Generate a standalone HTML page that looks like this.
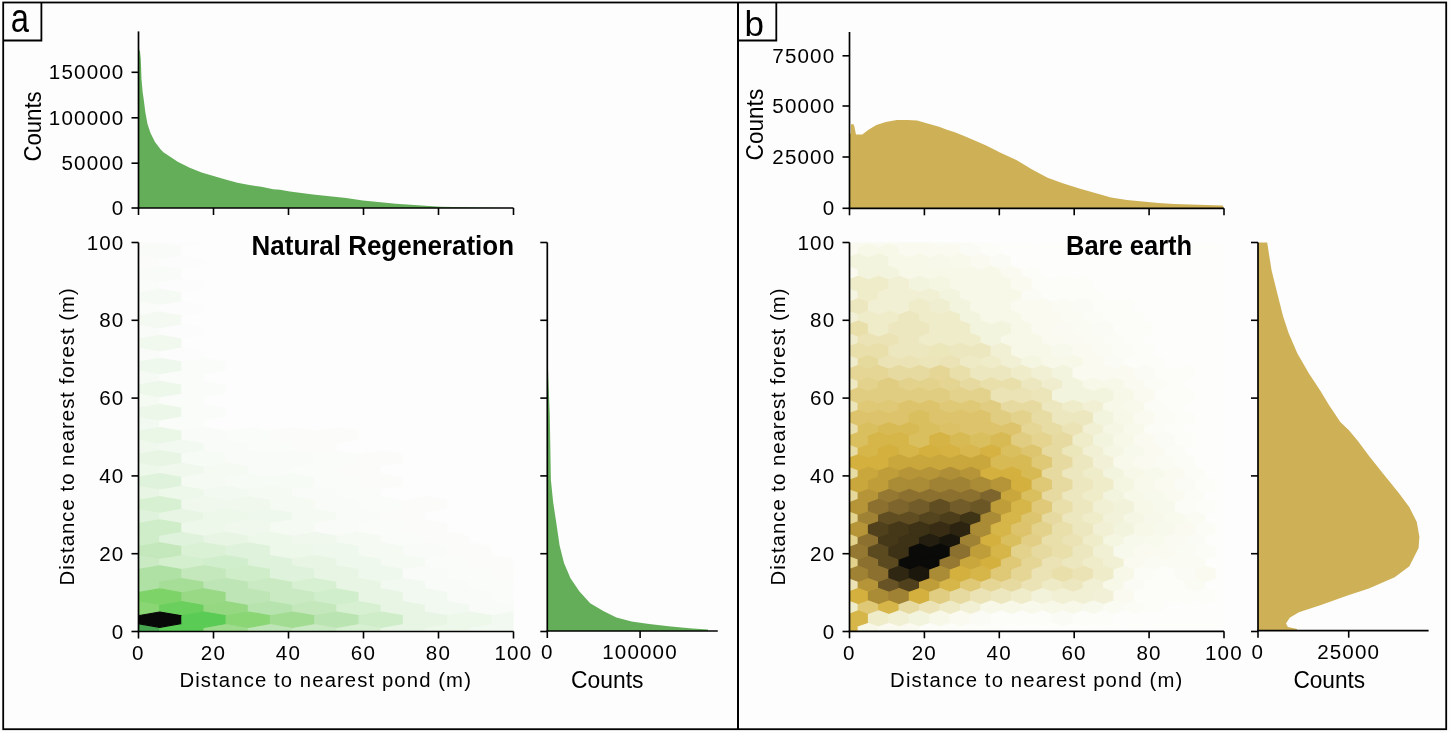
<!DOCTYPE html>
<html><head><meta charset="utf-8"><style>
html,body{margin:0;padding:0;background:#fdfdfd;width:1450px;height:733px;overflow:hidden;}
svg{display:block;will-change:transform;}
</style></head><body>
<svg width="1450" height="733" viewBox="0 0 1450 733" font-family='"Liberation Sans", sans-serif'>
<rect x="0" y="0" width="1450" height="733" fill="#fdfdfd"/>
<defs><clipPath id="clipL"><rect x="138.5" y="242.5" width="375" height="389"/></clipPath><clipPath id="clipR"><rect x="849.5" y="242.5" width="374.5" height="389"/></clipPath></defs>
<g clip-path="url(#clipL)" stroke-width="1.2" stroke-linejoin="round">
<polygon points="159.75,627.36 137.60,623.51 115.45,627.36 115.45,635.04 137.60,638.89 159.75,635.04" fill="#48a852" stroke="#48a852"/>
<polygon points="204.05,627.36 181.90,623.51 159.75,627.36 159.75,635.04 181.90,638.89 204.05,635.04" fill="#5acb55" stroke="#5acb55"/>
<polygon points="248.35,627.36 226.20,623.51 204.05,627.36 204.05,635.04 226.20,638.89 248.35,635.04" fill="#9edb8d" stroke="#9edb8d"/>
<polygon points="292.65,627.36 270.50,623.51 248.35,627.36 248.35,635.04 270.50,638.89 292.65,635.04" fill="#bee5b5" stroke="#bee5b5"/>
<polygon points="336.95,627.36 314.80,623.51 292.65,627.36 292.65,635.04 314.80,638.89 336.95,635.04" fill="#c9eac2" stroke="#c9eac2"/>
<polygon points="381.25,627.36 359.10,623.51 336.95,627.36 336.95,635.04 359.10,638.89 381.25,635.04" fill="#d7f0d1" stroke="#d7f0d1"/>
<polygon points="425.55,627.36 403.40,623.51 381.25,627.36 381.25,635.04 403.40,638.89 425.55,635.04" fill="#e8f5e4" stroke="#e8f5e4"/>
<polygon points="469.85,627.36 447.70,623.51 425.55,627.36 425.55,635.04 447.70,638.89 469.85,635.04" fill="#edf7ea" stroke="#edf7ea"/>
<polygon points="514.15,627.36 492.00,623.51 469.85,627.36 469.85,635.04 492.00,638.89 514.15,635.04" fill="#f2f9f0" stroke="#f2f9f0"/>
<polygon points="558.45,627.36 536.30,623.51 514.15,627.36 514.15,635.04 536.30,638.89 558.45,635.04" fill="#f8fbf7" stroke="#f8fbf7"/>
<polygon points="159.75,604.30 137.60,600.45 115.45,604.30 115.45,611.98 137.60,615.83 159.75,611.98" fill="#8ad675" stroke="#8ad675"/>
<polygon points="204.05,604.30 181.90,600.45 159.75,604.30 159.75,611.98 181.90,615.83 204.05,611.98" fill="#6bcf5e" stroke="#6bcf5e"/>
<polygon points="248.35,604.30 226.20,600.45 204.05,604.30 204.05,611.98 226.20,615.83 248.35,611.98" fill="#96d882" stroke="#96d882"/>
<polygon points="292.65,604.30 270.50,600.45 248.35,604.30 248.35,611.98 270.50,615.83 292.65,611.98" fill="#b7e3af" stroke="#b7e3af"/>
<polygon points="336.95,604.30 314.80,600.45 292.65,604.30 292.65,611.98 314.80,615.83 336.95,611.98" fill="#c4e7bb" stroke="#c4e7bb"/>
<polygon points="381.25,604.30 359.10,600.45 336.95,604.30 336.95,611.98 359.10,615.83 381.25,611.98" fill="#d7f0d1" stroke="#d7f0d1"/>
<polygon points="425.55,604.30 403.40,600.45 381.25,604.30 381.25,611.98 403.40,615.83 425.55,611.98" fill="#e8f5e4" stroke="#e8f5e4"/>
<polygon points="469.85,604.30 447.70,600.45 425.55,604.30 425.55,611.98 447.70,615.83 469.85,611.98" fill="#f2f9f0" stroke="#f2f9f0"/>
<polygon points="514.15,604.30 492.00,600.45 469.85,604.30 469.85,611.98 492.00,615.83 514.15,611.98" fill="#f8fbf7" stroke="#f8fbf7"/>
<polygon points="558.45,604.30 536.30,600.45 514.15,604.30 514.15,611.98 536.30,615.83 558.45,611.98" fill="#fafcf9" stroke="#fafcf9"/>
<polygon points="159.75,581.24 137.60,577.39 115.45,581.24 115.45,588.92 137.60,592.77 159.75,588.92" fill="#afe0a4" stroke="#afe0a4"/>
<polygon points="204.05,581.24 181.90,577.39 159.75,581.24 159.75,588.92 181.90,592.77 204.05,588.92" fill="#a6de98" stroke="#a6de98"/>
<polygon points="248.35,581.24 226.20,577.39 204.05,581.24 204.05,588.92 226.20,592.77 248.35,588.92" fill="#bee5b5" stroke="#bee5b5"/>
<polygon points="292.65,581.24 270.50,577.39 248.35,581.24 248.35,588.92 270.50,592.77 292.65,588.92" fill="#c9eac2" stroke="#c9eac2"/>
<polygon points="336.95,581.24 314.80,577.39 292.65,581.24 292.65,588.92 314.80,592.77 336.95,588.92" fill="#d7f0d1" stroke="#d7f0d1"/>
<polygon points="381.25,581.24 359.10,577.39 336.95,581.24 336.95,588.92 359.10,592.77 381.25,588.92" fill="#e8f5e4" stroke="#e8f5e4"/>
<polygon points="425.55,581.24 403.40,577.39 381.25,581.24 381.25,588.92 403.40,592.77 425.55,588.92" fill="#f2f9f0" stroke="#f2f9f0"/>
<polygon points="469.85,581.24 447.70,577.39 425.55,581.24 425.55,588.92 447.70,592.77 469.85,588.92" fill="#f8fbf7" stroke="#f8fbf7"/>
<polygon points="514.15,581.24 492.00,577.39 469.85,581.24 469.85,588.92 492.00,592.77 514.15,588.92" fill="#fafcf9" stroke="#fafcf9"/>
<polygon points="558.45,581.24 536.30,577.39 514.15,581.24 514.15,588.92 536.30,592.77 558.45,588.92" fill="#fbfcfa" stroke="#fbfcfa"/>
<polygon points="159.75,558.18 137.60,554.33 115.45,558.18 115.45,565.86 137.60,569.71 159.75,565.86" fill="#c9eac2" stroke="#c9eac2"/>
<polygon points="204.05,558.18 181.90,554.33 159.75,558.18 159.75,565.86 181.90,569.71 204.05,565.86" fill="#d3efce" stroke="#d3efce"/>
<polygon points="248.35,558.18 226.20,554.33 204.05,558.18 204.05,565.86 226.20,569.71 248.35,565.86" fill="#d1eecc" stroke="#d1eecc"/>
<polygon points="292.65,558.18 270.50,554.33 248.35,558.18 248.35,565.86 270.50,569.71 292.65,565.86" fill="#dff2db" stroke="#dff2db"/>
<polygon points="336.95,558.18 314.80,554.33 292.65,558.18 292.65,565.86 314.80,569.71 336.95,565.86" fill="#e8f5e4" stroke="#e8f5e4"/>
<polygon points="381.25,558.18 359.10,554.33 336.95,558.18 336.95,565.86 359.10,569.71 381.25,565.86" fill="#eff8ed" stroke="#eff8ed"/>
<polygon points="425.55,558.18 403.40,554.33 381.25,558.18 381.25,565.86 403.40,569.71 425.55,565.86" fill="#f5faf3" stroke="#f5faf3"/>
<polygon points="469.85,558.18 447.70,554.33 425.55,558.18 425.55,565.86 447.70,569.71 469.85,565.86" fill="#fafcf9" stroke="#fafcf9"/>
<polygon points="514.15,558.18 492.00,554.33 469.85,558.18 469.85,565.86 492.00,569.71 514.15,565.86" fill="#fbfcfa" stroke="#fbfcfa"/>
<polygon points="558.45,558.18 536.30,554.33 514.15,558.18 514.15,565.86 536.30,569.71 558.45,565.86" fill="#fcfdfc" stroke="#fcfdfc"/>
<polygon points="159.75,535.12 137.60,531.27 115.45,535.12 115.45,542.80 137.60,546.65 159.75,542.80" fill="#ceedc8" stroke="#ceedc8"/>
<polygon points="204.05,535.12 181.90,531.27 159.75,535.12 159.75,542.80 181.90,546.65 204.05,542.80" fill="#dff2db" stroke="#dff2db"/>
<polygon points="248.35,535.12 226.20,531.27 204.05,535.12 204.05,542.80 226.20,546.65 248.35,542.80" fill="#e8f5e4" stroke="#e8f5e4"/>
<polygon points="292.65,535.12 270.50,531.27 248.35,535.12 248.35,542.80 270.50,546.65 292.65,542.80" fill="#edf7ea" stroke="#edf7ea"/>
<polygon points="336.95,535.12 314.80,531.27 292.65,535.12 292.65,542.80 314.80,546.65 336.95,542.80" fill="#f0f8ee" stroke="#f0f8ee"/>
<polygon points="381.25,535.12 359.10,531.27 336.95,535.12 336.95,542.80 359.10,546.65 381.25,542.80" fill="#f5faf3" stroke="#f5faf3"/>
<polygon points="425.55,535.12 403.40,531.27 381.25,535.12 381.25,542.80 403.40,546.65 425.55,542.80" fill="#fafcf9" stroke="#fafcf9"/>
<polygon points="469.85,535.12 447.70,531.27 425.55,535.12 425.55,542.80 447.70,546.65 469.85,542.80" fill="#fbfcfa" stroke="#fbfcfa"/>
<polygon points="514.15,535.12 492.00,531.27 469.85,535.12 469.85,542.80 492.00,546.65 514.15,542.80" fill="#fcfdfc" stroke="#fcfdfc"/>
<polygon points="558.45,535.12 536.30,531.27 514.15,535.12 514.15,542.80 536.30,546.65 558.45,542.80" fill="#fcfdfc" stroke="#fcfdfc"/>
<polygon points="159.75,512.06 137.60,508.21 115.45,512.06 115.45,519.74 137.60,523.59 159.75,519.74" fill="#dff2db" stroke="#dff2db"/>
<polygon points="204.05,512.06 181.90,508.21 159.75,512.06 159.75,519.74 181.90,523.59 204.05,519.74" fill="#e8f5e4" stroke="#e8f5e4"/>
<polygon points="248.35,512.06 226.20,508.21 204.05,512.06 204.05,519.74 226.20,523.59 248.35,519.74" fill="#edf7ea" stroke="#edf7ea"/>
<polygon points="292.65,512.06 270.50,508.21 248.35,512.06 248.35,519.74 270.50,523.59 292.65,519.74" fill="#eff8ed" stroke="#eff8ed"/>
<polygon points="336.95,512.06 314.80,508.21 292.65,512.06 292.65,519.74 314.80,523.59 336.95,519.74" fill="#f5faf3" stroke="#f5faf3"/>
<polygon points="381.25,512.06 359.10,508.21 336.95,512.06 336.95,519.74 359.10,523.59 381.25,519.74" fill="#f9fbf8" stroke="#f9fbf8"/>
<polygon points="425.55,512.06 403.40,508.21 381.25,512.06 381.25,519.74 403.40,523.59 425.55,519.74" fill="#fbfcfa" stroke="#fbfcfa"/>
<polygon points="469.85,512.06 447.70,508.21 425.55,512.06 425.55,519.74 447.70,523.59 469.85,519.74" fill="#fcfdfc" stroke="#fcfdfc"/>
<polygon points="514.15,512.06 492.00,508.21 469.85,512.06 469.85,519.74 492.00,523.59 514.15,519.74" fill="#fcfdfc" stroke="#fcfdfc"/>
<polygon points="558.45,512.06 536.30,508.21 514.15,512.06 514.15,519.74 536.30,523.59 558.45,519.74" fill="#fcfdfc" stroke="#fcfdfc"/>
<polygon points="159.75,489.00 137.60,485.15 115.45,489.00 115.45,496.68 137.60,500.53 159.75,496.68" fill="#e8f5e4" stroke="#e8f5e4"/>
<polygon points="204.05,489.00 181.90,485.15 159.75,489.00 159.75,496.68 181.90,500.53 204.05,496.68" fill="#edf7ea" stroke="#edf7ea"/>
<polygon points="248.35,489.00 226.20,485.15 204.05,489.00 204.05,496.68 226.20,500.53 248.35,496.68" fill="#f2f9f0" stroke="#f2f9f0"/>
<polygon points="292.65,489.00 270.50,485.15 248.35,489.00 248.35,496.68 270.50,500.53 292.65,496.68" fill="#f5faf3" stroke="#f5faf3"/>
<polygon points="336.95,489.00 314.80,485.15 292.65,489.00 292.65,496.68 314.80,500.53 336.95,496.68" fill="#f8fbf7" stroke="#f8fbf7"/>
<polygon points="381.25,489.00 359.10,485.15 336.95,489.00 336.95,496.68 359.10,500.53 381.25,496.68" fill="#fafcf9" stroke="#fafcf9"/>
<polygon points="425.55,489.00 403.40,485.15 381.25,489.00 381.25,496.68 403.40,500.53 425.55,496.68" fill="#fcfdfc" stroke="#fcfdfc"/>
<polygon points="469.85,489.00 447.70,485.15 425.55,489.00 425.55,496.68 447.70,500.53 469.85,496.68" fill="#fcfdfc" stroke="#fcfdfc"/>
<polygon points="514.15,489.00 492.00,485.15 469.85,489.00 469.85,496.68 492.00,500.53 514.15,496.68" fill="#fcfdfc" stroke="#fcfdfc"/>
<polygon points="558.45,489.00 536.30,485.15 514.15,489.00 514.15,496.68 536.30,500.53 558.45,496.68" fill="#fcfdfc" stroke="#fcfdfc"/>
<polygon points="159.75,465.94 137.60,462.09 115.45,465.94 115.45,473.62 137.60,477.47 159.75,473.62" fill="#edf7ea" stroke="#edf7ea"/>
<polygon points="204.05,465.94 181.90,462.09 159.75,465.94 159.75,473.62 181.90,477.47 204.05,473.62" fill="#f0f8ee" stroke="#f0f8ee"/>
<polygon points="248.35,465.94 226.20,462.09 204.05,465.94 204.05,473.62 226.20,477.47 248.35,473.62" fill="#f5faf3" stroke="#f5faf3"/>
<polygon points="292.65,465.94 270.50,462.09 248.35,465.94 248.35,473.62 270.50,477.47 292.65,473.62" fill="#f8fbf7" stroke="#f8fbf7"/>
<polygon points="336.95,465.94 314.80,462.09 292.65,465.94 292.65,473.62 314.80,477.47 336.95,473.62" fill="#fafcf9" stroke="#fafcf9"/>
<polygon points="381.25,465.94 359.10,462.09 336.95,465.94 336.95,473.62 359.10,477.47 381.25,473.62" fill="#fbfcfa" stroke="#fbfcfa"/>
<polygon points="425.55,465.94 403.40,462.09 381.25,465.94 381.25,473.62 403.40,477.47 425.55,473.62" fill="#fcfdfc" stroke="#fcfdfc"/>
<polygon points="469.85,465.94 447.70,462.09 425.55,465.94 425.55,473.62 447.70,477.47 469.85,473.62" fill="#fcfdfc" stroke="#fcfdfc"/>
<polygon points="514.15,465.94 492.00,462.09 469.85,465.94 469.85,473.62 492.00,477.47 514.15,473.62" fill="#fcfdfc" stroke="#fcfdfc"/>
<polygon points="558.45,465.94 536.30,462.09 514.15,465.94 514.15,473.62 536.30,477.47 558.45,473.62" fill="#fcfdfc" stroke="#fcfdfc"/>
<polygon points="159.75,442.88 137.60,439.03 115.45,442.88 115.45,450.56 137.60,454.41 159.75,450.56" fill="#f0f8ee" stroke="#f0f8ee"/>
<polygon points="204.05,442.88 181.90,439.03 159.75,442.88 159.75,450.56 181.90,454.41 204.05,450.56" fill="#f2f9f0" stroke="#f2f9f0"/>
<polygon points="248.35,442.88 226.20,439.03 204.05,442.88 204.05,450.56 226.20,454.41 248.35,450.56" fill="#f8fbf7" stroke="#f8fbf7"/>
<polygon points="292.65,442.88 270.50,439.03 248.35,442.88 248.35,450.56 270.50,454.41 292.65,450.56" fill="#fafcf9" stroke="#fafcf9"/>
<polygon points="336.95,442.88 314.80,439.03 292.65,442.88 292.65,450.56 314.80,454.41 336.95,450.56" fill="#fbfcfa" stroke="#fbfcfa"/>
<polygon points="381.25,442.88 359.10,439.03 336.95,442.88 336.95,450.56 359.10,454.41 381.25,450.56" fill="#fcfdfc" stroke="#fcfdfc"/>
<polygon points="425.55,442.88 403.40,439.03 381.25,442.88 381.25,450.56 403.40,454.41 425.55,450.56" fill="#fcfdfc" stroke="#fcfdfc"/>
<polygon points="469.85,442.88 447.70,439.03 425.55,442.88 425.55,450.56 447.70,454.41 469.85,450.56" fill="#fcfdfc" stroke="#fcfdfc"/>
<polygon points="514.15,442.88 492.00,439.03 469.85,442.88 469.85,450.56 492.00,454.41 514.15,450.56" fill="#fcfdfc" stroke="#fcfdfc"/>
<polygon points="558.45,442.88 536.30,439.03 514.15,442.88 514.15,450.56 536.30,454.41 558.45,450.56" fill="#fcfdfc" stroke="#fcfdfc"/>
<polygon points="159.75,419.82 137.60,415.97 115.45,419.82 115.45,427.50 137.60,431.35 159.75,427.50" fill="#f2f9f0" stroke="#f2f9f0"/>
<polygon points="204.05,419.82 181.90,415.97 159.75,419.82 159.75,427.50 181.90,431.35 204.05,427.50" fill="#f9fcf9" stroke="#f9fcf9"/>
<polygon points="248.35,419.82 226.20,415.97 204.05,419.82 204.05,427.50 226.20,431.35 248.35,427.50" fill="#fcfdfc" stroke="#fcfdfc"/>
<polygon points="292.65,419.82 270.50,415.97 248.35,419.82 248.35,427.50 270.50,431.35 292.65,427.50" fill="#fcfdfc" stroke="#fcfdfc"/>
<polygon points="336.95,419.82 314.80,415.97 292.65,419.82 292.65,427.50 314.80,431.35 336.95,427.50" fill="#fcfdfc" stroke="#fcfdfc"/>
<polygon points="381.25,419.82 359.10,415.97 336.95,419.82 336.95,427.50 359.10,431.35 381.25,427.50" fill="#fcfdfc" stroke="#fcfdfc"/>
<polygon points="425.55,419.82 403.40,415.97 381.25,419.82 381.25,427.50 403.40,431.35 425.55,427.50" fill="#fcfdfc" stroke="#fcfdfc"/>
<polygon points="469.85,419.82 447.70,415.97 425.55,419.82 425.55,427.50 447.70,431.35 469.85,427.50" fill="#fcfdfc" stroke="#fcfdfc"/>
<polygon points="514.15,419.82 492.00,415.97 469.85,419.82 469.85,427.50 492.00,431.35 514.15,427.50" fill="#fcfdfc" stroke="#fcfdfc"/>
<polygon points="558.45,419.82 536.30,415.97 514.15,419.82 514.15,427.50 536.30,431.35 558.45,427.50" fill="#fcfdfc" stroke="#fcfdfc"/>
<polygon points="159.75,396.76 137.60,392.91 115.45,396.76 115.45,404.44 137.60,408.29 159.75,404.44" fill="#f5faf3" stroke="#f5faf3"/>
<polygon points="204.05,396.76 181.90,392.91 159.75,396.76 159.75,404.44 181.90,408.29 204.05,404.44" fill="#f9fcf9" stroke="#f9fcf9"/>
<polygon points="248.35,396.76 226.20,392.91 204.05,396.76 204.05,404.44 226.20,408.29 248.35,404.44" fill="#fcfdfc" stroke="#fcfdfc"/>
<polygon points="292.65,396.76 270.50,392.91 248.35,396.76 248.35,404.44 270.50,408.29 292.65,404.44" fill="#fcfdfc" stroke="#fcfdfc"/>
<polygon points="336.95,396.76 314.80,392.91 292.65,396.76 292.65,404.44 314.80,408.29 336.95,404.44" fill="#fcfdfc" stroke="#fcfdfc"/>
<polygon points="381.25,396.76 359.10,392.91 336.95,396.76 336.95,404.44 359.10,408.29 381.25,404.44" fill="#fcfdfc" stroke="#fcfdfc"/>
<polygon points="425.55,396.76 403.40,392.91 381.25,396.76 381.25,404.44 403.40,408.29 425.55,404.44" fill="#fcfdfc" stroke="#fcfdfc"/>
<polygon points="469.85,396.76 447.70,392.91 425.55,396.76 425.55,404.44 447.70,408.29 469.85,404.44" fill="#fcfdfc" stroke="#fcfdfc"/>
<polygon points="514.15,396.76 492.00,392.91 469.85,396.76 469.85,404.44 492.00,408.29 514.15,404.44" fill="#fcfdfc" stroke="#fcfdfc"/>
<polygon points="558.45,396.76 536.30,392.91 514.15,396.76 514.15,404.44 536.30,408.29 558.45,404.44" fill="#fcfdfc" stroke="#fcfdfc"/>
<polygon points="159.75,373.70 137.60,369.85 115.45,373.70 115.45,381.38 137.60,385.23 159.75,381.38" fill="#f6faf4" stroke="#f6faf4"/>
<polygon points="204.05,373.70 181.90,369.85 159.75,373.70 159.75,381.38 181.90,385.23 204.05,381.38" fill="#f9fcf9" stroke="#f9fcf9"/>
<polygon points="248.35,373.70 226.20,369.85 204.05,373.70 204.05,381.38 226.20,385.23 248.35,381.38" fill="#fcfdfc" stroke="#fcfdfc"/>
<polygon points="292.65,373.70 270.50,369.85 248.35,373.70 248.35,381.38 270.50,385.23 292.65,381.38" fill="#fcfdfc" stroke="#fcfdfc"/>
<polygon points="336.95,373.70 314.80,369.85 292.65,373.70 292.65,381.38 314.80,385.23 336.95,381.38" fill="#fcfdfc" stroke="#fcfdfc"/>
<polygon points="381.25,373.70 359.10,369.85 336.95,373.70 336.95,381.38 359.10,385.23 381.25,381.38" fill="#fcfdfc" stroke="#fcfdfc"/>
<polygon points="425.55,373.70 403.40,369.85 381.25,373.70 381.25,381.38 403.40,385.23 425.55,381.38" fill="#fcfdfc" stroke="#fcfdfc"/>
<polygon points="469.85,373.70 447.70,369.85 425.55,373.70 425.55,381.38 447.70,385.23 469.85,381.38" fill="#fcfdfc" stroke="#fcfdfc"/>
<polygon points="514.15,373.70 492.00,369.85 469.85,373.70 469.85,381.38 492.00,385.23 514.15,381.38" fill="#fcfdfc" stroke="#fcfdfc"/>
<polygon points="558.45,373.70 536.30,369.85 514.15,373.70 514.15,381.38 536.30,385.23 558.45,381.38" fill="#fcfdfc" stroke="#fcfdfc"/>
<polygon points="159.75,350.64 137.60,346.79 115.45,350.64 115.45,358.32 137.60,362.17 159.75,358.32" fill="#f8fbf7" stroke="#f8fbf7"/>
<polygon points="204.05,350.64 181.90,346.79 159.75,350.64 159.75,358.32 181.90,362.17 204.05,358.32" fill="#fbfcfb" stroke="#fbfcfb"/>
<polygon points="248.35,350.64 226.20,346.79 204.05,350.64 204.05,358.32 226.20,362.17 248.35,358.32" fill="#fcfdfc" stroke="#fcfdfc"/>
<polygon points="292.65,350.64 270.50,346.79 248.35,350.64 248.35,358.32 270.50,362.17 292.65,358.32" fill="#fcfdfc" stroke="#fcfdfc"/>
<polygon points="336.95,350.64 314.80,346.79 292.65,350.64 292.65,358.32 314.80,362.17 336.95,358.32" fill="#fcfdfc" stroke="#fcfdfc"/>
<polygon points="381.25,350.64 359.10,346.79 336.95,350.64 336.95,358.32 359.10,362.17 381.25,358.32" fill="#fcfdfc" stroke="#fcfdfc"/>
<polygon points="425.55,350.64 403.40,346.79 381.25,350.64 381.25,358.32 403.40,362.17 425.55,358.32" fill="#fcfdfc" stroke="#fcfdfc"/>
<polygon points="469.85,350.64 447.70,346.79 425.55,350.64 425.55,358.32 447.70,362.17 469.85,358.32" fill="#fcfdfc" stroke="#fcfdfc"/>
<polygon points="514.15,350.64 492.00,346.79 469.85,350.64 469.85,358.32 492.00,362.17 514.15,358.32" fill="#fcfdfc" stroke="#fcfdfc"/>
<polygon points="558.45,350.64 536.30,346.79 514.15,350.64 514.15,358.32 536.30,362.17 558.45,358.32" fill="#fcfdfc" stroke="#fcfdfc"/>
<polygon points="159.75,327.58 137.60,323.73 115.45,327.58 115.45,335.26 137.60,339.11 159.75,335.26" fill="#f9fbf8" stroke="#f9fbf8"/>
<polygon points="204.05,327.58 181.90,323.73 159.75,327.58 159.75,335.26 181.90,339.11 204.05,335.26" fill="#fbfcfb" stroke="#fbfcfb"/>
<polygon points="248.35,327.58 226.20,323.73 204.05,327.58 204.05,335.26 226.20,339.11 248.35,335.26" fill="#fcfdfc" stroke="#fcfdfc"/>
<polygon points="292.65,327.58 270.50,323.73 248.35,327.58 248.35,335.26 270.50,339.11 292.65,335.26" fill="#fcfdfc" stroke="#fcfdfc"/>
<polygon points="336.95,327.58 314.80,323.73 292.65,327.58 292.65,335.26 314.80,339.11 336.95,335.26" fill="#fcfdfc" stroke="#fcfdfc"/>
<polygon points="381.25,327.58 359.10,323.73 336.95,327.58 336.95,335.26 359.10,339.11 381.25,335.26" fill="#fcfdfc" stroke="#fcfdfc"/>
<polygon points="425.55,327.58 403.40,323.73 381.25,327.58 381.25,335.26 403.40,339.11 425.55,335.26" fill="#fcfdfc" stroke="#fcfdfc"/>
<polygon points="469.85,327.58 447.70,323.73 425.55,327.58 425.55,335.26 447.70,339.11 469.85,335.26" fill="#fcfdfc" stroke="#fcfdfc"/>
<polygon points="514.15,327.58 492.00,323.73 469.85,327.58 469.85,335.26 492.00,339.11 514.15,335.26" fill="#fcfdfc" stroke="#fcfdfc"/>
<polygon points="558.45,327.58 536.30,323.73 514.15,327.58 514.15,335.26 536.30,339.11 558.45,335.26" fill="#fcfdfc" stroke="#fcfdfc"/>
<polygon points="159.75,304.52 137.60,300.67 115.45,304.52 115.45,312.20 137.60,316.05 159.75,312.20" fill="#fafcf9" stroke="#fafcf9"/>
<polygon points="204.05,304.52 181.90,300.67 159.75,304.52 159.75,312.20 181.90,316.05 204.05,312.20" fill="#fbfcfb" stroke="#fbfcfb"/>
<polygon points="248.35,304.52 226.20,300.67 204.05,304.52 204.05,312.20 226.20,316.05 248.35,312.20" fill="#fcfdfc" stroke="#fcfdfc"/>
<polygon points="292.65,304.52 270.50,300.67 248.35,304.52 248.35,312.20 270.50,316.05 292.65,312.20" fill="#fcfdfc" stroke="#fcfdfc"/>
<polygon points="336.95,304.52 314.80,300.67 292.65,304.52 292.65,312.20 314.80,316.05 336.95,312.20" fill="#fcfdfc" stroke="#fcfdfc"/>
<polygon points="381.25,304.52 359.10,300.67 336.95,304.52 336.95,312.20 359.10,316.05 381.25,312.20" fill="#fcfdfc" stroke="#fcfdfc"/>
<polygon points="425.55,304.52 403.40,300.67 381.25,304.52 381.25,312.20 403.40,316.05 425.55,312.20" fill="#fcfdfc" stroke="#fcfdfc"/>
<polygon points="469.85,304.52 447.70,300.67 425.55,304.52 425.55,312.20 447.70,316.05 469.85,312.20" fill="#fcfdfc" stroke="#fcfdfc"/>
<polygon points="514.15,304.52 492.00,300.67 469.85,304.52 469.85,312.20 492.00,316.05 514.15,312.20" fill="#fcfdfc" stroke="#fcfdfc"/>
<polygon points="558.45,304.52 536.30,300.67 514.15,304.52 514.15,312.20 536.30,316.05 558.45,312.20" fill="#fcfdfc" stroke="#fcfdfc"/>
<polygon points="159.75,281.46 137.60,277.61 115.45,281.46 115.45,289.14 137.60,292.99 159.75,289.14" fill="#fafcf9" stroke="#fafcf9"/>
<polygon points="204.05,281.46 181.90,277.61 159.75,281.46 159.75,289.14 181.90,292.99 204.05,289.14" fill="#fbfcfb" stroke="#fbfcfb"/>
<polygon points="248.35,281.46 226.20,277.61 204.05,281.46 204.05,289.14 226.20,292.99 248.35,289.14" fill="#fcfdfc" stroke="#fcfdfc"/>
<polygon points="292.65,281.46 270.50,277.61 248.35,281.46 248.35,289.14 270.50,292.99 292.65,289.14" fill="#fcfdfc" stroke="#fcfdfc"/>
<polygon points="336.95,281.46 314.80,277.61 292.65,281.46 292.65,289.14 314.80,292.99 336.95,289.14" fill="#fcfdfc" stroke="#fcfdfc"/>
<polygon points="381.25,281.46 359.10,277.61 336.95,281.46 336.95,289.14 359.10,292.99 381.25,289.14" fill="#fcfdfc" stroke="#fcfdfc"/>
<polygon points="425.55,281.46 403.40,277.61 381.25,281.46 381.25,289.14 403.40,292.99 425.55,289.14" fill="#fcfdfc" stroke="#fcfdfc"/>
<polygon points="469.85,281.46 447.70,277.61 425.55,281.46 425.55,289.14 447.70,292.99 469.85,289.14" fill="#fcfdfc" stroke="#fcfdfc"/>
<polygon points="514.15,281.46 492.00,277.61 469.85,281.46 469.85,289.14 492.00,292.99 514.15,289.14" fill="#fcfdfc" stroke="#fcfdfc"/>
<polygon points="558.45,281.46 536.30,277.61 514.15,281.46 514.15,289.14 536.30,292.99 558.45,289.14" fill="#fcfdfc" stroke="#fcfdfc"/>
<polygon points="159.75,258.40 137.60,254.55 115.45,258.40 115.45,266.08 137.60,269.93 159.75,266.08" fill="#fbfcfa" stroke="#fbfcfa"/>
<polygon points="204.05,258.40 181.90,254.55 159.75,258.40 159.75,266.08 181.90,269.93 204.05,266.08" fill="#fbfcfb" stroke="#fbfcfb"/>
<polygon points="248.35,258.40 226.20,254.55 204.05,258.40 204.05,266.08 226.20,269.93 248.35,266.08" fill="#fcfdfc" stroke="#fcfdfc"/>
<polygon points="292.65,258.40 270.50,254.55 248.35,258.40 248.35,266.08 270.50,269.93 292.65,266.08" fill="#fcfdfc" stroke="#fcfdfc"/>
<polygon points="336.95,258.40 314.80,254.55 292.65,258.40 292.65,266.08 314.80,269.93 336.95,266.08" fill="#fcfdfc" stroke="#fcfdfc"/>
<polygon points="381.25,258.40 359.10,254.55 336.95,258.40 336.95,266.08 359.10,269.93 381.25,266.08" fill="#fcfdfc" stroke="#fcfdfc"/>
<polygon points="425.55,258.40 403.40,254.55 381.25,258.40 381.25,266.08 403.40,269.93 425.55,266.08" fill="#fcfdfc" stroke="#fcfdfc"/>
<polygon points="469.85,258.40 447.70,254.55 425.55,258.40 425.55,266.08 447.70,269.93 469.85,266.08" fill="#fcfdfc" stroke="#fcfdfc"/>
<polygon points="514.15,258.40 492.00,254.55 469.85,258.40 469.85,266.08 492.00,269.93 514.15,266.08" fill="#fcfdfc" stroke="#fcfdfc"/>
<polygon points="558.45,258.40 536.30,254.55 514.15,258.40 514.15,266.08 536.30,269.93 558.45,266.08" fill="#fcfdfc" stroke="#fcfdfc"/>
<polygon points="159.75,235.34 137.60,231.49 115.45,235.34 115.45,243.02 137.60,246.87 159.75,243.02" fill="#fbfcfa" stroke="#fbfcfa"/>
<polygon points="204.05,235.34 181.90,231.49 159.75,235.34 159.75,243.02 181.90,246.87 204.05,243.02" fill="#fbfcfb" stroke="#fbfcfb"/>
<polygon points="248.35,235.34 226.20,231.49 204.05,235.34 204.05,243.02 226.20,246.87 248.35,243.02" fill="#fcfdfc" stroke="#fcfdfc"/>
<polygon points="292.65,235.34 270.50,231.49 248.35,235.34 248.35,243.02 270.50,246.87 292.65,243.02" fill="#fcfdfc" stroke="#fcfdfc"/>
<polygon points="336.95,235.34 314.80,231.49 292.65,235.34 292.65,243.02 314.80,246.87 336.95,243.02" fill="#fcfdfc" stroke="#fcfdfc"/>
<polygon points="381.25,235.34 359.10,231.49 336.95,235.34 336.95,243.02 359.10,246.87 381.25,243.02" fill="#fcfdfc" stroke="#fcfdfc"/>
<polygon points="425.55,235.34 403.40,231.49 381.25,235.34 381.25,243.02 403.40,246.87 425.55,243.02" fill="#fcfdfc" stroke="#fcfdfc"/>
<polygon points="469.85,235.34 447.70,231.49 425.55,235.34 425.55,243.02 447.70,246.87 469.85,243.02" fill="#fcfdfc" stroke="#fcfdfc"/>
<polygon points="514.15,235.34 492.00,231.49 469.85,235.34 469.85,243.02 492.00,246.87 514.15,243.02" fill="#fcfdfc" stroke="#fcfdfc"/>
<polygon points="558.45,235.34 536.30,231.49 514.15,235.34 514.15,243.02 536.30,246.87 558.45,243.02" fill="#fcfdfc" stroke="#fcfdfc"/>
<polygon points="181.90,615.83 159.75,611.98 137.60,615.83 137.60,623.51 159.75,627.36 181.90,623.51" fill="#080808" stroke="#080808"/>
<polygon points="226.20,615.83 204.05,611.98 181.90,615.83 181.90,623.51 204.05,627.36 226.20,623.51" fill="#5acb55" stroke="#5acb55"/>
<polygon points="270.50,615.83 248.35,611.98 226.20,615.83 226.20,623.51 248.35,627.36 270.50,623.51" fill="#8ad675" stroke="#8ad675"/>
<polygon points="314.80,615.83 292.65,611.98 270.50,615.83 270.50,623.51 292.65,627.36 314.80,623.51" fill="#a2dc92" stroke="#a2dc92"/>
<polygon points="359.10,615.83 336.95,611.98 314.80,615.83 314.80,623.51 336.95,627.36 359.10,623.51" fill="#bae4b1" stroke="#bae4b1"/>
<polygon points="403.40,615.83 381.25,611.98 359.10,615.83 359.10,623.51 381.25,627.36 403.40,623.51" fill="#ceedc8" stroke="#ceedc8"/>
<polygon points="447.70,615.83 425.55,611.98 403.40,615.83 403.40,623.51 425.55,627.36 447.70,623.51" fill="#e8f5e4" stroke="#e8f5e4"/>
<polygon points="492.00,615.83 469.85,611.98 447.70,615.83 447.70,623.51 469.85,627.36 492.00,623.51" fill="#edf7ea" stroke="#edf7ea"/>
<polygon points="536.30,615.83 514.15,611.98 492.00,615.83 492.00,623.51 514.15,627.36 536.30,623.51" fill="#f2f9f0" stroke="#f2f9f0"/>
<polygon points="181.90,592.77 159.75,588.92 137.60,592.77 137.60,600.45 159.75,604.30 181.90,600.45" fill="#7ed368" stroke="#7ed368"/>
<polygon points="226.20,592.77 204.05,588.92 181.90,592.77 181.90,600.45 204.05,604.30 226.20,600.45" fill="#99d986" stroke="#99d986"/>
<polygon points="270.50,592.77 248.35,588.92 226.20,592.77 226.20,600.45 248.35,604.30 270.50,600.45" fill="#bee5b5" stroke="#bee5b5"/>
<polygon points="314.80,592.77 292.65,588.92 270.50,592.77 270.50,600.45 292.65,604.30 314.80,600.45" fill="#c9eac2" stroke="#c9eac2"/>
<polygon points="359.10,592.77 336.95,588.92 314.80,592.77 314.80,600.45 336.95,604.30 359.10,600.45" fill="#d1eecc" stroke="#d1eecc"/>
<polygon points="403.40,592.77 381.25,588.92 359.10,592.77 359.10,600.45 381.25,604.30 403.40,600.45" fill="#e8f5e4" stroke="#e8f5e4"/>
<polygon points="447.70,592.77 425.55,588.92 403.40,592.77 403.40,600.45 425.55,604.30 447.70,600.45" fill="#f2f9f0" stroke="#f2f9f0"/>
<polygon points="492.00,592.77 469.85,588.92 447.70,592.77 447.70,600.45 469.85,604.30 492.00,600.45" fill="#f8fbf7" stroke="#f8fbf7"/>
<polygon points="536.30,592.77 514.15,588.92 492.00,592.77 492.00,600.45 514.15,604.30 536.30,600.45" fill="#fafcf9" stroke="#fafcf9"/>
<polygon points="181.90,569.71 159.75,565.86 137.60,569.71 137.60,577.39 159.75,581.24 181.90,577.39" fill="#afe0a4" stroke="#afe0a4"/>
<polygon points="226.20,569.71 204.05,565.86 181.90,569.71 181.90,577.39 204.05,581.24 226.20,577.39" fill="#c4e7bb" stroke="#c4e7bb"/>
<polygon points="270.50,569.71 248.35,565.86 226.20,569.71 226.20,577.39 248.35,581.24 270.50,577.39" fill="#ceedc8" stroke="#ceedc8"/>
<polygon points="314.80,569.71 292.65,565.86 270.50,569.71 270.50,577.39 292.65,581.24 314.80,577.39" fill="#dff2db" stroke="#dff2db"/>
<polygon points="359.10,569.71 336.95,565.86 314.80,569.71 314.80,577.39 336.95,581.24 359.10,577.39" fill="#e8f5e4" stroke="#e8f5e4"/>
<polygon points="403.40,569.71 381.25,565.86 359.10,569.71 359.10,577.39 381.25,581.24 403.40,577.39" fill="#eff8ed" stroke="#eff8ed"/>
<polygon points="447.70,569.71 425.55,565.86 403.40,569.71 403.40,577.39 425.55,581.24 447.70,577.39" fill="#f8fbf7" stroke="#f8fbf7"/>
<polygon points="492.00,569.71 469.85,565.86 447.70,569.71 447.70,577.39 469.85,581.24 492.00,577.39" fill="#fafcf9" stroke="#fafcf9"/>
<polygon points="536.30,569.71 514.15,565.86 492.00,569.71 492.00,577.39 514.15,581.24 536.30,577.39" fill="#fbfcfa" stroke="#fbfcfa"/>
<polygon points="181.90,546.65 159.75,542.80 137.60,546.65 137.60,554.33 159.75,558.18 181.90,554.33" fill="#c4e7bb" stroke="#c4e7bb"/>
<polygon points="226.20,546.65 204.05,542.80 181.90,546.65 181.90,554.33 204.05,558.18 226.20,554.33" fill="#daf1d5" stroke="#daf1d5"/>
<polygon points="270.50,546.65 248.35,542.80 226.20,546.65 226.20,554.33 248.35,558.18 270.50,554.33" fill="#dff2db" stroke="#dff2db"/>
<polygon points="314.80,546.65 292.65,542.80 270.50,546.65 270.50,554.33 292.65,558.18 314.80,554.33" fill="#edf7ea" stroke="#edf7ea"/>
<polygon points="359.10,546.65 336.95,542.80 314.80,546.65 314.80,554.33 336.95,558.18 359.10,554.33" fill="#eff8ed" stroke="#eff8ed"/>
<polygon points="403.40,546.65 381.25,542.80 359.10,546.65 359.10,554.33 381.25,558.18 403.40,554.33" fill="#f5faf3" stroke="#f5faf3"/>
<polygon points="447.70,546.65 425.55,542.80 403.40,546.65 403.40,554.33 425.55,558.18 447.70,554.33" fill="#f9fbf8" stroke="#f9fbf8"/>
<polygon points="492.00,546.65 469.85,542.80 447.70,546.65 447.70,554.33 469.85,558.18 492.00,554.33" fill="#fbfcfa" stroke="#fbfcfa"/>
<polygon points="536.30,546.65 514.15,542.80 492.00,546.65 492.00,554.33 514.15,558.18 536.30,554.33" fill="#fcfdfc" stroke="#fcfdfc"/>
<polygon points="181.90,523.59 159.75,519.74 137.60,523.59 137.60,531.27 159.75,535.12 181.90,531.27" fill="#ceedc8" stroke="#ceedc8"/>
<polygon points="226.20,523.59 204.05,519.74 181.90,523.59 181.90,531.27 204.05,535.12 226.20,531.27" fill="#edf7ea" stroke="#edf7ea"/>
<polygon points="270.50,523.59 248.35,519.74 226.20,523.59 226.20,531.27 248.35,535.12 270.50,531.27" fill="#f0f8ee" stroke="#f0f8ee"/>
<polygon points="314.80,523.59 292.65,519.74 270.50,523.59 270.50,531.27 292.65,535.12 314.80,531.27" fill="#f5faf3" stroke="#f5faf3"/>
<polygon points="359.10,523.59 336.95,519.74 314.80,523.59 314.80,531.27 336.95,535.12 359.10,531.27" fill="#f8fbf7" stroke="#f8fbf7"/>
<polygon points="403.40,523.59 381.25,519.74 359.10,523.59 359.10,531.27 381.25,535.12 403.40,531.27" fill="#fafcf9" stroke="#fafcf9"/>
<polygon points="447.70,523.59 425.55,519.74 403.40,523.59 403.40,531.27 425.55,535.12 447.70,531.27" fill="#fbfcfa" stroke="#fbfcfa"/>
<polygon points="492.00,523.59 469.85,519.74 447.70,523.59 447.70,531.27 469.85,535.12 492.00,531.27" fill="#fcfdfc" stroke="#fcfdfc"/>
<polygon points="536.30,523.59 514.15,519.74 492.00,523.59 492.00,531.27 514.15,535.12 536.30,531.27" fill="#fcfdfc" stroke="#fcfdfc"/>
<polygon points="181.90,500.53 159.75,496.68 137.60,500.53 137.60,508.21 159.75,512.06 181.90,508.21" fill="#d7f0d1" stroke="#d7f0d1"/>
<polygon points="226.20,500.53 204.05,496.68 181.90,500.53 181.90,508.21 204.05,512.06 226.20,508.21" fill="#f0f8ee" stroke="#f0f8ee"/>
<polygon points="270.50,500.53 248.35,496.68 226.20,500.53 226.20,508.21 248.35,512.06 270.50,508.21" fill="#f0f8ee" stroke="#f0f8ee"/>
<polygon points="314.80,500.53 292.65,496.68 270.50,500.53 270.50,508.21 292.65,512.06 314.80,508.21" fill="#f5faf3" stroke="#f5faf3"/>
<polygon points="359.10,500.53 336.95,496.68 314.80,500.53 314.80,508.21 336.95,512.06 359.10,508.21" fill="#f8fbf7" stroke="#f8fbf7"/>
<polygon points="403.40,500.53 381.25,496.68 359.10,500.53 359.10,508.21 381.25,512.06 403.40,508.21" fill="#fafcf9" stroke="#fafcf9"/>
<polygon points="447.70,500.53 425.55,496.68 403.40,500.53 403.40,508.21 425.55,512.06 447.70,508.21" fill="#fbfcfa" stroke="#fbfcfa"/>
<polygon points="492.00,500.53 469.85,496.68 447.70,500.53 447.70,508.21 469.85,512.06 492.00,508.21" fill="#fcfdfc" stroke="#fcfdfc"/>
<polygon points="536.30,500.53 514.15,496.68 492.00,500.53 492.00,508.21 514.15,512.06 536.30,508.21" fill="#fcfdfc" stroke="#fcfdfc"/>
<polygon points="181.90,477.47 159.75,473.62 137.60,477.47 137.60,485.15 159.75,489.00 181.90,485.15" fill="#dff2db" stroke="#dff2db"/>
<polygon points="226.20,477.47 204.05,473.62 181.90,477.47 181.90,485.15 204.05,489.00 226.20,485.15" fill="#f5faf3" stroke="#f5faf3"/>
<polygon points="270.50,477.47 248.35,473.62 226.20,477.47 226.20,485.15 248.35,489.00 270.50,485.15" fill="#f7fbf6" stroke="#f7fbf6"/>
<polygon points="314.80,477.47 292.65,473.62 270.50,477.47 270.50,485.15 292.65,489.00 314.80,485.15" fill="#f7fbf6" stroke="#f7fbf6"/>
<polygon points="359.10,477.47 336.95,473.62 314.80,477.47 314.80,485.15 336.95,489.00 359.10,485.15" fill="#fafcf9" stroke="#fafcf9"/>
<polygon points="403.40,477.47 381.25,473.62 359.10,477.47 359.10,485.15 381.25,489.00 403.40,485.15" fill="#fbfcfa" stroke="#fbfcfa"/>
<polygon points="447.70,477.47 425.55,473.62 403.40,477.47 403.40,485.15 425.55,489.00 447.70,485.15" fill="#fcfdfc" stroke="#fcfdfc"/>
<polygon points="492.00,477.47 469.85,473.62 447.70,477.47 447.70,485.15 469.85,489.00 492.00,485.15" fill="#fcfdfc" stroke="#fcfdfc"/>
<polygon points="536.30,477.47 514.15,473.62 492.00,477.47 492.00,485.15 514.15,489.00 536.30,485.15" fill="#fcfdfc" stroke="#fcfdfc"/>
<polygon points="181.90,454.41 159.75,450.56 137.60,454.41 137.60,462.09 159.75,465.94 181.90,462.09" fill="#e8f5e4" stroke="#e8f5e4"/>
<polygon points="226.20,454.41 204.05,450.56 181.90,454.41 181.90,462.09 204.05,465.94 226.20,462.09" fill="#f7fbf6" stroke="#f7fbf6"/>
<polygon points="270.50,454.41 248.35,450.56 226.20,454.41 226.20,462.09 248.35,465.94 270.50,462.09" fill="#f8fbf7" stroke="#f8fbf7"/>
<polygon points="314.80,454.41 292.65,450.56 270.50,454.41 270.50,462.09 292.65,465.94 314.80,462.09" fill="#f8fbf7" stroke="#f8fbf7"/>
<polygon points="359.10,454.41 336.95,450.56 314.80,454.41 314.80,462.09 336.95,465.94 359.10,462.09" fill="#fafcf9" stroke="#fafcf9"/>
<polygon points="403.40,454.41 381.25,450.56 359.10,454.41 359.10,462.09 381.25,465.94 403.40,462.09" fill="#fbfcfa" stroke="#fbfcfa"/>
<polygon points="447.70,454.41 425.55,450.56 403.40,454.41 403.40,462.09 425.55,465.94 447.70,462.09" fill="#fcfdfc" stroke="#fcfdfc"/>
<polygon points="492.00,454.41 469.85,450.56 447.70,454.41 447.70,462.09 469.85,465.94 492.00,462.09" fill="#fcfdfc" stroke="#fcfdfc"/>
<polygon points="536.30,454.41 514.15,450.56 492.00,454.41 492.00,462.09 514.15,465.94 536.30,462.09" fill="#fcfdfc" stroke="#fcfdfc"/>
<polygon points="181.90,431.35 159.75,427.50 137.60,431.35 137.60,439.03 159.75,442.88 181.90,439.03" fill="#eaf6e6" stroke="#eaf6e6"/>
<polygon points="226.20,431.35 204.05,427.50 181.90,431.35 181.90,439.03 204.05,442.88 226.20,439.03" fill="#f8fbf7" stroke="#f8fbf7"/>
<polygon points="270.50,431.35 248.35,427.50 226.20,431.35 226.20,439.03 248.35,442.88 270.50,439.03" fill="#fafcf9" stroke="#fafcf9"/>
<polygon points="314.80,431.35 292.65,427.50 270.50,431.35 270.50,439.03 292.65,442.88 314.80,439.03" fill="#fbfcfa" stroke="#fbfcfa"/>
<polygon points="359.10,431.35 336.95,427.50 314.80,431.35 314.80,439.03 336.95,442.88 359.10,439.03" fill="#fbfcfa" stroke="#fbfcfa"/>
<polygon points="403.40,431.35 381.25,427.50 359.10,431.35 359.10,439.03 381.25,442.88 403.40,439.03" fill="#fcfdfc" stroke="#fcfdfc"/>
<polygon points="447.70,431.35 425.55,427.50 403.40,431.35 403.40,439.03 425.55,442.88 447.70,439.03" fill="#fcfdfc" stroke="#fcfdfc"/>
<polygon points="492.00,431.35 469.85,427.50 447.70,431.35 447.70,439.03 469.85,442.88 492.00,439.03" fill="#fcfdfc" stroke="#fcfdfc"/>
<polygon points="536.30,431.35 514.15,427.50 492.00,431.35 492.00,439.03 514.15,442.88 536.30,439.03" fill="#fcfdfc" stroke="#fcfdfc"/>
<polygon points="181.90,408.29 159.75,404.44 137.60,408.29 137.60,415.97 159.75,419.82 181.90,415.97" fill="#ecf7e9" stroke="#ecf7e9"/>
<polygon points="226.20,408.29 204.05,404.44 181.90,408.29 181.90,415.97 204.05,419.82 226.20,415.97" fill="#fafcfa" stroke="#fafcfa"/>
<polygon points="270.50,408.29 248.35,404.44 226.20,408.29 226.20,415.97 248.35,419.82 270.50,415.97" fill="#fcfdfc" stroke="#fcfdfc"/>
<polygon points="314.80,408.29 292.65,404.44 270.50,408.29 270.50,415.97 292.65,419.82 314.80,415.97" fill="#fcfdfc" stroke="#fcfdfc"/>
<polygon points="359.10,408.29 336.95,404.44 314.80,408.29 314.80,415.97 336.95,419.82 359.10,415.97" fill="#fcfdfc" stroke="#fcfdfc"/>
<polygon points="403.40,408.29 381.25,404.44 359.10,408.29 359.10,415.97 381.25,419.82 403.40,415.97" fill="#fcfdfc" stroke="#fcfdfc"/>
<polygon points="447.70,408.29 425.55,404.44 403.40,408.29 403.40,415.97 425.55,419.82 447.70,415.97" fill="#fcfdfc" stroke="#fcfdfc"/>
<polygon points="492.00,408.29 469.85,404.44 447.70,408.29 447.70,415.97 469.85,419.82 492.00,415.97" fill="#fcfdfc" stroke="#fcfdfc"/>
<polygon points="536.30,408.29 514.15,404.44 492.00,408.29 492.00,415.97 514.15,419.82 536.30,415.97" fill="#fcfdfc" stroke="#fcfdfc"/>
<polygon points="181.90,385.23 159.75,381.38 137.60,385.23 137.60,392.91 159.75,396.76 181.90,392.91" fill="#edf7ea" stroke="#edf7ea"/>
<polygon points="226.20,385.23 204.05,381.38 181.90,385.23 181.90,392.91 204.05,396.76 226.20,392.91" fill="#fafcfa" stroke="#fafcfa"/>
<polygon points="270.50,385.23 248.35,381.38 226.20,385.23 226.20,392.91 248.35,396.76 270.50,392.91" fill="#fcfdfc" stroke="#fcfdfc"/>
<polygon points="314.80,385.23 292.65,381.38 270.50,385.23 270.50,392.91 292.65,396.76 314.80,392.91" fill="#fcfdfc" stroke="#fcfdfc"/>
<polygon points="359.10,385.23 336.95,381.38 314.80,385.23 314.80,392.91 336.95,396.76 359.10,392.91" fill="#fcfdfc" stroke="#fcfdfc"/>
<polygon points="403.40,385.23 381.25,381.38 359.10,385.23 359.10,392.91 381.25,396.76 403.40,392.91" fill="#fcfdfc" stroke="#fcfdfc"/>
<polygon points="447.70,385.23 425.55,381.38 403.40,385.23 403.40,392.91 425.55,396.76 447.70,392.91" fill="#fcfdfc" stroke="#fcfdfc"/>
<polygon points="492.00,385.23 469.85,381.38 447.70,385.23 447.70,392.91 469.85,396.76 492.00,392.91" fill="#fcfdfc" stroke="#fcfdfc"/>
<polygon points="536.30,385.23 514.15,381.38 492.00,385.23 492.00,392.91 514.15,396.76 536.30,392.91" fill="#fcfdfc" stroke="#fcfdfc"/>
<polygon points="181.90,362.17 159.75,358.32 137.60,362.17 137.60,369.85 159.75,373.70 181.90,369.85" fill="#eff8ed" stroke="#eff8ed"/>
<polygon points="226.20,362.17 204.05,358.32 181.90,362.17 181.90,369.85 204.05,373.70 226.20,369.85" fill="#fafcfa" stroke="#fafcfa"/>
<polygon points="270.50,362.17 248.35,358.32 226.20,362.17 226.20,369.85 248.35,373.70 270.50,369.85" fill="#fcfdfc" stroke="#fcfdfc"/>
<polygon points="314.80,362.17 292.65,358.32 270.50,362.17 270.50,369.85 292.65,373.70 314.80,369.85" fill="#fcfdfc" stroke="#fcfdfc"/>
<polygon points="359.10,362.17 336.95,358.32 314.80,362.17 314.80,369.85 336.95,373.70 359.10,369.85" fill="#fcfdfc" stroke="#fcfdfc"/>
<polygon points="403.40,362.17 381.25,358.32 359.10,362.17 359.10,369.85 381.25,373.70 403.40,369.85" fill="#fcfdfc" stroke="#fcfdfc"/>
<polygon points="447.70,362.17 425.55,358.32 403.40,362.17 403.40,369.85 425.55,373.70 447.70,369.85" fill="#fcfdfc" stroke="#fcfdfc"/>
<polygon points="492.00,362.17 469.85,358.32 447.70,362.17 447.70,369.85 469.85,373.70 492.00,369.85" fill="#fcfdfc" stroke="#fcfdfc"/>
<polygon points="536.30,362.17 514.15,358.32 492.00,362.17 492.00,369.85 514.15,373.70 536.30,369.85" fill="#fcfdfc" stroke="#fcfdfc"/>
<polygon points="181.90,339.11 159.75,335.26 137.60,339.11 137.60,346.79 159.75,350.64 181.90,346.79" fill="#f1f9ef" stroke="#f1f9ef"/>
<polygon points="226.20,339.11 204.05,335.26 181.90,339.11 181.90,346.79 204.05,350.64 226.20,346.79" fill="#fcfdfc" stroke="#fcfdfc"/>
<polygon points="270.50,339.11 248.35,335.26 226.20,339.11 226.20,346.79 248.35,350.64 270.50,346.79" fill="#fcfdfc" stroke="#fcfdfc"/>
<polygon points="314.80,339.11 292.65,335.26 270.50,339.11 270.50,346.79 292.65,350.64 314.80,346.79" fill="#fcfdfc" stroke="#fcfdfc"/>
<polygon points="359.10,339.11 336.95,335.26 314.80,339.11 314.80,346.79 336.95,350.64 359.10,346.79" fill="#fcfdfc" stroke="#fcfdfc"/>
<polygon points="403.40,339.11 381.25,335.26 359.10,339.11 359.10,346.79 381.25,350.64 403.40,346.79" fill="#fcfdfc" stroke="#fcfdfc"/>
<polygon points="447.70,339.11 425.55,335.26 403.40,339.11 403.40,346.79 425.55,350.64 447.70,346.79" fill="#fcfdfc" stroke="#fcfdfc"/>
<polygon points="492.00,339.11 469.85,335.26 447.70,339.11 447.70,346.79 469.85,350.64 492.00,346.79" fill="#fcfdfc" stroke="#fcfdfc"/>
<polygon points="536.30,339.11 514.15,335.26 492.00,339.11 492.00,346.79 514.15,350.64 536.30,346.79" fill="#fcfdfc" stroke="#fcfdfc"/>
<polygon points="181.90,316.05 159.75,312.20 137.60,316.05 137.60,323.73 159.75,327.58 181.90,323.73" fill="#f4f9f2" stroke="#f4f9f2"/>
<polygon points="226.20,316.05 204.05,312.20 181.90,316.05 181.90,323.73 204.05,327.58 226.20,323.73" fill="#fcfdfc" stroke="#fcfdfc"/>
<polygon points="270.50,316.05 248.35,312.20 226.20,316.05 226.20,323.73 248.35,327.58 270.50,323.73" fill="#fcfdfc" stroke="#fcfdfc"/>
<polygon points="314.80,316.05 292.65,312.20 270.50,316.05 270.50,323.73 292.65,327.58 314.80,323.73" fill="#fcfdfc" stroke="#fcfdfc"/>
<polygon points="359.10,316.05 336.95,312.20 314.80,316.05 314.80,323.73 336.95,327.58 359.10,323.73" fill="#fcfdfc" stroke="#fcfdfc"/>
<polygon points="403.40,316.05 381.25,312.20 359.10,316.05 359.10,323.73 381.25,327.58 403.40,323.73" fill="#fcfdfc" stroke="#fcfdfc"/>
<polygon points="447.70,316.05 425.55,312.20 403.40,316.05 403.40,323.73 425.55,327.58 447.70,323.73" fill="#fcfdfc" stroke="#fcfdfc"/>
<polygon points="492.00,316.05 469.85,312.20 447.70,316.05 447.70,323.73 469.85,327.58 492.00,323.73" fill="#fcfdfc" stroke="#fcfdfc"/>
<polygon points="536.30,316.05 514.15,312.20 492.00,316.05 492.00,323.73 514.15,327.58 536.30,323.73" fill="#fcfdfc" stroke="#fcfdfc"/>
<polygon points="181.90,292.99 159.75,289.14 137.60,292.99 137.60,300.67 159.75,304.52 181.90,300.67" fill="#f6faf4" stroke="#f6faf4"/>
<polygon points="226.20,292.99 204.05,289.14 181.90,292.99 181.90,300.67 204.05,304.52 226.20,300.67" fill="#fcfdfc" stroke="#fcfdfc"/>
<polygon points="270.50,292.99 248.35,289.14 226.20,292.99 226.20,300.67 248.35,304.52 270.50,300.67" fill="#fcfdfc" stroke="#fcfdfc"/>
<polygon points="314.80,292.99 292.65,289.14 270.50,292.99 270.50,300.67 292.65,304.52 314.80,300.67" fill="#fcfdfc" stroke="#fcfdfc"/>
<polygon points="359.10,292.99 336.95,289.14 314.80,292.99 314.80,300.67 336.95,304.52 359.10,300.67" fill="#fcfdfc" stroke="#fcfdfc"/>
<polygon points="403.40,292.99 381.25,289.14 359.10,292.99 359.10,300.67 381.25,304.52 403.40,300.67" fill="#fcfdfc" stroke="#fcfdfc"/>
<polygon points="447.70,292.99 425.55,289.14 403.40,292.99 403.40,300.67 425.55,304.52 447.70,300.67" fill="#fcfdfc" stroke="#fcfdfc"/>
<polygon points="492.00,292.99 469.85,289.14 447.70,292.99 447.70,300.67 469.85,304.52 492.00,300.67" fill="#fcfdfc" stroke="#fcfdfc"/>
<polygon points="536.30,292.99 514.15,289.14 492.00,292.99 492.00,300.67 514.15,304.52 536.30,300.67" fill="#fcfdfc" stroke="#fcfdfc"/>
<polygon points="181.90,269.93 159.75,266.08 137.60,269.93 137.60,277.61 159.75,281.46 181.90,277.61" fill="#f8fbf7" stroke="#f8fbf7"/>
<polygon points="226.20,269.93 204.05,266.08 181.90,269.93 181.90,277.61 204.05,281.46 226.20,277.61" fill="#fcfdfc" stroke="#fcfdfc"/>
<polygon points="270.50,269.93 248.35,266.08 226.20,269.93 226.20,277.61 248.35,281.46 270.50,277.61" fill="#fcfdfc" stroke="#fcfdfc"/>
<polygon points="314.80,269.93 292.65,266.08 270.50,269.93 270.50,277.61 292.65,281.46 314.80,277.61" fill="#fcfdfc" stroke="#fcfdfc"/>
<polygon points="359.10,269.93 336.95,266.08 314.80,269.93 314.80,277.61 336.95,281.46 359.10,277.61" fill="#fcfdfc" stroke="#fcfdfc"/>
<polygon points="403.40,269.93 381.25,266.08 359.10,269.93 359.10,277.61 381.25,281.46 403.40,277.61" fill="#fcfdfc" stroke="#fcfdfc"/>
<polygon points="447.70,269.93 425.55,266.08 403.40,269.93 403.40,277.61 425.55,281.46 447.70,277.61" fill="#fcfdfc" stroke="#fcfdfc"/>
<polygon points="492.00,269.93 469.85,266.08 447.70,269.93 447.70,277.61 469.85,281.46 492.00,277.61" fill="#fcfdfc" stroke="#fcfdfc"/>
<polygon points="536.30,269.93 514.15,266.08 492.00,269.93 492.00,277.61 514.15,281.46 536.30,277.61" fill="#fcfdfc" stroke="#fcfdfc"/>
<polygon points="181.90,246.87 159.75,243.02 137.60,246.87 137.60,254.55 159.75,258.40 181.90,254.55" fill="#f9fbf8" stroke="#f9fbf8"/>
<polygon points="226.20,246.87 204.05,243.02 181.90,246.87 181.90,254.55 204.05,258.40 226.20,254.55" fill="#fcfdfc" stroke="#fcfdfc"/>
<polygon points="270.50,246.87 248.35,243.02 226.20,246.87 226.20,254.55 248.35,258.40 270.50,254.55" fill="#fcfdfc" stroke="#fcfdfc"/>
<polygon points="314.80,246.87 292.65,243.02 270.50,246.87 270.50,254.55 292.65,258.40 314.80,254.55" fill="#fcfdfc" stroke="#fcfdfc"/>
<polygon points="359.10,246.87 336.95,243.02 314.80,246.87 314.80,254.55 336.95,258.40 359.10,254.55" fill="#fcfdfc" stroke="#fcfdfc"/>
<polygon points="403.40,246.87 381.25,243.02 359.10,246.87 359.10,254.55 381.25,258.40 403.40,254.55" fill="#fcfdfc" stroke="#fcfdfc"/>
<polygon points="447.70,246.87 425.55,243.02 403.40,246.87 403.40,254.55 425.55,258.40 447.70,254.55" fill="#fcfdfc" stroke="#fcfdfc"/>
<polygon points="492.00,246.87 469.85,243.02 447.70,246.87 447.70,254.55 469.85,258.40 492.00,254.55" fill="#fcfdfc" stroke="#fcfdfc"/>
<polygon points="536.30,246.87 514.15,243.02 492.00,246.87 492.00,254.55 514.15,258.40 536.30,254.55" fill="#fcfdfc" stroke="#fcfdfc"/>
</g>
<g clip-path="url(#clipR)" stroke-width="1.2" stroke-linejoin="round">
<polygon points="858.23,625.78 848.00,622.07 837.77,625.78 837.77,633.22 848.00,636.93 858.23,633.22" fill="#d6b549" stroke="#d6b549"/>
<polygon points="878.69,625.78 868.46,622.07 858.23,625.78 858.23,633.22 868.46,636.93 878.69,633.22" fill="#f7f8e8" stroke="#f7f8e8"/>
<polygon points="899.15,625.78 888.92,622.07 878.69,625.78 878.69,633.22 888.92,636.93 899.15,633.22" fill="#fafaf0" stroke="#fafaf0"/>
<polygon points="919.61,625.78 909.38,622.07 899.15,625.78 899.15,633.22 909.38,636.93 919.61,633.22" fill="#fafaf0" stroke="#fafaf0"/>
<polygon points="940.07,625.78 929.84,622.07 919.61,625.78 919.61,633.22 929.84,636.93 940.07,633.22" fill="#fcfcf8" stroke="#fcfcf8"/>
<polygon points="960.53,625.78 950.30,622.07 940.07,625.78 940.07,633.22 950.30,636.93 960.53,633.22" fill="#fcfcf8" stroke="#fcfcf8"/>
<polygon points="980.99,625.78 970.76,622.07 960.53,625.78 960.53,633.22 970.76,636.93 980.99,633.22" fill="#fcfcf8" stroke="#fcfcf8"/>
<polygon points="1001.45,625.78 991.22,622.07 980.99,625.78 980.99,633.22 991.22,636.93 1001.45,633.22" fill="#fcfcf9" stroke="#fcfcf9"/>
<polygon points="1021.91,625.78 1011.68,622.07 1001.45,625.78 1001.45,633.22 1011.68,636.93 1021.91,633.22" fill="#fdfdfc" stroke="#fdfdfc"/>
<polygon points="1042.37,625.78 1032.14,622.07 1021.91,625.78 1021.91,633.22 1032.14,636.93 1042.37,633.22" fill="#fdfdfc" stroke="#fdfdfc"/>
<polygon points="1062.83,625.78 1052.60,622.07 1042.37,625.78 1042.37,633.22 1052.60,636.93 1062.83,633.22" fill="#fdfdfc" stroke="#fdfdfc"/>
<polygon points="1083.29,625.78 1073.06,622.07 1062.83,625.78 1062.83,633.22 1073.06,636.93 1083.29,633.22" fill="#fdfdfc" stroke="#fdfdfc"/>
<polygon points="1103.75,625.78 1093.52,622.07 1083.29,625.78 1083.29,633.22 1093.52,636.93 1103.75,633.22" fill="#fdfdfc" stroke="#fdfdfc"/>
<polygon points="1124.21,625.78 1113.98,622.07 1103.75,625.78 1103.75,633.22 1113.98,636.93 1124.21,633.22" fill="#fdfdfc" stroke="#fdfdfc"/>
<polygon points="1144.67,625.78 1134.44,622.07 1124.21,625.78 1124.21,633.22 1134.44,636.93 1144.67,633.22" fill="#fdfdfc" stroke="#fdfdfc"/>
<polygon points="1165.13,625.78 1154.90,622.07 1144.67,625.78 1144.67,633.22 1154.90,636.93 1165.13,633.22" fill="#fdfdfc" stroke="#fdfdfc"/>
<polygon points="1185.59,625.78 1175.36,622.07 1165.13,625.78 1165.13,633.22 1175.36,636.93 1185.59,633.22" fill="#fdfdfc" stroke="#fdfdfc"/>
<polygon points="1206.05,625.78 1195.82,622.07 1185.59,625.78 1185.59,633.22 1195.82,636.93 1206.05,633.22" fill="#fdfdfc" stroke="#fdfdfc"/>
<polygon points="1226.51,625.78 1216.28,622.07 1206.05,625.78 1206.05,633.22 1216.28,636.93 1226.51,633.22" fill="#fdfdfc" stroke="#fdfdfc"/>
<polygon points="858.23,603.48 848.00,599.77 837.77,603.48 837.77,610.92 848.00,614.63 858.23,610.92" fill="#efecca" stroke="#efecca"/>
<polygon points="878.69,603.48 868.46,599.77 858.23,603.48 858.23,610.92 868.46,614.63 878.69,610.92" fill="#dfc876" stroke="#dfc876"/>
<polygon points="899.15,603.48 888.92,599.77 878.69,603.48 878.69,610.92 888.92,614.63 899.15,610.92" fill="#d6b549" stroke="#d6b549"/>
<polygon points="919.61,603.48 909.38,599.77 899.15,603.48 899.15,610.92 909.38,614.63 919.61,610.92" fill="#e7daa0" stroke="#e7daa0"/>
<polygon points="940.07,603.48 929.84,599.77 919.61,603.48 919.61,610.92 929.84,614.63 940.07,610.92" fill="#ebe3b5" stroke="#ebe3b5"/>
<polygon points="960.53,603.48 950.30,599.77 940.07,603.48 940.07,610.92 950.30,614.63 960.53,610.92" fill="#eeeac5" stroke="#eeeac5"/>
<polygon points="980.99,603.48 970.76,599.77 960.53,603.48 960.53,610.92 970.76,614.63 980.99,610.92" fill="#f1f0d4" stroke="#f1f0d4"/>
<polygon points="1001.45,603.48 991.22,599.77 980.99,603.48 980.99,610.92 991.22,614.63 1001.45,610.92" fill="#f7f8e8" stroke="#f7f8e8"/>
<polygon points="1021.91,603.48 1011.68,599.77 1001.45,603.48 1001.45,610.92 1011.68,614.63 1021.91,610.92" fill="#f7f8e8" stroke="#f7f8e8"/>
<polygon points="1042.37,603.48 1032.14,599.77 1021.91,603.48 1021.91,610.92 1032.14,614.63 1042.37,610.92" fill="#f8f9eb" stroke="#f8f9eb"/>
<polygon points="1062.83,603.48 1052.60,599.77 1042.37,603.48 1042.37,610.92 1052.60,614.63 1062.83,610.92" fill="#f7f8e8" stroke="#f7f8e8"/>
<polygon points="1083.29,603.48 1073.06,599.77 1062.83,603.48 1062.83,610.92 1073.06,614.63 1083.29,610.92" fill="#f7f8e8" stroke="#f7f8e8"/>
<polygon points="1103.75,603.48 1093.52,599.77 1083.29,603.48 1083.29,610.92 1093.52,614.63 1103.75,610.92" fill="#f8f9ed" stroke="#f8f9ed"/>
<polygon points="1124.21,603.48 1113.98,599.77 1103.75,603.48 1103.75,610.92 1113.98,614.63 1124.21,610.92" fill="#fafbf3" stroke="#fafbf3"/>
<polygon points="1144.67,603.48 1134.44,599.77 1124.21,603.48 1124.21,610.92 1134.44,614.63 1144.67,610.92" fill="#fcfcf6" stroke="#fcfcf6"/>
<polygon points="1165.13,603.48 1154.90,599.77 1144.67,603.48 1144.67,610.92 1154.90,614.63 1165.13,610.92" fill="#fcfcf9" stroke="#fcfcf9"/>
<polygon points="1185.59,603.48 1175.36,599.77 1165.13,603.48 1165.13,610.92 1175.36,614.63 1185.59,610.92" fill="#fdfdfc" stroke="#fdfdfc"/>
<polygon points="1206.05,603.48 1195.82,599.77 1185.59,603.48 1185.59,610.92 1195.82,614.63 1206.05,610.92" fill="#fdfdfc" stroke="#fdfdfc"/>
<polygon points="1226.51,603.48 1216.28,599.77 1206.05,603.48 1206.05,610.92 1216.28,614.63 1226.51,610.92" fill="#fdfdfc" stroke="#fdfdfc"/>
<polygon points="858.23,581.18 848.00,577.47 837.77,581.18 837.77,588.62 848.00,592.33 858.23,588.62" fill="#ebe3b5" stroke="#ebe3b5"/>
<polygon points="878.69,581.18 868.46,577.47 858.23,581.18 858.23,588.62 868.46,592.33 878.69,588.62" fill="#b59538" stroke="#b59538"/>
<polygon points="899.15,581.18 888.92,577.47 878.69,581.18 878.69,588.62 888.92,592.33 899.15,588.62" fill="#675325" stroke="#675325"/>
<polygon points="919.61,581.18 909.38,577.47 899.15,581.18 899.15,588.62 909.38,592.33 919.61,588.62" fill="#50411c" stroke="#50411c"/>
<polygon points="940.07,581.18 929.84,577.47 919.61,581.18 919.61,588.62 929.84,592.33 940.07,588.62" fill="#bf9e3a" stroke="#bf9e3a"/>
<polygon points="960.53,581.18 950.30,577.47 940.07,581.18 940.07,588.62 950.30,592.33 960.53,588.62" fill="#d6b549" stroke="#d6b549"/>
<polygon points="980.99,581.18 970.76,577.47 960.53,581.18 960.53,588.62 970.76,592.33 980.99,588.62" fill="#dfc876" stroke="#dfc876"/>
<polygon points="1001.45,581.18 991.22,577.47 980.99,581.18 980.99,588.62 991.22,592.33 1001.45,588.62" fill="#e5d696" stroke="#e5d696"/>
<polygon points="1021.91,581.18 1011.68,577.47 1001.45,581.18 1001.45,588.62 1011.68,592.33 1021.91,588.62" fill="#e7daa0" stroke="#e7daa0"/>
<polygon points="1042.37,581.18 1032.14,577.47 1021.91,581.18 1021.91,588.62 1032.14,592.33 1042.37,588.62" fill="#ebe3b5" stroke="#ebe3b5"/>
<polygon points="1062.83,581.18 1052.60,577.47 1042.37,581.18 1042.37,588.62 1052.60,592.33 1062.83,588.62" fill="#eeeac5" stroke="#eeeac5"/>
<polygon points="1083.29,581.18 1073.06,577.47 1062.83,581.18 1062.83,588.62 1073.06,592.33 1083.29,588.62" fill="#ede7bf" stroke="#ede7bf"/>
<polygon points="1103.75,581.18 1093.52,577.47 1083.29,581.18 1083.29,588.62 1093.52,592.33 1103.75,588.62" fill="#f1f0d4" stroke="#f1f0d4"/>
<polygon points="1124.21,581.18 1113.98,577.47 1103.75,581.18 1103.75,588.62 1113.98,592.33 1124.21,588.62" fill="#f7f8e8" stroke="#f7f8e8"/>
<polygon points="1144.67,581.18 1134.44,577.47 1124.21,581.18 1124.21,588.62 1134.44,592.33 1144.67,588.62" fill="#fbfbf5" stroke="#fbfbf5"/>
<polygon points="1165.13,581.18 1154.90,577.47 1144.67,581.18 1144.67,588.62 1154.90,592.33 1165.13,588.62" fill="#fcfcf8" stroke="#fcfcf8"/>
<polygon points="1185.59,581.18 1175.36,577.47 1165.13,581.18 1165.13,588.62 1175.36,592.33 1185.59,588.62" fill="#fcfcf8" stroke="#fcfcf8"/>
<polygon points="1206.05,581.18 1195.82,577.47 1185.59,581.18 1185.59,588.62 1195.82,592.33 1206.05,588.62" fill="#fafbf3" stroke="#fafbf3"/>
<polygon points="1226.51,581.18 1216.28,577.47 1206.05,581.18 1206.05,588.62 1216.28,592.33 1226.51,588.62" fill="#fdfdfc" stroke="#fdfdfc"/>
<polygon points="858.23,558.88 848.00,555.17 837.77,558.88 837.77,566.32 848.00,570.03 858.23,566.32" fill="#e3d28c" stroke="#e3d28c"/>
<polygon points="878.69,558.88 868.46,555.17 858.23,558.88 858.23,566.32 868.46,570.03 878.69,566.32" fill="#8b7030" stroke="#8b7030"/>
<polygon points="899.15,558.88 888.92,555.17 878.69,558.88 878.69,566.32 888.92,570.03 899.15,566.32" fill="#5b4a20" stroke="#5b4a20"/>
<polygon points="919.61,558.88 909.38,555.17 899.15,558.88 899.15,566.32 909.38,570.03 919.61,566.32" fill="#0a0a08" stroke="#0a0a08"/>
<polygon points="940.07,558.88 929.84,555.17 919.61,558.88 919.61,566.32 929.84,570.03 940.07,566.32" fill="#0a0a08" stroke="#0a0a08"/>
<polygon points="960.53,558.88 950.30,555.17 940.07,558.88 940.07,566.32 950.30,570.03 960.53,566.32" fill="#957932" stroke="#957932"/>
<polygon points="980.99,558.88 970.76,555.17 960.53,558.88 960.53,566.32 970.76,570.03 980.99,566.32" fill="#caa73c" stroke="#caa73c"/>
<polygon points="1001.45,558.88 991.22,555.17 980.99,558.88 980.99,566.32 991.22,570.03 1001.45,566.32" fill="#d4b03e" stroke="#d4b03e"/>
<polygon points="1021.91,558.88 1011.68,555.17 1001.45,558.88 1001.45,566.32 1011.68,570.03 1021.91,566.32" fill="#dfc876" stroke="#dfc876"/>
<polygon points="1042.37,558.88 1032.14,555.17 1021.91,558.88 1021.91,566.32 1032.14,570.03 1042.37,566.32" fill="#e5d696" stroke="#e5d696"/>
<polygon points="1062.83,558.88 1052.60,555.17 1042.37,558.88 1042.37,566.32 1052.60,570.03 1062.83,566.32" fill="#ebe3b5" stroke="#ebe3b5"/>
<polygon points="1083.29,558.88 1073.06,555.17 1062.83,558.88 1062.83,566.32 1073.06,570.03 1083.29,566.32" fill="#ede7bf" stroke="#ede7bf"/>
<polygon points="1103.75,558.88 1093.52,555.17 1083.29,558.88 1083.29,566.32 1093.52,570.03 1103.75,566.32" fill="#efecca" stroke="#efecca"/>
<polygon points="1124.21,558.88 1113.98,555.17 1103.75,558.88 1103.75,566.32 1113.98,570.03 1124.21,566.32" fill="#f1f0d4" stroke="#f1f0d4"/>
<polygon points="1144.67,558.88 1134.44,555.17 1124.21,558.88 1124.21,566.32 1134.44,570.03 1144.67,566.32" fill="#fafaf0" stroke="#fafaf0"/>
<polygon points="1165.13,558.88 1154.90,555.17 1144.67,558.88 1144.67,566.32 1154.90,570.03 1165.13,566.32" fill="#fafbf3" stroke="#fafbf3"/>
<polygon points="1185.59,558.88 1175.36,555.17 1165.13,558.88 1165.13,566.32 1175.36,570.03 1185.59,566.32" fill="#fafbf3" stroke="#fafbf3"/>
<polygon points="1206.05,558.88 1195.82,555.17 1185.59,558.88 1185.59,566.32 1195.82,570.03 1206.05,566.32" fill="#fafbf3" stroke="#fafbf3"/>
<polygon points="1226.51,558.88 1216.28,555.17 1206.05,558.88 1206.05,566.32 1216.28,570.03 1226.51,566.32" fill="#fdfdfc" stroke="#fdfdfc"/>
<polygon points="858.23,536.58 848.00,532.87 837.77,536.58 837.77,544.02 848.00,547.73 858.23,544.02" fill="#e3d28c" stroke="#e3d28c"/>
<polygon points="878.69,536.58 868.46,532.87 858.23,536.58 858.23,544.02 868.46,547.73 878.69,544.02" fill="#8b7030" stroke="#8b7030"/>
<polygon points="899.15,536.58 888.92,532.87 878.69,536.58 878.69,544.02 888.92,547.73 899.15,544.02" fill="#453818" stroke="#453818"/>
<polygon points="919.61,536.58 909.38,532.87 899.15,536.58 899.15,544.02 909.38,547.73 919.61,544.02" fill="#3d3116" stroke="#3d3116"/>
<polygon points="940.07,536.58 929.84,532.87 919.61,536.58 919.61,544.02 929.84,547.73 940.07,544.02" fill="#231e0f" stroke="#231e0f"/>
<polygon points="960.53,536.58 950.30,532.87 940.07,536.58 940.07,544.02 950.30,547.73 960.53,544.02" fill="#17150c" stroke="#17150c"/>
<polygon points="980.99,536.58 970.76,532.87 960.53,536.58 960.53,544.02 970.76,547.73 980.99,544.02" fill="#a08234" stroke="#a08234"/>
<polygon points="1001.45,536.58 991.22,532.87 980.99,536.58 980.99,544.02 991.22,547.73 1001.45,544.02" fill="#d4b03e" stroke="#d4b03e"/>
<polygon points="1021.91,536.58 1011.68,532.87 1001.45,536.58 1001.45,544.02 1011.68,547.73 1021.91,544.02" fill="#dabf5f" stroke="#dabf5f"/>
<polygon points="1042.37,536.58 1032.14,532.87 1021.91,536.58 1021.91,544.02 1032.14,547.73 1042.37,544.02" fill="#e2cf85" stroke="#e2cf85"/>
<polygon points="1062.83,536.58 1052.60,532.87 1042.37,536.58 1042.37,544.02 1052.60,547.73 1062.83,544.02" fill="#e9dfab" stroke="#e9dfab"/>
<polygon points="1083.29,536.58 1073.06,532.87 1062.83,536.58 1062.83,544.02 1073.06,547.73 1083.29,544.02" fill="#ebe3b5" stroke="#ebe3b5"/>
<polygon points="1103.75,536.58 1093.52,532.87 1083.29,536.58 1083.29,544.02 1093.52,547.73 1103.75,544.02" fill="#efecca" stroke="#efecca"/>
<polygon points="1124.21,536.58 1113.98,532.87 1103.75,536.58 1103.75,544.02 1113.98,547.73 1124.21,544.02" fill="#f5f6e2" stroke="#f5f6e2"/>
<polygon points="1144.67,536.58 1134.44,532.87 1124.21,536.58 1124.21,544.02 1134.44,547.73 1144.67,544.02" fill="#f8f9ed" stroke="#f8f9ed"/>
<polygon points="1165.13,536.58 1154.90,532.87 1144.67,536.58 1144.67,544.02 1154.90,547.73 1165.13,544.02" fill="#f9faee" stroke="#f9faee"/>
<polygon points="1185.59,536.58 1175.36,532.87 1165.13,536.58 1165.13,544.02 1175.36,547.73 1185.59,544.02" fill="#fafaf2" stroke="#fafaf2"/>
<polygon points="1206.05,536.58 1195.82,532.87 1185.59,536.58 1185.59,544.02 1195.82,547.73 1206.05,544.02" fill="#fbfbf5" stroke="#fbfbf5"/>
<polygon points="1226.51,536.58 1216.28,532.87 1206.05,536.58 1206.05,544.02 1216.28,547.73 1226.51,544.02" fill="#fdfdfc" stroke="#fdfdfc"/>
<polygon points="858.23,514.28 848.00,510.57 837.77,514.28 837.77,521.72 848.00,525.43 858.23,521.72" fill="#e4d490" stroke="#e4d490"/>
<polygon points="878.69,514.28 868.46,510.57 858.23,514.28 858.23,521.72 868.46,525.43 878.69,521.72" fill="#a08234" stroke="#a08234"/>
<polygon points="899.15,514.28 888.92,510.57 878.69,514.28 878.69,521.72 888.92,525.43 899.15,521.72" fill="#604e22" stroke="#604e22"/>
<polygon points="919.61,514.28 909.38,510.57 899.15,514.28 899.15,521.72 909.38,525.43 919.61,521.72" fill="#604e22" stroke="#604e22"/>
<polygon points="940.07,514.28 929.84,510.57 919.61,514.28 919.61,521.72 929.84,525.43 940.07,521.72" fill="#55451e" stroke="#55451e"/>
<polygon points="960.53,514.28 950.30,510.57 940.07,514.28 940.07,521.72 950.30,525.43 960.53,521.72" fill="#4c3d1b" stroke="#4c3d1b"/>
<polygon points="980.99,514.28 970.76,510.57 960.53,514.28 960.53,521.72 970.76,525.43 980.99,521.72" fill="#403417" stroke="#403417"/>
<polygon points="1001.45,514.28 991.22,510.57 980.99,514.28 980.99,521.72 991.22,525.43 1001.45,521.72" fill="#aa8b36" stroke="#aa8b36"/>
<polygon points="1021.91,514.28 1011.68,510.57 1001.45,514.28 1001.45,521.72 1011.68,525.43 1021.91,521.72" fill="#d6b549" stroke="#d6b549"/>
<polygon points="1042.37,514.28 1032.14,510.57 1021.91,514.28 1021.91,521.72 1032.14,525.43 1042.37,521.72" fill="#ddc56f" stroke="#ddc56f"/>
<polygon points="1062.83,514.28 1052.60,510.57 1042.37,514.28 1042.37,521.72 1052.60,525.43 1062.83,521.72" fill="#e7daa0" stroke="#e7daa0"/>
<polygon points="1083.29,514.28 1073.06,510.57 1062.83,514.28 1062.83,521.72 1073.06,525.43 1083.29,521.72" fill="#ede7bf" stroke="#ede7bf"/>
<polygon points="1103.75,514.28 1093.52,510.57 1083.29,514.28 1083.29,521.72 1093.52,525.43 1103.75,521.72" fill="#efecca" stroke="#efecca"/>
<polygon points="1124.21,514.28 1113.98,510.57 1103.75,514.28 1103.75,521.72 1113.98,525.43 1124.21,521.72" fill="#f2f2da" stroke="#f2f2da"/>
<polygon points="1144.67,514.28 1134.44,510.57 1124.21,514.28 1124.21,521.72 1134.44,525.43 1144.67,521.72" fill="#f5f6e4" stroke="#f5f6e4"/>
<polygon points="1165.13,514.28 1154.90,510.57 1144.67,514.28 1144.67,521.72 1154.90,525.43 1165.13,521.72" fill="#f8f8ea" stroke="#f8f8ea"/>
<polygon points="1185.59,514.28 1175.36,510.57 1165.13,514.28 1165.13,521.72 1175.36,525.43 1185.59,521.72" fill="#f9faee" stroke="#f9faee"/>
<polygon points="1206.05,514.28 1195.82,510.57 1185.59,514.28 1185.59,521.72 1195.82,525.43 1206.05,521.72" fill="#fafbf3" stroke="#fafbf3"/>
<polygon points="1226.51,514.28 1216.28,510.57 1206.05,514.28 1206.05,521.72 1216.28,525.43 1226.51,521.72" fill="#fdfdfc" stroke="#fdfdfc"/>
<polygon points="858.23,491.98 848.00,488.27 837.77,491.98 837.77,499.42 848.00,503.13 858.23,499.42" fill="#e6d89a" stroke="#e6d89a"/>
<polygon points="878.69,491.98 868.46,488.27 858.23,491.98 858.23,499.42 868.46,503.13 878.69,499.42" fill="#b59538" stroke="#b59538"/>
<polygon points="899.15,491.98 888.92,488.27 878.69,491.98 878.69,499.42 888.92,503.13 899.15,499.42" fill="#957932" stroke="#957932"/>
<polygon points="919.61,491.98 909.38,488.27 899.15,491.98 899.15,499.42 909.38,503.13 919.61,499.42" fill="#8b7030" stroke="#8b7030"/>
<polygon points="940.07,491.98 929.84,488.27 919.61,491.98 919.61,499.42 929.84,503.13 940.07,499.42" fill="#8b7030" stroke="#8b7030"/>
<polygon points="960.53,491.98 950.30,488.27 940.07,491.98 940.07,499.42 950.30,503.13 960.53,499.42" fill="#8b7030" stroke="#8b7030"/>
<polygon points="980.99,491.98 970.76,488.27 960.53,491.98 960.53,499.42 970.76,503.13 980.99,499.42" fill="#8b7030" stroke="#8b7030"/>
<polygon points="1001.45,491.98 991.22,488.27 980.99,491.98 980.99,499.42 991.22,503.13 1001.45,499.42" fill="#7d652d" stroke="#7d652d"/>
<polygon points="1021.91,491.98 1011.68,488.27 1001.45,491.98 1001.45,499.42 1011.68,503.13 1021.91,499.42" fill="#caa73c" stroke="#caa73c"/>
<polygon points="1042.37,491.98 1032.14,488.27 1021.91,491.98 1021.91,499.42 1032.14,503.13 1042.37,499.42" fill="#dabf5f" stroke="#dabf5f"/>
<polygon points="1062.83,491.98 1052.60,488.27 1042.37,491.98 1042.37,499.42 1052.60,503.13 1062.83,499.42" fill="#e7daa0" stroke="#e7daa0"/>
<polygon points="1083.29,491.98 1073.06,488.27 1062.83,491.98 1062.83,499.42 1073.06,503.13 1083.29,499.42" fill="#ede7bf" stroke="#ede7bf"/>
<polygon points="1103.75,491.98 1093.52,488.27 1083.29,491.98 1083.29,499.42 1093.52,503.13 1103.75,499.42" fill="#efecca" stroke="#efecca"/>
<polygon points="1124.21,491.98 1113.98,488.27 1103.75,491.98 1103.75,499.42 1113.98,503.13 1124.21,499.42" fill="#f3f4de" stroke="#f3f4de"/>
<polygon points="1144.67,491.98 1134.44,488.27 1124.21,491.98 1124.21,499.42 1134.44,503.13 1144.67,499.42" fill="#f7f8e8" stroke="#f7f8e8"/>
<polygon points="1165.13,491.98 1154.90,488.27 1144.67,491.98 1144.67,499.42 1154.90,503.13 1165.13,499.42" fill="#f8f9ed" stroke="#f8f9ed"/>
<polygon points="1185.59,491.98 1175.36,488.27 1165.13,491.98 1165.13,499.42 1175.36,503.13 1185.59,499.42" fill="#fafaf0" stroke="#fafaf0"/>
<polygon points="1206.05,491.98 1195.82,488.27 1185.59,491.98 1185.59,499.42 1195.82,503.13 1206.05,499.42" fill="#fcfcf6" stroke="#fcfcf6"/>
<polygon points="1226.51,491.98 1216.28,488.27 1206.05,491.98 1206.05,499.42 1216.28,503.13 1226.51,499.42" fill="#fdfdfc" stroke="#fdfdfc"/>
<polygon points="858.23,469.68 848.00,465.97 837.77,469.68 837.77,477.12 848.00,480.83 858.23,477.12" fill="#e8dca5" stroke="#e8dca5"/>
<polygon points="878.69,469.68 868.46,465.97 858.23,469.68 858.23,477.12 868.46,480.83 878.69,477.12" fill="#caa73c" stroke="#caa73c"/>
<polygon points="899.15,469.68 888.92,465.97 878.69,469.68 878.69,477.12 888.92,480.83 899.15,477.12" fill="#bf9e3a" stroke="#bf9e3a"/>
<polygon points="919.61,469.68 909.38,465.97 899.15,469.68 899.15,477.12 909.38,480.83 919.61,477.12" fill="#b59538" stroke="#b59538"/>
<polygon points="940.07,469.68 929.84,465.97 919.61,469.68 919.61,477.12 929.84,480.83 940.07,477.12" fill="#b59538" stroke="#b59538"/>
<polygon points="960.53,469.68 950.30,465.97 940.07,469.68 940.07,477.12 950.30,480.83 960.53,477.12" fill="#ae8f37" stroke="#ae8f37"/>
<polygon points="980.99,469.68 970.76,465.97 960.53,469.68 960.53,477.12 970.76,480.83 980.99,477.12" fill="#b59538" stroke="#b59538"/>
<polygon points="1001.45,469.68 991.22,465.97 980.99,469.68 980.99,477.12 991.22,480.83 1001.45,477.12" fill="#d4b03e" stroke="#d4b03e"/>
<polygon points="1021.91,469.68 1011.68,465.97 1001.45,469.68 1001.45,477.12 1011.68,480.83 1021.91,477.12" fill="#d4b03e" stroke="#d4b03e"/>
<polygon points="1042.37,469.68 1032.14,465.97 1021.91,469.68 1021.91,477.12 1032.14,480.83 1042.37,477.12" fill="#d8ba54" stroke="#d8ba54"/>
<polygon points="1062.83,469.68 1052.60,465.97 1042.37,469.68 1042.37,477.12 1052.60,480.83 1062.83,477.12" fill="#e7daa0" stroke="#e7daa0"/>
<polygon points="1083.29,469.68 1073.06,465.97 1062.83,469.68 1062.83,477.12 1073.06,480.83 1083.29,477.12" fill="#ede7bf" stroke="#ede7bf"/>
<polygon points="1103.75,469.68 1093.52,465.97 1083.29,469.68 1083.29,477.12 1093.52,480.83 1103.75,477.12" fill="#efecca" stroke="#efecca"/>
<polygon points="1124.21,469.68 1113.98,465.97 1103.75,469.68 1103.75,477.12 1113.98,480.83 1124.21,477.12" fill="#f3f4de" stroke="#f3f4de"/>
<polygon points="1144.67,469.68 1134.44,465.97 1124.21,469.68 1124.21,477.12 1134.44,480.83 1144.67,477.12" fill="#f7f8e8" stroke="#f7f8e8"/>
<polygon points="1165.13,469.68 1154.90,465.97 1144.67,469.68 1144.67,477.12 1154.90,480.83 1165.13,477.12" fill="#f8f9ed" stroke="#f8f9ed"/>
<polygon points="1185.59,469.68 1175.36,465.97 1165.13,469.68 1165.13,477.12 1175.36,480.83 1185.59,477.12" fill="#fafaf0" stroke="#fafaf0"/>
<polygon points="1206.05,469.68 1195.82,465.97 1185.59,469.68 1185.59,477.12 1195.82,480.83 1206.05,477.12" fill="#fcfcf6" stroke="#fcfcf6"/>
<polygon points="1226.51,469.68 1216.28,465.97 1206.05,469.68 1206.05,477.12 1216.28,480.83 1226.51,477.12" fill="#fdfdfc" stroke="#fdfdfc"/>
<polygon points="858.23,447.38 848.00,443.67 837.77,447.38 837.77,454.82 848.00,458.53 858.23,454.82" fill="#e8dca5" stroke="#e8dca5"/>
<polygon points="878.69,447.38 868.46,443.67 858.23,447.38 858.23,454.82 868.46,458.53 878.69,454.82" fill="#d6b549" stroke="#d6b549"/>
<polygon points="899.15,447.38 888.92,443.67 878.69,447.38 878.69,454.82 888.92,458.53 899.15,454.82" fill="#d4b03e" stroke="#d4b03e"/>
<polygon points="919.61,447.38 909.38,443.67 899.15,447.38 899.15,454.82 909.38,458.53 919.61,454.82" fill="#d6b549" stroke="#d6b549"/>
<polygon points="940.07,447.38 929.84,443.67 919.61,447.38 919.61,454.82 929.84,458.53 940.07,454.82" fill="#d4b03e" stroke="#d4b03e"/>
<polygon points="960.53,447.38 950.30,443.67 940.07,447.38 940.07,454.82 950.30,458.53 960.53,454.82" fill="#d5b242" stroke="#d5b242"/>
<polygon points="980.99,447.38 970.76,443.67 960.53,447.38 960.53,454.82 970.76,458.53 980.99,454.82" fill="#d7b74e" stroke="#d7b74e"/>
<polygon points="1001.45,447.38 991.22,443.67 980.99,447.38 980.99,454.82 991.22,458.53 1001.45,454.82" fill="#d5b242" stroke="#d5b242"/>
<polygon points="1021.91,447.38 1011.68,443.67 1001.45,447.38 1001.45,454.82 1011.68,458.53 1021.91,454.82" fill="#dabf5f" stroke="#dabf5f"/>
<polygon points="1042.37,447.38 1032.14,443.67 1021.91,447.38 1021.91,454.82 1032.14,458.53 1042.37,454.82" fill="#ddc56f" stroke="#ddc56f"/>
<polygon points="1062.83,447.38 1052.60,443.67 1042.37,447.38 1042.37,454.82 1052.60,458.53 1062.83,454.82" fill="#e7daa0" stroke="#e7daa0"/>
<polygon points="1083.29,447.38 1073.06,443.67 1062.83,447.38 1062.83,454.82 1073.06,458.53 1083.29,454.82" fill="#ece6bb" stroke="#ece6bb"/>
<polygon points="1103.75,447.38 1093.52,443.67 1083.29,447.38 1083.29,454.82 1093.52,458.53 1103.75,454.82" fill="#f1f0d4" stroke="#f1f0d4"/>
<polygon points="1124.21,447.38 1113.98,443.67 1103.75,447.38 1103.75,454.82 1113.98,458.53 1124.21,454.82" fill="#f5f6e4" stroke="#f5f6e4"/>
<polygon points="1144.67,447.38 1134.44,443.67 1124.21,447.38 1124.21,454.82 1134.44,458.53 1144.67,454.82" fill="#f8f9ed" stroke="#f8f9ed"/>
<polygon points="1165.13,447.38 1154.90,443.67 1144.67,447.38 1144.67,454.82 1154.90,458.53 1165.13,454.82" fill="#fafaf0" stroke="#fafaf0"/>
<polygon points="1185.59,447.38 1175.36,443.67 1165.13,447.38 1165.13,454.82 1175.36,458.53 1185.59,454.82" fill="#fcfcf6" stroke="#fcfcf6"/>
<polygon points="1206.05,447.38 1195.82,443.67 1185.59,447.38 1185.59,454.82 1195.82,458.53 1206.05,454.82" fill="#fdfdfc" stroke="#fdfdfc"/>
<polygon points="1226.51,447.38 1216.28,443.67 1206.05,447.38 1206.05,454.82 1216.28,458.53 1226.51,454.82" fill="#fdfdfc" stroke="#fdfdfc"/>
<polygon points="858.23,425.08 848.00,421.37 837.77,425.08 837.77,432.52 848.00,436.23 858.23,432.52" fill="#eae0af" stroke="#eae0af"/>
<polygon points="878.69,425.08 868.46,421.37 858.23,425.08 858.23,432.52 868.46,436.23 878.69,432.52" fill="#dabf5f" stroke="#dabf5f"/>
<polygon points="899.15,425.08 888.92,421.37 878.69,425.08 878.69,432.52 888.92,436.23 899.15,432.52" fill="#d8ba54" stroke="#d8ba54"/>
<polygon points="919.61,425.08 909.38,421.37 899.15,425.08 899.15,432.52 909.38,436.23 919.61,432.52" fill="#d8ba54" stroke="#d8ba54"/>
<polygon points="940.07,425.08 929.84,421.37 919.61,425.08 919.61,432.52 929.84,436.23 940.07,432.52" fill="#dabf5f" stroke="#dabf5f"/>
<polygon points="960.53,425.08 950.30,421.37 940.07,425.08 940.07,432.52 950.30,436.23 960.53,432.52" fill="#dcc166" stroke="#dcc166"/>
<polygon points="980.99,425.08 970.76,421.37 960.53,425.08 960.53,432.52 970.76,436.23 980.99,432.52" fill="#ddc36b" stroke="#ddc36b"/>
<polygon points="1001.45,425.08 991.22,421.37 980.99,425.08 980.99,432.52 991.22,436.23 1001.45,432.52" fill="#ddc36b" stroke="#ddc36b"/>
<polygon points="1021.91,425.08 1011.68,421.37 1001.45,425.08 1001.45,432.52 1011.68,436.23 1021.91,432.52" fill="#ddc36b" stroke="#ddc36b"/>
<polygon points="1042.37,425.08 1032.14,421.37 1021.91,425.08 1021.91,432.52 1032.14,436.23 1042.37,432.52" fill="#e5d696" stroke="#e5d696"/>
<polygon points="1062.83,425.08 1052.60,421.37 1042.37,425.08 1042.37,432.52 1052.60,436.23 1062.83,432.52" fill="#e8dca5" stroke="#e8dca5"/>
<polygon points="1083.29,425.08 1073.06,421.37 1062.83,425.08 1062.83,432.52 1073.06,436.23 1083.29,432.52" fill="#ebe3b5" stroke="#ebe3b5"/>
<polygon points="1103.75,425.08 1093.52,421.37 1083.29,425.08 1083.29,432.52 1093.52,436.23 1103.75,432.52" fill="#f1f0d4" stroke="#f1f0d4"/>
<polygon points="1124.21,425.08 1113.98,421.37 1103.75,425.08 1103.75,432.52 1113.98,436.23 1124.21,432.52" fill="#f5f6e4" stroke="#f5f6e4"/>
<polygon points="1144.67,425.08 1134.44,421.37 1124.21,425.08 1124.21,432.52 1134.44,436.23 1144.67,432.52" fill="#f8f9eb" stroke="#f8f9eb"/>
<polygon points="1165.13,425.08 1154.90,421.37 1144.67,425.08 1144.67,432.52 1154.90,436.23 1165.13,432.52" fill="#fcfcf6" stroke="#fcfcf6"/>
<polygon points="1185.59,425.08 1175.36,421.37 1165.13,425.08 1165.13,432.52 1175.36,436.23 1185.59,432.52" fill="#fcfcf8" stroke="#fcfcf8"/>
<polygon points="1206.05,425.08 1195.82,421.37 1185.59,425.08 1185.59,432.52 1195.82,436.23 1206.05,432.52" fill="#fdfdfc" stroke="#fdfdfc"/>
<polygon points="1226.51,425.08 1216.28,421.37 1206.05,425.08 1206.05,432.52 1216.28,436.23 1226.51,432.52" fill="#fdfdfc" stroke="#fdfdfc"/>
<polygon points="858.23,402.78 848.00,399.07 837.77,402.78 837.77,410.22 848.00,413.93 858.23,410.22" fill="#ece5b9" stroke="#ece5b9"/>
<polygon points="878.69,402.78 868.46,399.07 858.23,402.78 858.23,410.22 868.46,413.93 878.69,410.22" fill="#dfc876" stroke="#dfc876"/>
<polygon points="899.15,402.78 888.92,399.07 878.69,402.78 878.69,410.22 888.92,413.93 899.15,410.22" fill="#dfc876" stroke="#dfc876"/>
<polygon points="919.61,402.78 909.38,399.07 899.15,402.78 899.15,410.22 909.38,413.93 919.61,410.22" fill="#ddc36b" stroke="#ddc36b"/>
<polygon points="940.07,402.78 929.84,399.07 919.61,402.78 919.61,410.22 929.84,413.93 940.07,410.22" fill="#ddc36b" stroke="#ddc36b"/>
<polygon points="960.53,402.78 950.30,399.07 940.07,402.78 940.07,410.22 950.30,413.93 960.53,410.22" fill="#dfc876" stroke="#dfc876"/>
<polygon points="980.99,402.78 970.76,399.07 960.53,402.78 960.53,410.22 970.76,413.93 980.99,410.22" fill="#dfc876" stroke="#dfc876"/>
<polygon points="1001.45,402.78 991.22,399.07 980.99,402.78 980.99,410.22 991.22,413.93 1001.45,410.22" fill="#e1cd81" stroke="#e1cd81"/>
<polygon points="1021.91,402.78 1011.68,399.07 1001.45,402.78 1001.45,410.22 1011.68,413.93 1021.91,410.22" fill="#e7daa0" stroke="#e7daa0"/>
<polygon points="1042.37,402.78 1032.14,399.07 1021.91,402.78 1021.91,410.22 1032.14,413.93 1042.37,410.22" fill="#e7daa0" stroke="#e7daa0"/>
<polygon points="1062.83,402.78 1052.60,399.07 1042.37,402.78 1042.37,410.22 1052.60,413.93 1062.83,410.22" fill="#ede7bf" stroke="#ede7bf"/>
<polygon points="1083.29,402.78 1073.06,399.07 1062.83,402.78 1062.83,410.22 1073.06,413.93 1083.29,410.22" fill="#efecca" stroke="#efecca"/>
<polygon points="1103.75,402.78 1093.52,399.07 1083.29,402.78 1083.29,410.22 1093.52,413.93 1103.75,410.22" fill="#f1f0d4" stroke="#f1f0d4"/>
<polygon points="1124.21,402.78 1113.98,399.07 1103.75,402.78 1103.75,410.22 1113.98,413.93 1124.21,410.22" fill="#f7f8e8" stroke="#f7f8e8"/>
<polygon points="1144.67,402.78 1134.44,399.07 1124.21,402.78 1124.21,410.22 1134.44,413.93 1144.67,410.22" fill="#f8f9eb" stroke="#f8f9eb"/>
<polygon points="1165.13,402.78 1154.90,399.07 1144.67,402.78 1144.67,410.22 1154.90,413.93 1165.13,410.22" fill="#fcfcf6" stroke="#fcfcf6"/>
<polygon points="1185.59,402.78 1175.36,399.07 1165.13,402.78 1165.13,410.22 1175.36,413.93 1185.59,410.22" fill="#fcfcf8" stroke="#fcfcf8"/>
<polygon points="1206.05,402.78 1195.82,399.07 1185.59,402.78 1185.59,410.22 1195.82,413.93 1206.05,410.22" fill="#fdfdfc" stroke="#fdfdfc"/>
<polygon points="1226.51,402.78 1216.28,399.07 1206.05,402.78 1206.05,410.22 1216.28,413.93 1226.51,410.22" fill="#fdfdfc" stroke="#fdfdfc"/>
<polygon points="858.23,380.48 848.00,376.77 837.77,380.48 837.77,387.92 848.00,391.63 858.23,387.92" fill="#eee9c3" stroke="#eee9c3"/>
<polygon points="878.69,380.48 868.46,376.77 858.23,380.48 858.23,387.92 868.46,391.63 878.69,387.92" fill="#e3d28c" stroke="#e3d28c"/>
<polygon points="899.15,380.48 888.92,376.77 878.69,380.48 878.69,387.92 888.92,391.63 899.15,387.92" fill="#e1cd81" stroke="#e1cd81"/>
<polygon points="919.61,380.48 909.38,376.77 899.15,380.48 899.15,387.92 909.38,391.63 919.61,387.92" fill="#e3d28c" stroke="#e3d28c"/>
<polygon points="940.07,380.48 929.84,376.77 919.61,380.48 919.61,387.92 929.84,391.63 940.07,387.92" fill="#e3d28c" stroke="#e3d28c"/>
<polygon points="960.53,380.48 950.30,376.77 940.07,380.48 940.07,387.92 950.30,391.63 960.53,387.92" fill="#e4d592" stroke="#e4d592"/>
<polygon points="980.99,380.48 970.76,376.77 960.53,380.48 960.53,387.92 970.76,391.63 980.99,387.92" fill="#e7daa0" stroke="#e7daa0"/>
<polygon points="1001.45,380.48 991.22,376.77 980.99,380.48 980.99,387.92 991.22,391.63 1001.45,387.92" fill="#e9dfab" stroke="#e9dfab"/>
<polygon points="1021.91,380.48 1011.68,376.77 1001.45,380.48 1001.45,387.92 1011.68,391.63 1021.91,387.92" fill="#e9dfab" stroke="#e9dfab"/>
<polygon points="1042.37,380.48 1032.14,376.77 1021.91,380.48 1021.91,387.92 1032.14,391.63 1042.37,387.92" fill="#ede7bf" stroke="#ede7bf"/>
<polygon points="1062.83,380.48 1052.60,376.77 1042.37,380.48 1042.37,387.92 1052.60,391.63 1062.83,387.92" fill="#f0edce" stroke="#f0edce"/>
<polygon points="1083.29,380.48 1073.06,376.77 1062.83,380.48 1062.83,387.92 1073.06,391.63 1083.29,387.92" fill="#f3f4de" stroke="#f3f4de"/>
<polygon points="1103.75,380.48 1093.52,376.77 1083.29,380.48 1083.29,387.92 1093.52,391.63 1103.75,387.92" fill="#f7f8e8" stroke="#f7f8e8"/>
<polygon points="1124.21,380.48 1113.98,376.77 1103.75,380.48 1103.75,387.92 1113.98,391.63 1124.21,387.92" fill="#f7f8e8" stroke="#f7f8e8"/>
<polygon points="1144.67,380.48 1134.44,376.77 1124.21,380.48 1124.21,387.92 1134.44,391.63 1144.67,387.92" fill="#fafaf0" stroke="#fafaf0"/>
<polygon points="1165.13,380.48 1154.90,376.77 1144.67,380.48 1144.67,387.92 1154.90,391.63 1165.13,387.92" fill="#fcfcf6" stroke="#fcfcf6"/>
<polygon points="1185.59,380.48 1175.36,376.77 1165.13,380.48 1165.13,387.92 1175.36,391.63 1185.59,387.92" fill="#fcfcf8" stroke="#fcfcf8"/>
<polygon points="1206.05,380.48 1195.82,376.77 1185.59,380.48 1185.59,387.92 1195.82,391.63 1206.05,387.92" fill="#fdfdfc" stroke="#fdfdfc"/>
<polygon points="1226.51,380.48 1216.28,376.77 1206.05,380.48 1206.05,387.92 1216.28,391.63 1226.51,387.92" fill="#fdfdfc" stroke="#fdfdfc"/>
<polygon points="858.23,358.18 848.00,354.47 837.77,358.18 837.77,365.62 848.00,369.33 858.23,365.62" fill="#f0edce" stroke="#f0edce"/>
<polygon points="878.69,358.18 868.46,354.47 858.23,358.18 858.23,365.62 868.46,369.33 878.69,365.62" fill="#e6d99c" stroke="#e6d99c"/>
<polygon points="899.15,358.18 888.92,354.47 878.69,358.18 878.69,365.62 888.92,369.33 899.15,365.62" fill="#ebe3b5" stroke="#ebe3b5"/>
<polygon points="919.61,358.18 909.38,354.47 899.15,358.18 899.15,365.62 909.38,369.33 919.61,365.62" fill="#ebe3b5" stroke="#ebe3b5"/>
<polygon points="940.07,358.18 929.84,354.47 919.61,358.18 919.61,365.62 929.84,369.33 940.07,365.62" fill="#ece5b9" stroke="#ece5b9"/>
<polygon points="960.53,358.18 950.30,354.47 940.07,358.18 940.07,365.62 950.30,369.33 960.53,365.62" fill="#ebe3b5" stroke="#ebe3b5"/>
<polygon points="980.99,358.18 970.76,354.47 960.53,358.18 960.53,365.62 970.76,369.33 980.99,365.62" fill="#eeeac5" stroke="#eeeac5"/>
<polygon points="1001.45,358.18 991.22,354.47 980.99,358.18 980.99,365.62 991.22,369.33 1001.45,365.62" fill="#efecca" stroke="#efecca"/>
<polygon points="1021.91,358.18 1011.68,354.47 1001.45,358.18 1001.45,365.62 1011.68,369.33 1021.91,365.62" fill="#f1f0d4" stroke="#f1f0d4"/>
<polygon points="1042.37,358.18 1032.14,354.47 1021.91,358.18 1021.91,365.62 1032.14,369.33 1042.37,365.62" fill="#f5f6e2" stroke="#f5f6e2"/>
<polygon points="1062.83,358.18 1052.60,354.47 1042.37,358.18 1042.37,365.62 1052.60,369.33 1062.83,365.62" fill="#f7f8e8" stroke="#f7f8e8"/>
<polygon points="1083.29,358.18 1073.06,354.47 1062.83,358.18 1062.83,365.62 1073.06,369.33 1083.29,365.62" fill="#f7f8e8" stroke="#f7f8e8"/>
<polygon points="1103.75,358.18 1093.52,354.47 1083.29,358.18 1083.29,365.62 1093.52,369.33 1103.75,365.62" fill="#fafaf0" stroke="#fafaf0"/>
<polygon points="1124.21,358.18 1113.98,354.47 1103.75,358.18 1103.75,365.62 1113.98,369.33 1124.21,365.62" fill="#fbfbf5" stroke="#fbfbf5"/>
<polygon points="1144.67,358.18 1134.44,354.47 1124.21,358.18 1124.21,365.62 1134.44,369.33 1144.67,365.62" fill="#fcfcf8" stroke="#fcfcf8"/>
<polygon points="1165.13,358.18 1154.90,354.47 1144.67,358.18 1144.67,365.62 1154.90,369.33 1165.13,365.62" fill="#fcfcf8" stroke="#fcfcf8"/>
<polygon points="1185.59,358.18 1175.36,354.47 1165.13,358.18 1165.13,365.62 1175.36,369.33 1185.59,365.62" fill="#fdfdfc" stroke="#fdfdfc"/>
<polygon points="1206.05,358.18 1195.82,354.47 1185.59,358.18 1185.59,365.62 1195.82,369.33 1206.05,365.62" fill="#fdfdfc" stroke="#fdfdfc"/>
<polygon points="1226.51,358.18 1216.28,354.47 1206.05,358.18 1206.05,365.62 1216.28,369.33 1226.51,365.62" fill="#fdfdfc" stroke="#fdfdfc"/>
<polygon points="858.23,335.88 848.00,332.17 837.77,335.88 837.77,343.32 848.00,347.03 858.23,343.32" fill="#f0edce" stroke="#f0edce"/>
<polygon points="878.69,335.88 868.46,332.17 858.23,335.88 858.23,343.32 868.46,347.03 878.69,343.32" fill="#ebe3b5" stroke="#ebe3b5"/>
<polygon points="899.15,335.88 888.92,332.17 878.69,335.88 878.69,343.32 888.92,347.03 899.15,343.32" fill="#ebe3b5" stroke="#ebe3b5"/>
<polygon points="919.61,335.88 909.38,332.17 899.15,335.88 899.15,343.32 909.38,347.03 919.61,343.32" fill="#ede7bf" stroke="#ede7bf"/>
<polygon points="940.07,335.88 929.84,332.17 919.61,335.88 919.61,343.32 929.84,347.03 940.07,343.32" fill="#efecca" stroke="#efecca"/>
<polygon points="960.53,335.88 950.30,332.17 940.07,335.88 940.07,343.32 950.30,347.03 960.53,343.32" fill="#efecca" stroke="#efecca"/>
<polygon points="980.99,335.88 970.76,332.17 960.53,335.88 960.53,343.32 970.76,347.03 980.99,343.32" fill="#efecca" stroke="#efecca"/>
<polygon points="1001.45,335.88 991.22,332.17 980.99,335.88 980.99,343.32 991.22,347.03 1001.45,343.32" fill="#f3f4de" stroke="#f3f4de"/>
<polygon points="1021.91,335.88 1011.68,332.17 1001.45,335.88 1001.45,343.32 1011.68,347.03 1021.91,343.32" fill="#f7f8e8" stroke="#f7f8e8"/>
<polygon points="1042.37,335.88 1032.14,332.17 1021.91,335.88 1021.91,343.32 1032.14,347.03 1042.37,343.32" fill="#f7f8e8" stroke="#f7f8e8"/>
<polygon points="1062.83,335.88 1052.60,332.17 1042.37,335.88 1042.37,343.32 1052.60,347.03 1062.83,343.32" fill="#fafaf0" stroke="#fafaf0"/>
<polygon points="1083.29,335.88 1073.06,332.17 1062.83,335.88 1062.83,343.32 1073.06,347.03 1083.29,343.32" fill="#fafaf2" stroke="#fafaf2"/>
<polygon points="1103.75,335.88 1093.52,332.17 1083.29,335.88 1083.29,343.32 1093.52,347.03 1103.75,343.32" fill="#fafbf3" stroke="#fafbf3"/>
<polygon points="1124.21,335.88 1113.98,332.17 1103.75,335.88 1103.75,343.32 1113.98,347.03 1124.21,343.32" fill="#fcfcf6" stroke="#fcfcf6"/>
<polygon points="1144.67,335.88 1134.44,332.17 1124.21,335.88 1124.21,343.32 1134.44,347.03 1144.67,343.32" fill="#fcfcf8" stroke="#fcfcf8"/>
<polygon points="1165.13,335.88 1154.90,332.17 1144.67,335.88 1144.67,343.32 1154.90,347.03 1165.13,343.32" fill="#fdfdfc" stroke="#fdfdfc"/>
<polygon points="1185.59,335.88 1175.36,332.17 1165.13,335.88 1165.13,343.32 1175.36,347.03 1185.59,343.32" fill="#fdfdfc" stroke="#fdfdfc"/>
<polygon points="1206.05,335.88 1195.82,332.17 1185.59,335.88 1185.59,343.32 1195.82,347.03 1206.05,343.32" fill="#fdfdfc" stroke="#fdfdfc"/>
<polygon points="1226.51,335.88 1216.28,332.17 1206.05,335.88 1206.05,343.32 1216.28,347.03 1226.51,343.32" fill="#fdfdfc" stroke="#fdfdfc"/>
<polygon points="858.23,313.58 848.00,309.87 837.77,313.58 837.77,321.02 848.00,324.73 858.23,321.02" fill="#f2f1d8" stroke="#f2f1d8"/>
<polygon points="878.69,313.58 868.46,309.87 858.23,313.58 858.23,321.02 868.46,324.73 878.69,321.02" fill="#efecca" stroke="#efecca"/>
<polygon points="899.15,313.58 888.92,309.87 878.69,313.58 878.69,321.02 888.92,324.73 899.15,321.02" fill="#efecca" stroke="#efecca"/>
<polygon points="919.61,313.58 909.38,309.87 899.15,313.58 899.15,321.02 909.38,324.73 919.61,321.02" fill="#ede7bf" stroke="#ede7bf"/>
<polygon points="940.07,313.58 929.84,309.87 919.61,313.58 919.61,321.02 929.84,324.73 940.07,321.02" fill="#efecca" stroke="#efecca"/>
<polygon points="960.53,313.58 950.30,309.87 940.07,313.58 940.07,321.02 950.30,324.73 960.53,321.02" fill="#efecca" stroke="#efecca"/>
<polygon points="980.99,313.58 970.76,309.87 960.53,313.58 960.53,321.02 970.76,324.73 980.99,321.02" fill="#f3f4de" stroke="#f3f4de"/>
<polygon points="1001.45,313.58 991.22,309.87 980.99,313.58 980.99,321.02 991.22,324.73 1001.45,321.02" fill="#f7f8e8" stroke="#f7f8e8"/>
<polygon points="1021.91,313.58 1011.68,309.87 1001.45,313.58 1001.45,321.02 1011.68,324.73 1021.91,321.02" fill="#f7f8e8" stroke="#f7f8e8"/>
<polygon points="1042.37,313.58 1032.14,309.87 1021.91,313.58 1021.91,321.02 1032.14,324.73 1042.37,321.02" fill="#fafaf0" stroke="#fafaf0"/>
<polygon points="1062.83,313.58 1052.60,309.87 1042.37,313.58 1042.37,321.02 1052.60,324.73 1062.83,321.02" fill="#fafaf0" stroke="#fafaf0"/>
<polygon points="1083.29,313.58 1073.06,309.87 1062.83,313.58 1062.83,321.02 1073.06,324.73 1083.29,321.02" fill="#fafbf3" stroke="#fafbf3"/>
<polygon points="1103.75,313.58 1093.52,309.87 1083.29,313.58 1083.29,321.02 1093.52,324.73 1103.75,321.02" fill="#fcfcf6" stroke="#fcfcf6"/>
<polygon points="1124.21,313.58 1113.98,309.87 1103.75,313.58 1103.75,321.02 1113.98,324.73 1124.21,321.02" fill="#fcfcf8" stroke="#fcfcf8"/>
<polygon points="1144.67,313.58 1134.44,309.87 1124.21,313.58 1124.21,321.02 1134.44,324.73 1144.67,321.02" fill="#fcfcf9" stroke="#fcfcf9"/>
<polygon points="1165.13,313.58 1154.90,309.87 1144.67,313.58 1144.67,321.02 1154.90,324.73 1165.13,321.02" fill="#fdfdfc" stroke="#fdfdfc"/>
<polygon points="1185.59,313.58 1175.36,309.87 1165.13,313.58 1165.13,321.02 1175.36,324.73 1185.59,321.02" fill="#fdfdfc" stroke="#fdfdfc"/>
<polygon points="1206.05,313.58 1195.82,309.87 1185.59,313.58 1185.59,321.02 1195.82,324.73 1206.05,321.02" fill="#fdfdfc" stroke="#fdfdfc"/>
<polygon points="1226.51,313.58 1216.28,309.87 1206.05,313.58 1206.05,321.02 1216.28,324.73 1226.51,321.02" fill="#fdfdfc" stroke="#fdfdfc"/>
<polygon points="858.23,291.28 848.00,287.57 837.77,291.28 837.77,298.72 848.00,302.43 858.23,298.72" fill="#f5f6e2" stroke="#f5f6e2"/>
<polygon points="878.69,291.28 868.46,287.57 858.23,291.28 858.23,298.72 868.46,302.43 878.69,298.72" fill="#efecca" stroke="#efecca"/>
<polygon points="899.15,291.28 888.92,287.57 878.69,291.28 878.69,298.72 888.92,302.43 899.15,298.72" fill="#f1f0d4" stroke="#f1f0d4"/>
<polygon points="919.61,291.28 909.38,287.57 899.15,291.28 899.15,298.72 909.38,302.43 919.61,298.72" fill="#f1f0d4" stroke="#f1f0d4"/>
<polygon points="940.07,291.28 929.84,287.57 919.61,291.28 919.61,298.72 929.84,302.43 940.07,298.72" fill="#f1f0d4" stroke="#f1f0d4"/>
<polygon points="960.53,291.28 950.30,287.57 940.07,291.28 940.07,298.72 950.30,302.43 960.53,298.72" fill="#f3f4de" stroke="#f3f4de"/>
<polygon points="980.99,291.28 970.76,287.57 960.53,291.28 960.53,298.72 970.76,302.43 980.99,298.72" fill="#f7f8e8" stroke="#f7f8e8"/>
<polygon points="1001.45,291.28 991.22,287.57 980.99,291.28 980.99,298.72 991.22,302.43 1001.45,298.72" fill="#f7f8e8" stroke="#f7f8e8"/>
<polygon points="1021.91,291.28 1011.68,287.57 1001.45,291.28 1001.45,298.72 1011.68,302.43 1021.91,298.72" fill="#f7f8e8" stroke="#f7f8e8"/>
<polygon points="1042.37,291.28 1032.14,287.57 1021.91,291.28 1021.91,298.72 1032.14,302.43 1042.37,298.72" fill="#fbfbf5" stroke="#fbfbf5"/>
<polygon points="1062.83,291.28 1052.60,287.57 1042.37,291.28 1042.37,298.72 1052.60,302.43 1062.83,298.72" fill="#fcfcf8" stroke="#fcfcf8"/>
<polygon points="1083.29,291.28 1073.06,287.57 1062.83,291.28 1062.83,298.72 1073.06,302.43 1083.29,298.72" fill="#fcfcf8" stroke="#fcfcf8"/>
<polygon points="1103.75,291.28 1093.52,287.57 1083.29,291.28 1083.29,298.72 1093.52,302.43 1103.75,298.72" fill="#fcfcf9" stroke="#fcfcf9"/>
<polygon points="1124.21,291.28 1113.98,287.57 1103.75,291.28 1103.75,298.72 1113.98,302.43 1124.21,298.72" fill="#fdfdfc" stroke="#fdfdfc"/>
<polygon points="1144.67,291.28 1134.44,287.57 1124.21,291.28 1124.21,298.72 1134.44,302.43 1144.67,298.72" fill="#fdfdfc" stroke="#fdfdfc"/>
<polygon points="1165.13,291.28 1154.90,287.57 1144.67,291.28 1144.67,298.72 1154.90,302.43 1165.13,298.72" fill="#fdfdfc" stroke="#fdfdfc"/>
<polygon points="1185.59,291.28 1175.36,287.57 1165.13,291.28 1165.13,298.72 1175.36,302.43 1185.59,298.72" fill="#fdfdfc" stroke="#fdfdfc"/>
<polygon points="1206.05,291.28 1195.82,287.57 1185.59,291.28 1185.59,298.72 1195.82,302.43 1206.05,298.72" fill="#fdfdfc" stroke="#fdfdfc"/>
<polygon points="1226.51,291.28 1216.28,287.57 1206.05,291.28 1206.05,298.72 1216.28,302.43 1226.51,298.72" fill="#fdfdfc" stroke="#fdfdfc"/>
<polygon points="858.23,268.98 848.00,265.27 837.77,268.98 837.77,276.42 848.00,280.13 858.23,276.42" fill="#fafaf0" stroke="#fafaf0"/>
<polygon points="878.69,268.98 868.46,265.27 858.23,268.98 858.23,276.42 868.46,280.13 878.69,276.42" fill="#f3f4de" stroke="#f3f4de"/>
<polygon points="899.15,268.98 888.92,265.27 878.69,268.98 878.69,276.42 888.92,280.13 899.15,276.42" fill="#f3f4de" stroke="#f3f4de"/>
<polygon points="919.61,268.98 909.38,265.27 899.15,268.98 899.15,276.42 909.38,280.13 919.61,276.42" fill="#f7f8e8" stroke="#f7f8e8"/>
<polygon points="940.07,268.98 929.84,265.27 919.61,268.98 919.61,276.42 929.84,280.13 940.07,276.42" fill="#f7f8e8" stroke="#f7f8e8"/>
<polygon points="960.53,268.98 950.30,265.27 940.07,268.98 940.07,276.42 950.30,280.13 960.53,276.42" fill="#f7f8e8" stroke="#f7f8e8"/>
<polygon points="980.99,268.98 970.76,265.27 960.53,268.98 960.53,276.42 970.76,280.13 980.99,276.42" fill="#f7f8e8" stroke="#f7f8e8"/>
<polygon points="1001.45,268.98 991.22,265.27 980.99,268.98 980.99,276.42 991.22,280.13 1001.45,276.42" fill="#f7f8e8" stroke="#f7f8e8"/>
<polygon points="1021.91,268.98 1011.68,265.27 1001.45,268.98 1001.45,276.42 1011.68,280.13 1021.91,276.42" fill="#fafaf0" stroke="#fafaf0"/>
<polygon points="1042.37,268.98 1032.14,265.27 1021.91,268.98 1021.91,276.42 1032.14,280.13 1042.37,276.42" fill="#fcfcf8" stroke="#fcfcf8"/>
<polygon points="1062.83,268.98 1052.60,265.27 1042.37,268.98 1042.37,276.42 1052.60,280.13 1062.83,276.42" fill="#fdfdfc" stroke="#fdfdfc"/>
<polygon points="1083.29,268.98 1073.06,265.27 1062.83,268.98 1062.83,276.42 1073.06,280.13 1083.29,276.42" fill="#fdfdfc" stroke="#fdfdfc"/>
<polygon points="1103.75,268.98 1093.52,265.27 1083.29,268.98 1083.29,276.42 1093.52,280.13 1103.75,276.42" fill="#fdfdfc" stroke="#fdfdfc"/>
<polygon points="1124.21,268.98 1113.98,265.27 1103.75,268.98 1103.75,276.42 1113.98,280.13 1124.21,276.42" fill="#fdfdfc" stroke="#fdfdfc"/>
<polygon points="1144.67,268.98 1134.44,265.27 1124.21,268.98 1124.21,276.42 1134.44,280.13 1144.67,276.42" fill="#fdfdfc" stroke="#fdfdfc"/>
<polygon points="1165.13,268.98 1154.90,265.27 1144.67,268.98 1144.67,276.42 1154.90,280.13 1165.13,276.42" fill="#fdfdfc" stroke="#fdfdfc"/>
<polygon points="1185.59,268.98 1175.36,265.27 1165.13,268.98 1165.13,276.42 1175.36,280.13 1185.59,276.42" fill="#fdfdfc" stroke="#fdfdfc"/>
<polygon points="1206.05,268.98 1195.82,265.27 1185.59,268.98 1185.59,276.42 1195.82,280.13 1206.05,276.42" fill="#fdfdfc" stroke="#fdfdfc"/>
<polygon points="1226.51,268.98 1216.28,265.27 1206.05,268.98 1206.05,276.42 1216.28,280.13 1226.51,276.42" fill="#fdfdfc" stroke="#fdfdfc"/>
<polygon points="858.23,246.68 848.00,242.97 837.77,246.68 837.77,254.12 848.00,257.83 858.23,254.12" fill="#fafaf0" stroke="#fafaf0"/>
<polygon points="878.69,246.68 868.46,242.97 858.23,246.68 858.23,254.12 868.46,257.83 878.69,254.12" fill="#f7f8e8" stroke="#f7f8e8"/>
<polygon points="899.15,246.68 888.92,242.97 878.69,246.68 878.69,254.12 888.92,257.83 899.15,254.12" fill="#f7f8e8" stroke="#f7f8e8"/>
<polygon points="919.61,246.68 909.38,242.97 899.15,246.68 899.15,254.12 909.38,257.83 919.61,254.12" fill="#fafaf0" stroke="#fafaf0"/>
<polygon points="940.07,246.68 929.84,242.97 919.61,246.68 919.61,254.12 929.84,257.83 940.07,254.12" fill="#fafaf0" stroke="#fafaf0"/>
<polygon points="960.53,246.68 950.30,242.97 940.07,246.68 940.07,254.12 950.30,257.83 960.53,254.12" fill="#fafaf0" stroke="#fafaf0"/>
<polygon points="980.99,246.68 970.76,242.97 960.53,246.68 960.53,254.12 970.76,257.83 980.99,254.12" fill="#fbfbf5" stroke="#fbfbf5"/>
<polygon points="1001.45,246.68 991.22,242.97 980.99,246.68 980.99,254.12 991.22,257.83 1001.45,254.12" fill="#fcfcf8" stroke="#fcfcf8"/>
<polygon points="1021.91,246.68 1011.68,242.97 1001.45,246.68 1001.45,254.12 1011.68,257.83 1021.91,254.12" fill="#fdfdfc" stroke="#fdfdfc"/>
<polygon points="1042.37,246.68 1032.14,242.97 1021.91,246.68 1021.91,254.12 1032.14,257.83 1042.37,254.12" fill="#fdfdfc" stroke="#fdfdfc"/>
<polygon points="1062.83,246.68 1052.60,242.97 1042.37,246.68 1042.37,254.12 1052.60,257.83 1062.83,254.12" fill="#fdfdfc" stroke="#fdfdfc"/>
<polygon points="1083.29,246.68 1073.06,242.97 1062.83,246.68 1062.83,254.12 1073.06,257.83 1083.29,254.12" fill="#fdfdfc" stroke="#fdfdfc"/>
<polygon points="1103.75,246.68 1093.52,242.97 1083.29,246.68 1083.29,254.12 1093.52,257.83 1103.75,254.12" fill="#fdfdfc" stroke="#fdfdfc"/>
<polygon points="1124.21,246.68 1113.98,242.97 1103.75,246.68 1103.75,254.12 1113.98,257.83 1124.21,254.12" fill="#fdfdfc" stroke="#fdfdfc"/>
<polygon points="1144.67,246.68 1134.44,242.97 1124.21,246.68 1124.21,254.12 1134.44,257.83 1144.67,254.12" fill="#fdfdfc" stroke="#fdfdfc"/>
<polygon points="1165.13,246.68 1154.90,242.97 1144.67,246.68 1144.67,254.12 1154.90,257.83 1165.13,254.12" fill="#fdfdfc" stroke="#fdfdfc"/>
<polygon points="1185.59,246.68 1175.36,242.97 1165.13,246.68 1165.13,254.12 1175.36,257.83 1185.59,254.12" fill="#fdfdfc" stroke="#fdfdfc"/>
<polygon points="1206.05,246.68 1195.82,242.97 1185.59,246.68 1185.59,254.12 1195.82,257.83 1206.05,254.12" fill="#fdfdfc" stroke="#fdfdfc"/>
<polygon points="1226.51,246.68 1216.28,242.97 1206.05,246.68 1206.05,254.12 1216.28,257.83 1226.51,254.12" fill="#fdfdfc" stroke="#fdfdfc"/>
<polygon points="868.46,614.63 858.23,610.92 848.00,614.63 848.00,622.07 858.23,625.78 868.46,622.07" fill="#d6b549" stroke="#d6b549"/>
<polygon points="888.92,614.63 878.69,610.92 868.46,614.63 868.46,622.07 878.69,625.78 888.92,622.07" fill="#efecca" stroke="#efecca"/>
<polygon points="909.38,614.63 899.15,610.92 888.92,614.63 888.92,622.07 899.15,625.78 909.38,622.07" fill="#f1f0d4" stroke="#f1f0d4"/>
<polygon points="929.84,614.63 919.61,610.92 909.38,614.63 909.38,622.07 919.61,625.78 929.84,622.07" fill="#f3f4de" stroke="#f3f4de"/>
<polygon points="950.30,614.63 940.07,610.92 929.84,614.63 929.84,622.07 940.07,625.78 950.30,622.07" fill="#f7f8e8" stroke="#f7f8e8"/>
<polygon points="970.76,614.63 960.53,610.92 950.30,614.63 950.30,622.07 960.53,625.78 970.76,622.07" fill="#fafaf0" stroke="#fafaf0"/>
<polygon points="991.22,614.63 980.99,610.92 970.76,614.63 970.76,622.07 980.99,625.78 991.22,622.07" fill="#fbfbf5" stroke="#fbfbf5"/>
<polygon points="1011.68,614.63 1001.45,610.92 991.22,614.63 991.22,622.07 1001.45,625.78 1011.68,622.07" fill="#fcfcf8" stroke="#fcfcf8"/>
<polygon points="1032.14,614.63 1021.91,610.92 1011.68,614.63 1011.68,622.07 1021.91,625.78 1032.14,622.07" fill="#fcfcf8" stroke="#fcfcf8"/>
<polygon points="1052.60,614.63 1042.37,610.92 1032.14,614.63 1032.14,622.07 1042.37,625.78 1052.60,622.07" fill="#fcfcf8" stroke="#fcfcf8"/>
<polygon points="1073.06,614.63 1062.83,610.92 1052.60,614.63 1052.60,622.07 1062.83,625.78 1073.06,622.07" fill="#fbfbf5" stroke="#fbfbf5"/>
<polygon points="1093.52,614.63 1083.29,610.92 1073.06,614.63 1073.06,622.07 1083.29,625.78 1093.52,622.07" fill="#fcfcf8" stroke="#fcfcf8"/>
<polygon points="1113.98,614.63 1103.75,610.92 1093.52,614.63 1093.52,622.07 1103.75,625.78 1113.98,622.07" fill="#fcfcf9" stroke="#fcfcf9"/>
<polygon points="1134.44,614.63 1124.21,610.92 1113.98,614.63 1113.98,622.07 1124.21,625.78 1134.44,622.07" fill="#fdfdfc" stroke="#fdfdfc"/>
<polygon points="1154.90,614.63 1144.67,610.92 1134.44,614.63 1134.44,622.07 1144.67,625.78 1154.90,622.07" fill="#fdfdfc" stroke="#fdfdfc"/>
<polygon points="1175.36,614.63 1165.13,610.92 1154.90,614.63 1154.90,622.07 1165.13,625.78 1175.36,622.07" fill="#fdfdfc" stroke="#fdfdfc"/>
<polygon points="1195.82,614.63 1185.59,610.92 1175.36,614.63 1175.36,622.07 1185.59,625.78 1195.82,622.07" fill="#fdfdfc" stroke="#fdfdfc"/>
<polygon points="1216.28,614.63 1206.05,610.92 1195.82,614.63 1195.82,622.07 1206.05,625.78 1216.28,622.07" fill="#fdfdfc" stroke="#fdfdfc"/>
<polygon points="1236.74,614.63 1226.51,610.92 1216.28,614.63 1216.28,622.07 1226.51,625.78 1236.74,622.07" fill="#fdfdfc" stroke="#fdfdfc"/>
<polygon points="868.46,592.33 858.23,588.62 848.00,592.33 848.00,599.77 858.23,603.48 868.46,599.77" fill="#d4b03e" stroke="#d4b03e"/>
<polygon points="888.92,592.33 878.69,588.62 868.46,592.33 868.46,599.77 878.69,603.48 888.92,599.77" fill="#aa8b36" stroke="#aa8b36"/>
<polygon points="909.38,592.33 899.15,588.62 888.92,592.33 888.92,599.77 899.15,603.48 909.38,599.77" fill="#a08234" stroke="#a08234"/>
<polygon points="929.84,592.33 919.61,588.62 909.38,592.33 909.38,599.77 919.61,603.48 929.84,599.77" fill="#d4b03e" stroke="#d4b03e"/>
<polygon points="950.30,592.33 940.07,588.62 929.84,592.33 929.84,599.77 940.07,603.48 950.30,599.77" fill="#e1cd81" stroke="#e1cd81"/>
<polygon points="970.76,592.33 960.53,588.62 950.30,592.33 950.30,599.77 960.53,603.48 970.76,599.77" fill="#e7daa0" stroke="#e7daa0"/>
<polygon points="991.22,592.33 980.99,588.62 970.76,592.33 970.76,599.77 980.99,603.48 991.22,599.77" fill="#ebe3b5" stroke="#ebe3b5"/>
<polygon points="1011.68,592.33 1001.45,588.62 991.22,592.33 991.22,599.77 1001.45,603.48 1011.68,599.77" fill="#ede7bf" stroke="#ede7bf"/>
<polygon points="1032.14,592.33 1021.91,588.62 1011.68,592.33 1011.68,599.77 1021.91,603.48 1032.14,599.77" fill="#efecca" stroke="#efecca"/>
<polygon points="1052.60,592.33 1042.37,588.62 1032.14,592.33 1032.14,599.77 1042.37,603.48 1052.60,599.77" fill="#f2f2da" stroke="#f2f2da"/>
<polygon points="1073.06,592.33 1062.83,588.62 1052.60,592.33 1052.60,599.77 1062.83,603.48 1073.06,599.77" fill="#f1f0d4" stroke="#f1f0d4"/>
<polygon points="1093.52,592.33 1083.29,588.62 1073.06,592.33 1073.06,599.77 1083.29,603.48 1093.52,599.77" fill="#f1f0d4" stroke="#f1f0d4"/>
<polygon points="1113.98,592.33 1103.75,588.62 1093.52,592.33 1093.52,599.77 1103.75,603.48 1113.98,599.77" fill="#f2f1d8" stroke="#f2f1d8"/>
<polygon points="1134.44,592.33 1124.21,588.62 1113.98,592.33 1113.98,599.77 1124.21,603.48 1134.44,599.77" fill="#fafaf0" stroke="#fafaf0"/>
<polygon points="1154.90,592.33 1144.67,588.62 1134.44,592.33 1134.44,599.77 1144.67,603.48 1154.90,599.77" fill="#fcfcf8" stroke="#fcfcf8"/>
<polygon points="1175.36,592.33 1165.13,588.62 1154.90,592.33 1154.90,599.77 1165.13,603.48 1175.36,599.77" fill="#fcfcf8" stroke="#fcfcf8"/>
<polygon points="1195.82,592.33 1185.59,588.62 1175.36,592.33 1175.36,599.77 1185.59,603.48 1195.82,599.77" fill="#fcfcf9" stroke="#fcfcf9"/>
<polygon points="1216.28,592.33 1206.05,588.62 1195.82,592.33 1195.82,599.77 1206.05,603.48 1216.28,599.77" fill="#fcfcf8" stroke="#fcfcf8"/>
<polygon points="1236.74,592.33 1226.51,588.62 1216.28,592.33 1216.28,599.77 1226.51,603.48 1236.74,599.77" fill="#fdfdfc" stroke="#fdfdfc"/>
<polygon points="868.46,570.03 858.23,566.32 848.00,570.03 848.00,577.47 858.23,581.18 868.46,577.47" fill="#a08234" stroke="#a08234"/>
<polygon points="888.92,570.03 878.69,566.32 868.46,570.03 868.46,577.47 878.69,581.18 888.92,577.47" fill="#8b7030" stroke="#8b7030"/>
<polygon points="909.38,570.03 899.15,566.32 888.92,570.03 888.92,577.47 899.15,581.18 909.38,577.47" fill="#2f2712" stroke="#2f2712"/>
<polygon points="929.84,570.03 919.61,566.32 909.38,570.03 909.38,577.47 919.61,581.18 929.84,577.47" fill="#1b170d" stroke="#1b170d"/>
<polygon points="950.30,570.03 940.07,566.32 929.84,570.03 929.84,577.47 940.07,581.18 950.30,577.47" fill="#aa8b36" stroke="#aa8b36"/>
<polygon points="970.76,570.03 960.53,566.32 950.30,570.03 950.30,577.47 960.53,581.18 970.76,577.47" fill="#d4b03e" stroke="#d4b03e"/>
<polygon points="991.22,570.03 980.99,566.32 970.76,570.03 970.76,577.47 980.99,581.18 991.22,577.47" fill="#d6b549" stroke="#d6b549"/>
<polygon points="1011.68,570.03 1001.45,566.32 991.22,570.03 991.22,577.47 1001.45,581.18 1011.68,577.47" fill="#dfc876" stroke="#dfc876"/>
<polygon points="1032.14,570.03 1021.91,566.32 1011.68,570.03 1011.68,577.47 1021.91,581.18 1032.14,577.47" fill="#e5d696" stroke="#e5d696"/>
<polygon points="1052.60,570.03 1042.37,566.32 1032.14,570.03 1032.14,577.47 1042.37,581.18 1052.60,577.47" fill="#ebe3b5" stroke="#ebe3b5"/>
<polygon points="1073.06,570.03 1062.83,566.32 1052.60,570.03 1052.60,577.47 1062.83,581.18 1073.06,577.47" fill="#e9dfab" stroke="#e9dfab"/>
<polygon points="1093.52,570.03 1083.29,566.32 1073.06,570.03 1073.06,577.47 1083.29,581.18 1093.52,577.47" fill="#ebe3b5" stroke="#ebe3b5"/>
<polygon points="1113.98,570.03 1103.75,566.32 1093.52,570.03 1093.52,577.47 1103.75,581.18 1113.98,577.47" fill="#efecca" stroke="#efecca"/>
<polygon points="1134.44,570.03 1124.21,566.32 1113.98,570.03 1113.98,577.47 1124.21,581.18 1134.44,577.47" fill="#f7f8e8" stroke="#f7f8e8"/>
<polygon points="1154.90,570.03 1144.67,566.32 1134.44,570.03 1134.44,577.47 1144.67,581.18 1154.90,577.47" fill="#fcfcf6" stroke="#fcfcf6"/>
<polygon points="1175.36,570.03 1165.13,566.32 1154.90,570.03 1154.90,577.47 1165.13,581.18 1175.36,577.47" fill="#fcfcf8" stroke="#fcfcf8"/>
<polygon points="1195.82,570.03 1185.59,566.32 1175.36,570.03 1175.36,577.47 1185.59,581.18 1195.82,577.47" fill="#fbfbf5" stroke="#fbfbf5"/>
<polygon points="1216.28,570.03 1206.05,566.32 1195.82,570.03 1195.82,577.47 1206.05,581.18 1216.28,577.47" fill="#fafaf0" stroke="#fafaf0"/>
<polygon points="1236.74,570.03 1226.51,566.32 1216.28,570.03 1216.28,577.47 1226.51,581.18 1236.74,577.47" fill="#fdfdfc" stroke="#fdfdfc"/>
<polygon points="868.46,547.73 858.23,544.02 848.00,547.73 848.00,555.17 858.23,558.88 868.46,555.17" fill="#957932" stroke="#957932"/>
<polygon points="888.92,547.73 878.69,544.02 868.46,547.73 868.46,555.17 878.69,558.88 888.92,555.17" fill="#5b4a20" stroke="#5b4a20"/>
<polygon points="909.38,547.73 899.15,544.02 888.92,547.73 888.92,555.17 899.15,558.88 909.38,555.17" fill="#3d3116" stroke="#3d3116"/>
<polygon points="929.84,547.73 919.61,544.02 909.38,547.73 909.38,555.17 919.61,558.88 929.84,555.17" fill="#0a0a08" stroke="#0a0a08"/>
<polygon points="950.30,547.73 940.07,544.02 929.84,547.73 929.84,555.17 940.07,558.88 950.30,555.17" fill="#0a0a08" stroke="#0a0a08"/>
<polygon points="970.76,547.73 960.53,544.02 950.30,547.73 950.30,555.17 960.53,558.88 970.76,555.17" fill="#8b7030" stroke="#8b7030"/>
<polygon points="991.22,547.73 980.99,544.02 970.76,547.73 970.76,555.17 980.99,558.88 991.22,555.17" fill="#bf9e3a" stroke="#bf9e3a"/>
<polygon points="1011.68,547.73 1001.45,544.02 991.22,547.73 991.22,555.17 1001.45,558.88 1011.68,555.17" fill="#d6b549" stroke="#d6b549"/>
<polygon points="1032.14,547.73 1021.91,544.02 1011.68,547.73 1011.68,555.17 1021.91,558.88 1032.14,555.17" fill="#e3d28c" stroke="#e3d28c"/>
<polygon points="1052.60,547.73 1042.37,544.02 1032.14,547.73 1032.14,555.17 1042.37,558.88 1052.60,555.17" fill="#e7daa0" stroke="#e7daa0"/>
<polygon points="1073.06,547.73 1062.83,544.02 1052.60,547.73 1052.60,555.17 1062.83,558.88 1073.06,555.17" fill="#e9dfab" stroke="#e9dfab"/>
<polygon points="1093.52,547.73 1083.29,544.02 1073.06,547.73 1073.06,555.17 1083.29,558.88 1093.52,555.17" fill="#ede7bf" stroke="#ede7bf"/>
<polygon points="1113.98,547.73 1103.75,544.02 1093.52,547.73 1093.52,555.17 1103.75,558.88 1113.98,555.17" fill="#f1f0d4" stroke="#f1f0d4"/>
<polygon points="1134.44,547.73 1124.21,544.02 1113.98,547.73 1113.98,555.17 1124.21,558.88 1134.44,555.17" fill="#f8f9ed" stroke="#f8f9ed"/>
<polygon points="1154.90,547.73 1144.67,544.02 1134.44,547.73 1134.44,555.17 1144.67,558.88 1154.90,555.17" fill="#fafaf0" stroke="#fafaf0"/>
<polygon points="1175.36,547.73 1165.13,544.02 1154.90,547.73 1154.90,555.17 1165.13,558.88 1175.36,555.17" fill="#fafaf0" stroke="#fafaf0"/>
<polygon points="1195.82,547.73 1185.59,544.02 1175.36,547.73 1175.36,555.17 1185.59,558.88 1195.82,555.17" fill="#fafbf3" stroke="#fafbf3"/>
<polygon points="1216.28,547.73 1206.05,544.02 1195.82,547.73 1195.82,555.17 1206.05,558.88 1216.28,555.17" fill="#fcfcf6" stroke="#fcfcf6"/>
<polygon points="1236.74,547.73 1226.51,544.02 1216.28,547.73 1216.28,555.17 1226.51,558.88 1236.74,555.17" fill="#fdfdfc" stroke="#fdfdfc"/>
<polygon points="868.46,525.43 858.23,521.72 848.00,525.43 848.00,532.87 858.23,536.58 868.46,532.87" fill="#b59538" stroke="#b59538"/>
<polygon points="888.92,525.43 878.69,521.72 868.46,525.43 868.46,532.87 878.69,536.58 888.92,532.87" fill="#50411c" stroke="#50411c"/>
<polygon points="909.38,525.43 899.15,521.72 888.92,525.43 888.92,532.87 899.15,536.58 909.38,532.87" fill="#453818" stroke="#453818"/>
<polygon points="929.84,525.43 919.61,521.72 909.38,525.43 909.38,532.87 919.61,536.58 929.84,532.87" fill="#3d3116" stroke="#3d3116"/>
<polygon points="950.30,525.43 940.07,521.72 929.84,525.43 929.84,532.87 940.07,536.58 950.30,532.87" fill="#382d14" stroke="#382d14"/>
<polygon points="970.76,525.43 960.53,521.72 950.30,525.43 950.30,532.87 960.53,536.58 970.76,532.87" fill="#2c2411" stroke="#2c2411"/>
<polygon points="991.22,525.43 980.99,521.72 970.76,525.43 970.76,532.87 980.99,536.58 991.22,532.87" fill="#aa8b36" stroke="#aa8b36"/>
<polygon points="1011.68,525.43 1001.45,521.72 991.22,525.43 991.22,532.87 1001.45,536.58 1011.68,532.87" fill="#d6b549" stroke="#d6b549"/>
<polygon points="1032.14,525.43 1021.91,521.72 1011.68,525.43 1011.68,532.87 1021.91,536.58 1032.14,532.87" fill="#ddc36b" stroke="#ddc36b"/>
<polygon points="1052.60,525.43 1042.37,521.72 1032.14,525.43 1032.14,532.87 1042.37,536.58 1052.60,532.87" fill="#e3d28c" stroke="#e3d28c"/>
<polygon points="1073.06,525.43 1062.83,521.72 1052.60,525.43 1052.60,532.87 1062.83,536.58 1073.06,532.87" fill="#e9dfab" stroke="#e9dfab"/>
<polygon points="1093.52,525.43 1083.29,521.72 1073.06,525.43 1073.06,532.87 1083.29,536.58 1093.52,532.87" fill="#ede7bf" stroke="#ede7bf"/>
<polygon points="1113.98,525.43 1103.75,521.72 1093.52,525.43 1093.52,532.87 1103.75,536.58 1113.98,532.87" fill="#f1f0d4" stroke="#f1f0d4"/>
<polygon points="1134.44,525.43 1124.21,521.72 1113.98,525.43 1113.98,532.87 1124.21,536.58 1134.44,532.87" fill="#f3f4de" stroke="#f3f4de"/>
<polygon points="1154.90,525.43 1144.67,521.72 1134.44,525.43 1134.44,532.87 1144.67,536.58 1154.90,532.87" fill="#f7f8e8" stroke="#f7f8e8"/>
<polygon points="1175.36,525.43 1165.13,521.72 1154.90,525.43 1154.90,532.87 1165.13,536.58 1175.36,532.87" fill="#f8f9ed" stroke="#f8f9ed"/>
<polygon points="1195.82,525.43 1185.59,521.72 1175.36,525.43 1175.36,532.87 1185.59,536.58 1195.82,532.87" fill="#fafaf0" stroke="#fafaf0"/>
<polygon points="1216.28,525.43 1206.05,521.72 1195.82,525.43 1195.82,532.87 1206.05,536.58 1216.28,532.87" fill="#fcfcf6" stroke="#fcfcf6"/>
<polygon points="1236.74,525.43 1226.51,521.72 1216.28,525.43 1216.28,532.87 1226.51,536.58 1236.74,532.87" fill="#fdfdfc" stroke="#fdfdfc"/>
<polygon points="868.46,503.13 858.23,499.42 848.00,503.13 848.00,510.57 858.23,514.28 868.46,510.57" fill="#b59538" stroke="#b59538"/>
<polygon points="888.92,503.13 878.69,499.42 868.46,503.13 868.46,510.57 878.69,514.28 888.92,510.57" fill="#8b7030" stroke="#8b7030"/>
<polygon points="909.38,503.13 899.15,499.42 888.92,503.13 888.92,510.57 899.15,514.28 909.38,510.57" fill="#7d652d" stroke="#7d652d"/>
<polygon points="929.84,503.13 919.61,499.42 909.38,503.13 909.38,510.57 919.61,514.28 929.84,510.57" fill="#725c29" stroke="#725c29"/>
<polygon points="950.30,503.13 940.07,499.42 929.84,503.13 929.84,510.57 940.07,514.28 950.30,510.57" fill="#604e22" stroke="#604e22"/>
<polygon points="970.76,503.13 960.53,499.42 950.30,503.13 950.30,510.57 960.53,514.28 970.76,510.57" fill="#725c29" stroke="#725c29"/>
<polygon points="991.22,503.13 980.99,499.42 970.76,503.13 970.76,510.57 980.99,514.28 991.22,510.57" fill="#6b5726" stroke="#6b5726"/>
<polygon points="1011.68,503.13 1001.45,499.42 991.22,503.13 991.22,510.57 1001.45,514.28 1011.68,510.57" fill="#bf9e3a" stroke="#bf9e3a"/>
<polygon points="1032.14,503.13 1021.91,499.42 1011.68,503.13 1011.68,510.57 1021.91,514.28 1032.14,510.57" fill="#d6b549" stroke="#d6b549"/>
<polygon points="1052.60,503.13 1042.37,499.42 1032.14,503.13 1032.14,510.57 1042.37,514.28 1052.60,510.57" fill="#e0ca7a" stroke="#e0ca7a"/>
<polygon points="1073.06,503.13 1062.83,499.42 1052.60,503.13 1052.60,510.57 1062.83,514.28 1073.06,510.57" fill="#e9dfab" stroke="#e9dfab"/>
<polygon points="1093.52,503.13 1083.29,499.42 1073.06,503.13 1073.06,510.57 1083.29,514.28 1093.52,510.57" fill="#ede7bf" stroke="#ede7bf"/>
<polygon points="1113.98,503.13 1103.75,499.42 1093.52,503.13 1093.52,510.57 1103.75,514.28 1113.98,510.57" fill="#f1f0d4" stroke="#f1f0d4"/>
<polygon points="1134.44,503.13 1124.21,499.42 1113.98,503.13 1113.98,510.57 1124.21,514.28 1134.44,510.57" fill="#f2f2da" stroke="#f2f2da"/>
<polygon points="1154.90,503.13 1144.67,499.42 1134.44,503.13 1134.44,510.57 1144.67,514.28 1154.90,510.57" fill="#f7f8e8" stroke="#f7f8e8"/>
<polygon points="1175.36,503.13 1165.13,499.42 1154.90,503.13 1154.90,510.57 1165.13,514.28 1175.36,510.57" fill="#f8f9ed" stroke="#f8f9ed"/>
<polygon points="1195.82,503.13 1185.59,499.42 1175.36,503.13 1175.36,510.57 1185.59,514.28 1195.82,510.57" fill="#fcfcf6" stroke="#fcfcf6"/>
<polygon points="1216.28,503.13 1206.05,499.42 1195.82,503.13 1195.82,510.57 1206.05,514.28 1216.28,510.57" fill="#fcfcf9" stroke="#fcfcf9"/>
<polygon points="1236.74,503.13 1226.51,499.42 1216.28,503.13 1216.28,510.57 1226.51,514.28 1236.74,510.57" fill="#fdfdfc" stroke="#fdfdfc"/>
<polygon points="868.46,480.83 858.23,477.12 848.00,480.83 848.00,488.27 858.23,491.98 868.46,488.27" fill="#caa73c" stroke="#caa73c"/>
<polygon points="888.92,480.83 878.69,477.12 868.46,480.83 868.46,488.27 878.69,491.98 888.92,488.27" fill="#bf9e3a" stroke="#bf9e3a"/>
<polygon points="909.38,480.83 899.15,477.12 888.92,480.83 888.92,488.27 899.15,491.98 909.38,488.27" fill="#aa8b36" stroke="#aa8b36"/>
<polygon points="929.84,480.83 919.61,477.12 909.38,480.83 909.38,488.27 919.61,491.98 929.84,488.27" fill="#aa8b36" stroke="#aa8b36"/>
<polygon points="950.30,480.83 940.07,477.12 929.84,480.83 929.84,488.27 940.07,491.98 950.30,488.27" fill="#a08234" stroke="#a08234"/>
<polygon points="970.76,480.83 960.53,477.12 950.30,480.83 950.30,488.27 960.53,491.98 970.76,488.27" fill="#a08234" stroke="#a08234"/>
<polygon points="991.22,480.83 980.99,477.12 970.76,480.83 970.76,488.27 980.99,491.98 991.22,488.27" fill="#aa8b36" stroke="#aa8b36"/>
<polygon points="1011.68,480.83 1001.45,477.12 991.22,480.83 991.22,488.27 1001.45,491.98 1011.68,488.27" fill="#b59538" stroke="#b59538"/>
<polygon points="1032.14,480.83 1021.91,477.12 1011.68,480.83 1011.68,488.27 1021.91,491.98 1032.14,488.27" fill="#d4b03e" stroke="#d4b03e"/>
<polygon points="1052.60,480.83 1042.37,477.12 1032.14,480.83 1032.14,488.27 1042.37,491.98 1052.60,488.27" fill="#dfc876" stroke="#dfc876"/>
<polygon points="1073.06,480.83 1062.83,477.12 1052.60,480.83 1052.60,488.27 1062.83,491.98 1073.06,488.27" fill="#e7daa0" stroke="#e7daa0"/>
<polygon points="1093.52,480.83 1083.29,477.12 1073.06,480.83 1073.06,488.27 1083.29,491.98 1093.52,488.27" fill="#ede7bf" stroke="#ede7bf"/>
<polygon points="1113.98,480.83 1103.75,477.12 1093.52,480.83 1093.52,488.27 1103.75,491.98 1113.98,488.27" fill="#efecca" stroke="#efecca"/>
<polygon points="1134.44,480.83 1124.21,477.12 1113.98,480.83 1113.98,488.27 1124.21,491.98 1134.44,488.27" fill="#f5f6e2" stroke="#f5f6e2"/>
<polygon points="1154.90,480.83 1144.67,477.12 1134.44,480.83 1134.44,488.27 1144.67,491.98 1154.90,488.27" fill="#f8f9eb" stroke="#f8f9eb"/>
<polygon points="1175.36,480.83 1165.13,477.12 1154.90,480.83 1154.90,488.27 1165.13,491.98 1175.36,488.27" fill="#fafaf0" stroke="#fafaf0"/>
<polygon points="1195.82,480.83 1185.59,477.12 1175.36,480.83 1175.36,488.27 1185.59,491.98 1195.82,488.27" fill="#fbfbf5" stroke="#fbfbf5"/>
<polygon points="1216.28,480.83 1206.05,477.12 1195.82,480.83 1195.82,488.27 1206.05,491.98 1216.28,488.27" fill="#fcfcf9" stroke="#fcfcf9"/>
<polygon points="1236.74,480.83 1226.51,477.12 1216.28,480.83 1216.28,488.27 1226.51,491.98 1236.74,488.27" fill="#fdfdfc" stroke="#fdfdfc"/>
<polygon points="868.46,458.53 858.23,454.82 848.00,458.53 848.00,465.97 858.23,469.68 868.46,465.97" fill="#d4b03e" stroke="#d4b03e"/>
<polygon points="888.92,458.53 878.69,454.82 868.46,458.53 868.46,465.97 878.69,469.68 888.92,465.97" fill="#d4b03e" stroke="#d4b03e"/>
<polygon points="909.38,458.53 899.15,454.82 888.92,458.53 888.92,465.97 899.15,469.68 909.38,465.97" fill="#caa73c" stroke="#caa73c"/>
<polygon points="929.84,458.53 919.61,454.82 909.38,458.53 909.38,465.97 919.61,469.68 929.84,465.97" fill="#caa73c" stroke="#caa73c"/>
<polygon points="950.30,458.53 940.07,454.82 929.84,458.53 929.84,465.97 940.07,469.68 950.30,465.97" fill="#caa73c" stroke="#caa73c"/>
<polygon points="970.76,458.53 960.53,454.82 950.30,458.53 950.30,465.97 960.53,469.68 970.76,465.97" fill="#caa73c" stroke="#caa73c"/>
<polygon points="991.22,458.53 980.99,454.82 970.76,458.53 970.76,465.97 980.99,469.68 991.22,465.97" fill="#caa73c" stroke="#caa73c"/>
<polygon points="1011.68,458.53 1001.45,454.82 991.22,458.53 991.22,465.97 1001.45,469.68 1011.68,465.97" fill="#d8ba54" stroke="#d8ba54"/>
<polygon points="1032.14,458.53 1021.91,454.82 1011.68,458.53 1011.68,465.97 1021.91,469.68 1032.14,465.97" fill="#d8ba54" stroke="#d8ba54"/>
<polygon points="1052.60,458.53 1042.37,454.82 1032.14,458.53 1032.14,465.97 1042.37,469.68 1052.60,465.97" fill="#dfc876" stroke="#dfc876"/>
<polygon points="1073.06,458.53 1062.83,454.82 1052.60,458.53 1052.60,465.97 1062.83,469.68 1073.06,465.97" fill="#e7daa0" stroke="#e7daa0"/>
<polygon points="1093.52,458.53 1083.29,454.82 1073.06,458.53 1073.06,465.97 1083.29,469.68 1093.52,465.97" fill="#ede7bf" stroke="#ede7bf"/>
<polygon points="1113.98,458.53 1103.75,454.82 1093.52,458.53 1093.52,465.97 1103.75,469.68 1113.98,465.97" fill="#f2f1d8" stroke="#f2f1d8"/>
<polygon points="1134.44,458.53 1124.21,454.82 1113.98,458.53 1113.98,465.97 1124.21,469.68 1134.44,465.97" fill="#f8f9eb" stroke="#f8f9eb"/>
<polygon points="1154.90,458.53 1144.67,454.82 1134.44,458.53 1134.44,465.97 1144.67,469.68 1154.90,465.97" fill="#fafaf0" stroke="#fafaf0"/>
<polygon points="1175.36,458.53 1165.13,454.82 1154.90,458.53 1154.90,465.97 1165.13,469.68 1175.36,465.97" fill="#fafbf3" stroke="#fafbf3"/>
<polygon points="1195.82,458.53 1185.59,454.82 1175.36,458.53 1175.36,465.97 1185.59,469.68 1195.82,465.97" fill="#fcfcf6" stroke="#fcfcf6"/>
<polygon points="1216.28,458.53 1206.05,454.82 1195.82,458.53 1195.82,465.97 1206.05,469.68 1216.28,465.97" fill="#fdfdfc" stroke="#fdfdfc"/>
<polygon points="1236.74,458.53 1226.51,454.82 1216.28,458.53 1216.28,465.97 1226.51,469.68 1236.74,465.97" fill="#fdfdfc" stroke="#fdfdfc"/>
<polygon points="868.46,436.23 858.23,432.52 848.00,436.23 848.00,443.67 858.23,447.38 868.46,443.67" fill="#dabf5f" stroke="#dabf5f"/>
<polygon points="888.92,436.23 878.69,432.52 868.46,436.23 868.46,443.67 878.69,447.38 888.92,443.67" fill="#d6b549" stroke="#d6b549"/>
<polygon points="909.38,436.23 899.15,432.52 888.92,436.23 888.92,443.67 899.15,447.38 909.38,443.67" fill="#d6b549" stroke="#d6b549"/>
<polygon points="929.84,436.23 919.61,432.52 909.38,436.23 909.38,443.67 919.61,447.38 929.84,443.67" fill="#dabf5f" stroke="#dabf5f"/>
<polygon points="950.30,436.23 940.07,432.52 929.84,436.23 929.84,443.67 940.07,447.38 950.30,443.67" fill="#d5b345" stroke="#d5b345"/>
<polygon points="970.76,436.23 960.53,432.52 950.30,436.23 950.30,443.67 960.53,447.38 970.76,443.67" fill="#d8ba54" stroke="#d8ba54"/>
<polygon points="991.22,436.23 980.99,432.52 970.76,436.23 970.76,443.67 980.99,447.38 991.22,443.67" fill="#dabf5f" stroke="#dabf5f"/>
<polygon points="1011.68,436.23 1001.45,432.52 991.22,436.23 991.22,443.67 1001.45,447.38 1011.68,443.67" fill="#d8ba54" stroke="#d8ba54"/>
<polygon points="1032.14,436.23 1021.91,432.52 1011.68,436.23 1011.68,443.67 1021.91,447.38 1032.14,443.67" fill="#e1cd81" stroke="#e1cd81"/>
<polygon points="1052.60,436.23 1042.37,432.52 1032.14,436.23 1032.14,443.67 1042.37,447.38 1052.60,443.67" fill="#e4d490" stroke="#e4d490"/>
<polygon points="1073.06,436.23 1062.83,432.52 1052.60,436.23 1052.60,443.67 1062.83,447.38 1073.06,443.67" fill="#e7daa0" stroke="#e7daa0"/>
<polygon points="1093.52,436.23 1083.29,432.52 1073.06,436.23 1073.06,443.67 1083.29,447.38 1093.52,443.67" fill="#efecca" stroke="#efecca"/>
<polygon points="1113.98,436.23 1103.75,432.52 1093.52,436.23 1093.52,443.67 1103.75,447.38 1113.98,443.67" fill="#f3f4de" stroke="#f3f4de"/>
<polygon points="1134.44,436.23 1124.21,432.52 1113.98,436.23 1113.98,443.67 1124.21,447.38 1134.44,443.67" fill="#f7f8e8" stroke="#f7f8e8"/>
<polygon points="1154.90,436.23 1144.67,432.52 1134.44,436.23 1134.44,443.67 1144.67,447.38 1154.90,443.67" fill="#fafaf0" stroke="#fafaf0"/>
<polygon points="1175.36,436.23 1165.13,432.52 1154.90,436.23 1154.90,443.67 1165.13,447.38 1175.36,443.67" fill="#fbfbf5" stroke="#fbfbf5"/>
<polygon points="1195.82,436.23 1185.59,432.52 1175.36,436.23 1175.36,443.67 1185.59,447.38 1195.82,443.67" fill="#fcfcf8" stroke="#fcfcf8"/>
<polygon points="1216.28,436.23 1206.05,432.52 1195.82,436.23 1195.82,443.67 1206.05,447.38 1216.28,443.67" fill="#fdfdfc" stroke="#fdfdfc"/>
<polygon points="1236.74,436.23 1226.51,432.52 1216.28,436.23 1216.28,443.67 1226.51,447.38 1236.74,443.67" fill="#fdfdfc" stroke="#fdfdfc"/>
<polygon points="868.46,413.93 858.23,410.22 848.00,413.93 848.00,421.37 858.23,425.08 868.46,421.37" fill="#ddc36b" stroke="#ddc36b"/>
<polygon points="888.92,413.93 878.69,410.22 868.46,413.93 868.46,421.37 878.69,425.08 888.92,421.37" fill="#ddc36b" stroke="#ddc36b"/>
<polygon points="909.38,413.93 899.15,410.22 888.92,413.93 888.92,421.37 899.15,425.08 909.38,421.37" fill="#ddc36b" stroke="#ddc36b"/>
<polygon points="929.84,413.93 919.61,410.22 909.38,413.93 909.38,421.37 919.61,425.08 929.84,421.37" fill="#dabf5f" stroke="#dabf5f"/>
<polygon points="950.30,413.93 940.07,410.22 929.84,413.93 929.84,421.37 940.07,425.08 950.30,421.37" fill="#ddc36b" stroke="#ddc36b"/>
<polygon points="970.76,413.93 960.53,410.22 950.30,413.93 950.30,421.37 960.53,425.08 970.76,421.37" fill="#ddc36b" stroke="#ddc36b"/>
<polygon points="991.22,413.93 980.99,410.22 970.76,413.93 970.76,421.37 980.99,425.08 991.22,421.37" fill="#ddc36b" stroke="#ddc36b"/>
<polygon points="1011.68,413.93 1001.45,410.22 991.22,413.93 991.22,421.37 1001.45,425.08 1011.68,421.37" fill="#e1cd81" stroke="#e1cd81"/>
<polygon points="1032.14,413.93 1021.91,410.22 1011.68,413.93 1011.68,421.37 1021.91,425.08 1032.14,421.37" fill="#e3d28c" stroke="#e3d28c"/>
<polygon points="1052.60,413.93 1042.37,410.22 1032.14,413.93 1032.14,421.37 1042.37,425.08 1052.60,421.37" fill="#e8dca5" stroke="#e8dca5"/>
<polygon points="1073.06,413.93 1062.83,410.22 1052.60,413.93 1052.60,421.37 1062.83,425.08 1073.06,421.37" fill="#ede7bf" stroke="#ede7bf"/>
<polygon points="1093.52,413.93 1083.29,410.22 1073.06,413.93 1073.06,421.37 1083.29,425.08 1093.52,421.37" fill="#ede7bf" stroke="#ede7bf"/>
<polygon points="1113.98,413.93 1103.75,410.22 1093.52,413.93 1093.52,421.37 1103.75,425.08 1113.98,421.37" fill="#f3f4de" stroke="#f3f4de"/>
<polygon points="1134.44,413.93 1124.21,410.22 1113.98,413.93 1113.98,421.37 1124.21,425.08 1134.44,421.37" fill="#f7f8e8" stroke="#f7f8e8"/>
<polygon points="1154.90,413.93 1144.67,410.22 1134.44,413.93 1134.44,421.37 1144.67,425.08 1154.90,421.37" fill="#fafaf0" stroke="#fafaf0"/>
<polygon points="1175.36,413.93 1165.13,410.22 1154.90,413.93 1154.90,421.37 1165.13,425.08 1175.36,421.37" fill="#fcfcf6" stroke="#fcfcf6"/>
<polygon points="1195.82,413.93 1185.59,410.22 1175.36,413.93 1175.36,421.37 1185.59,425.08 1195.82,421.37" fill="#fcfcf8" stroke="#fcfcf8"/>
<polygon points="1216.28,413.93 1206.05,410.22 1195.82,413.93 1195.82,421.37 1206.05,425.08 1216.28,421.37" fill="#fdfdfc" stroke="#fdfdfc"/>
<polygon points="1236.74,413.93 1226.51,410.22 1216.28,413.93 1216.28,421.37 1226.51,425.08 1236.74,421.37" fill="#fdfdfc" stroke="#fdfdfc"/>
<polygon points="868.46,391.63 858.23,387.92 848.00,391.63 848.00,399.07 858.23,402.78 868.46,399.07" fill="#e1cd81" stroke="#e1cd81"/>
<polygon points="888.92,391.63 878.69,387.92 868.46,391.63 868.46,399.07 878.69,402.78 888.92,399.07" fill="#e1cd81" stroke="#e1cd81"/>
<polygon points="909.38,391.63 899.15,387.92 888.92,391.63 888.92,399.07 899.15,402.78 909.38,399.07" fill="#e1cd81" stroke="#e1cd81"/>
<polygon points="929.84,391.63 919.61,387.92 909.38,391.63 909.38,399.07 919.61,402.78 929.84,399.07" fill="#e1cd81" stroke="#e1cd81"/>
<polygon points="950.30,391.63 940.07,387.92 929.84,391.63 929.84,399.07 940.07,402.78 950.30,399.07" fill="#e1cd81" stroke="#e1cd81"/>
<polygon points="970.76,391.63 960.53,387.92 950.30,391.63 950.30,399.07 960.53,402.78 970.76,399.07" fill="#e3d28c" stroke="#e3d28c"/>
<polygon points="991.22,391.63 980.99,387.92 970.76,391.63 970.76,399.07 980.99,402.78 991.22,399.07" fill="#e3d28c" stroke="#e3d28c"/>
<polygon points="1011.68,391.63 1001.45,387.92 991.22,391.63 991.22,399.07 1001.45,402.78 1011.68,399.07" fill="#ebe3b5" stroke="#ebe3b5"/>
<polygon points="1032.14,391.63 1021.91,387.92 1011.68,391.63 1011.68,399.07 1021.91,402.78 1032.14,399.07" fill="#ebe3b5" stroke="#ebe3b5"/>
<polygon points="1052.60,391.63 1042.37,387.92 1032.14,391.63 1032.14,399.07 1042.37,402.78 1052.60,399.07" fill="#ece5b9" stroke="#ece5b9"/>
<polygon points="1073.06,391.63 1062.83,387.92 1052.60,391.63 1052.60,399.07 1062.83,402.78 1073.06,399.07" fill="#f3f4de" stroke="#f3f4de"/>
<polygon points="1093.52,391.63 1083.29,387.92 1073.06,391.63 1073.06,399.07 1083.29,402.78 1093.52,399.07" fill="#f3f4de" stroke="#f3f4de"/>
<polygon points="1113.98,391.63 1103.75,387.92 1093.52,391.63 1093.52,399.07 1103.75,402.78 1113.98,399.07" fill="#f3f4de" stroke="#f3f4de"/>
<polygon points="1134.44,391.63 1124.21,387.92 1113.98,391.63 1113.98,399.07 1124.21,402.78 1134.44,399.07" fill="#f7f8e8" stroke="#f7f8e8"/>
<polygon points="1154.90,391.63 1144.67,387.92 1134.44,391.63 1134.44,399.07 1144.67,402.78 1154.90,399.07" fill="#fafaf0" stroke="#fafaf0"/>
<polygon points="1175.36,391.63 1165.13,387.92 1154.90,391.63 1154.90,399.07 1165.13,402.78 1175.36,399.07" fill="#fcfcf8" stroke="#fcfcf8"/>
<polygon points="1195.82,391.63 1185.59,387.92 1175.36,391.63 1175.36,399.07 1185.59,402.78 1195.82,399.07" fill="#fcfcf8" stroke="#fcfcf8"/>
<polygon points="1216.28,391.63 1206.05,387.92 1195.82,391.63 1195.82,399.07 1206.05,402.78 1216.28,399.07" fill="#fdfdfc" stroke="#fdfdfc"/>
<polygon points="1236.74,391.63 1226.51,387.92 1216.28,391.63 1216.28,399.07 1226.51,402.78 1236.74,399.07" fill="#fdfdfc" stroke="#fdfdfc"/>
<polygon points="868.46,369.33 858.23,365.62 848.00,369.33 848.00,376.77 858.23,380.48 868.46,376.77" fill="#e5d696" stroke="#e5d696"/>
<polygon points="888.92,369.33 878.69,365.62 868.46,369.33 868.46,376.77 878.69,380.48 888.92,376.77" fill="#e5d696" stroke="#e5d696"/>
<polygon points="909.38,369.33 899.15,365.62 888.92,369.33 888.92,376.77 899.15,380.48 909.38,376.77" fill="#e7daa0" stroke="#e7daa0"/>
<polygon points="929.84,369.33 919.61,365.62 909.38,369.33 909.38,376.77 919.61,380.48 929.84,376.77" fill="#e7daa0" stroke="#e7daa0"/>
<polygon points="950.30,369.33 940.07,365.62 929.84,369.33 929.84,376.77 940.07,380.48 950.30,376.77" fill="#e5d696" stroke="#e5d696"/>
<polygon points="970.76,369.33 960.53,365.62 950.30,369.33 950.30,376.77 960.53,380.48 970.76,376.77" fill="#e9dfab" stroke="#e9dfab"/>
<polygon points="991.22,369.33 980.99,365.62 970.76,369.33 970.76,376.77 980.99,380.48 991.22,376.77" fill="#ede7bf" stroke="#ede7bf"/>
<polygon points="1011.68,369.33 1001.45,365.62 991.22,369.33 991.22,376.77 1001.45,380.48 1011.68,376.77" fill="#ede7bf" stroke="#ede7bf"/>
<polygon points="1032.14,369.33 1021.91,365.62 1011.68,369.33 1011.68,376.77 1021.91,380.48 1032.14,376.77" fill="#efecca" stroke="#efecca"/>
<polygon points="1052.60,369.33 1042.37,365.62 1032.14,369.33 1032.14,376.77 1042.37,380.48 1052.60,376.77" fill="#f1f0d4" stroke="#f1f0d4"/>
<polygon points="1073.06,369.33 1062.83,365.62 1052.60,369.33 1052.60,376.77 1062.83,380.48 1073.06,376.77" fill="#f3f4de" stroke="#f3f4de"/>
<polygon points="1093.52,369.33 1083.29,365.62 1073.06,369.33 1073.06,376.77 1083.29,380.48 1093.52,376.77" fill="#fafaf0" stroke="#fafaf0"/>
<polygon points="1113.98,369.33 1103.75,365.62 1093.52,369.33 1093.52,376.77 1103.75,380.48 1113.98,376.77" fill="#fafaf0" stroke="#fafaf0"/>
<polygon points="1134.44,369.33 1124.21,365.62 1113.98,369.33 1113.98,376.77 1124.21,380.48 1134.44,376.77" fill="#fafaf0" stroke="#fafaf0"/>
<polygon points="1154.90,369.33 1144.67,365.62 1134.44,369.33 1134.44,376.77 1144.67,380.48 1154.90,376.77" fill="#fbfbf5" stroke="#fbfbf5"/>
<polygon points="1175.36,369.33 1165.13,365.62 1154.90,369.33 1154.90,376.77 1165.13,380.48 1175.36,376.77" fill="#fcfcf9" stroke="#fcfcf9"/>
<polygon points="1195.82,369.33 1185.59,365.62 1175.36,369.33 1175.36,376.77 1185.59,380.48 1195.82,376.77" fill="#fcfcf9" stroke="#fcfcf9"/>
<polygon points="1216.28,369.33 1206.05,365.62 1195.82,369.33 1195.82,376.77 1206.05,380.48 1216.28,376.77" fill="#fdfdfc" stroke="#fdfdfc"/>
<polygon points="1236.74,369.33 1226.51,365.62 1216.28,369.33 1216.28,376.77 1226.51,380.48 1236.74,376.77" fill="#fdfdfc" stroke="#fdfdfc"/>
<polygon points="868.46,347.03 858.23,343.32 848.00,347.03 848.00,354.47 858.23,358.18 868.46,354.47" fill="#e9dfab" stroke="#e9dfab"/>
<polygon points="888.92,347.03 878.69,343.32 868.46,347.03 868.46,354.47 878.69,358.18 888.92,354.47" fill="#e9dfab" stroke="#e9dfab"/>
<polygon points="909.38,347.03 899.15,343.32 888.92,347.03 888.92,354.47 899.15,358.18 909.38,354.47" fill="#ede7bf" stroke="#ede7bf"/>
<polygon points="929.84,347.03 919.61,343.32 909.38,347.03 909.38,354.47 919.61,358.18 929.84,354.47" fill="#ede7bf" stroke="#ede7bf"/>
<polygon points="950.30,347.03 940.07,343.32 929.84,347.03 929.84,354.47 940.07,358.18 950.30,354.47" fill="#ece6bb" stroke="#ece6bb"/>
<polygon points="970.76,347.03 960.53,343.32 950.30,347.03 950.30,354.47 960.53,358.18 970.76,354.47" fill="#ede7bf" stroke="#ede7bf"/>
<polygon points="991.22,347.03 980.99,343.32 970.76,347.03 970.76,354.47 980.99,358.18 991.22,354.47" fill="#ede7bf" stroke="#ede7bf"/>
<polygon points="1011.68,347.03 1001.45,343.32 991.22,347.03 991.22,354.47 1001.45,358.18 1011.68,354.47" fill="#f1f0d4" stroke="#f1f0d4"/>
<polygon points="1032.14,347.03 1021.91,343.32 1011.68,347.03 1011.68,354.47 1021.91,358.18 1032.14,354.47" fill="#f7f8e8" stroke="#f7f8e8"/>
<polygon points="1052.60,347.03 1042.37,343.32 1032.14,347.03 1032.14,354.47 1042.37,358.18 1052.60,354.47" fill="#f7f8e8" stroke="#f7f8e8"/>
<polygon points="1073.06,347.03 1062.83,343.32 1052.60,347.03 1052.60,354.47 1062.83,358.18 1073.06,354.47" fill="#f8f9ed" stroke="#f8f9ed"/>
<polygon points="1093.52,347.03 1083.29,343.32 1073.06,347.03 1073.06,354.47 1083.29,358.18 1093.52,354.47" fill="#fafaf0" stroke="#fafaf0"/>
<polygon points="1113.98,347.03 1103.75,343.32 1093.52,347.03 1093.52,354.47 1103.75,358.18 1113.98,354.47" fill="#fafbf3" stroke="#fafbf3"/>
<polygon points="1134.44,347.03 1124.21,343.32 1113.98,347.03 1113.98,354.47 1124.21,358.18 1134.44,354.47" fill="#fcfcf6" stroke="#fcfcf6"/>
<polygon points="1154.90,347.03 1144.67,343.32 1134.44,347.03 1134.44,354.47 1144.67,358.18 1154.90,354.47" fill="#fcfcf8" stroke="#fcfcf8"/>
<polygon points="1175.36,347.03 1165.13,343.32 1154.90,347.03 1154.90,354.47 1165.13,358.18 1175.36,354.47" fill="#fdfdfc" stroke="#fdfdfc"/>
<polygon points="1195.82,347.03 1185.59,343.32 1175.36,347.03 1175.36,354.47 1185.59,358.18 1195.82,354.47" fill="#fdfdfc" stroke="#fdfdfc"/>
<polygon points="1216.28,347.03 1206.05,343.32 1195.82,347.03 1195.82,354.47 1206.05,358.18 1216.28,354.47" fill="#fdfdfc" stroke="#fdfdfc"/>
<polygon points="1236.74,347.03 1226.51,343.32 1216.28,347.03 1216.28,354.47 1226.51,358.18 1236.74,354.47" fill="#fdfdfc" stroke="#fdfdfc"/>
<polygon points="868.46,324.73 858.23,321.02 848.00,324.73 848.00,332.17 858.23,335.88 868.46,332.17" fill="#e9dfab" stroke="#e9dfab"/>
<polygon points="888.92,324.73 878.69,321.02 868.46,324.73 868.46,332.17 878.69,335.88 888.92,332.17" fill="#efecca" stroke="#efecca"/>
<polygon points="909.38,324.73 899.15,321.02 888.92,324.73 888.92,332.17 899.15,335.88 909.38,332.17" fill="#ede7bf" stroke="#ede7bf"/>
<polygon points="929.84,324.73 919.61,321.02 909.38,324.73 909.38,332.17 919.61,335.88 929.84,332.17" fill="#ede7bf" stroke="#ede7bf"/>
<polygon points="950.30,324.73 940.07,321.02 929.84,324.73 929.84,332.17 940.07,335.88 950.30,332.17" fill="#efecca" stroke="#efecca"/>
<polygon points="970.76,324.73 960.53,321.02 950.30,324.73 950.30,332.17 960.53,335.88 970.76,332.17" fill="#efecca" stroke="#efecca"/>
<polygon points="991.22,324.73 980.99,321.02 970.76,324.73 970.76,332.17 980.99,335.88 991.22,332.17" fill="#f3f4de" stroke="#f3f4de"/>
<polygon points="1011.68,324.73 1001.45,321.02 991.22,324.73 991.22,332.17 1001.45,335.88 1011.68,332.17" fill="#f3f4de" stroke="#f3f4de"/>
<polygon points="1032.14,324.73 1021.91,321.02 1011.68,324.73 1011.68,332.17 1021.91,335.88 1032.14,332.17" fill="#f7f8e8" stroke="#f7f8e8"/>
<polygon points="1052.60,324.73 1042.37,321.02 1032.14,324.73 1032.14,332.17 1042.37,335.88 1052.60,332.17" fill="#fafaf0" stroke="#fafaf0"/>
<polygon points="1073.06,324.73 1062.83,321.02 1052.60,324.73 1052.60,332.17 1062.83,335.88 1073.06,332.17" fill="#fafaf2" stroke="#fafaf2"/>
<polygon points="1093.52,324.73 1083.29,321.02 1073.06,324.73 1073.06,332.17 1083.29,335.88 1093.52,332.17" fill="#fafbf3" stroke="#fafbf3"/>
<polygon points="1113.98,324.73 1103.75,321.02 1093.52,324.73 1093.52,332.17 1103.75,335.88 1113.98,332.17" fill="#fbfbf5" stroke="#fbfbf5"/>
<polygon points="1134.44,324.73 1124.21,321.02 1113.98,324.73 1113.98,332.17 1124.21,335.88 1134.44,332.17" fill="#fcfcf8" stroke="#fcfcf8"/>
<polygon points="1154.90,324.73 1144.67,321.02 1134.44,324.73 1134.44,332.17 1144.67,335.88 1154.90,332.17" fill="#fcfcf9" stroke="#fcfcf9"/>
<polygon points="1175.36,324.73 1165.13,321.02 1154.90,324.73 1154.90,332.17 1165.13,335.88 1175.36,332.17" fill="#fdfdfc" stroke="#fdfdfc"/>
<polygon points="1195.82,324.73 1185.59,321.02 1175.36,324.73 1175.36,332.17 1185.59,335.88 1195.82,332.17" fill="#fdfdfc" stroke="#fdfdfc"/>
<polygon points="1216.28,324.73 1206.05,321.02 1195.82,324.73 1195.82,332.17 1206.05,335.88 1216.28,332.17" fill="#fdfdfc" stroke="#fdfdfc"/>
<polygon points="1236.74,324.73 1226.51,321.02 1216.28,324.73 1216.28,332.17 1226.51,335.88 1236.74,332.17" fill="#fdfdfc" stroke="#fdfdfc"/>
<polygon points="868.46,302.43 858.23,298.72 848.00,302.43 848.00,309.87 858.23,313.58 868.46,309.87" fill="#ede7bf" stroke="#ede7bf"/>
<polygon points="888.92,302.43 878.69,298.72 868.46,302.43 868.46,309.87 878.69,313.58 888.92,309.87" fill="#f1f0d4" stroke="#f1f0d4"/>
<polygon points="909.38,302.43 899.15,298.72 888.92,302.43 888.92,309.87 899.15,313.58 909.38,309.87" fill="#f1f0d4" stroke="#f1f0d4"/>
<polygon points="929.84,302.43 919.61,298.72 909.38,302.43 909.38,309.87 919.61,313.58 929.84,309.87" fill="#efecca" stroke="#efecca"/>
<polygon points="950.30,302.43 940.07,298.72 929.84,302.43 929.84,309.87 940.07,313.58 950.30,309.87" fill="#f0eed0" stroke="#f0eed0"/>
<polygon points="970.76,302.43 960.53,298.72 950.30,302.43 950.30,309.87 960.53,313.58 970.76,309.87" fill="#f3f4de" stroke="#f3f4de"/>
<polygon points="991.22,302.43 980.99,298.72 970.76,302.43 970.76,309.87 980.99,313.58 991.22,309.87" fill="#f7f8e8" stroke="#f7f8e8"/>
<polygon points="1011.68,302.43 1001.45,298.72 991.22,302.43 991.22,309.87 1001.45,313.58 1011.68,309.87" fill="#f7f8e8" stroke="#f7f8e8"/>
<polygon points="1032.14,302.43 1021.91,298.72 1011.68,302.43 1011.68,309.87 1021.91,313.58 1032.14,309.87" fill="#fafaf0" stroke="#fafaf0"/>
<polygon points="1052.60,302.43 1042.37,298.72 1032.14,302.43 1032.14,309.87 1042.37,313.58 1052.60,309.87" fill="#fafaf0" stroke="#fafaf0"/>
<polygon points="1073.06,302.43 1062.83,298.72 1052.60,302.43 1052.60,309.87 1062.83,313.58 1073.06,309.87" fill="#fafbf3" stroke="#fafbf3"/>
<polygon points="1093.52,302.43 1083.29,298.72 1073.06,302.43 1073.06,309.87 1083.29,313.58 1093.52,309.87" fill="#fbfbf5" stroke="#fbfbf5"/>
<polygon points="1113.98,302.43 1103.75,298.72 1093.52,302.43 1093.52,309.87 1103.75,313.58 1113.98,309.87" fill="#fcfcf8" stroke="#fcfcf8"/>
<polygon points="1134.44,302.43 1124.21,298.72 1113.98,302.43 1113.98,309.87 1124.21,313.58 1134.44,309.87" fill="#fcfcf9" stroke="#fcfcf9"/>
<polygon points="1154.90,302.43 1144.67,298.72 1134.44,302.43 1134.44,309.87 1144.67,313.58 1154.90,309.87" fill="#fdfdfc" stroke="#fdfdfc"/>
<polygon points="1175.36,302.43 1165.13,298.72 1154.90,302.43 1154.90,309.87 1165.13,313.58 1175.36,309.87" fill="#fdfdfc" stroke="#fdfdfc"/>
<polygon points="1195.82,302.43 1185.59,298.72 1175.36,302.43 1175.36,309.87 1185.59,313.58 1195.82,309.87" fill="#fdfdfc" stroke="#fdfdfc"/>
<polygon points="1216.28,302.43 1206.05,298.72 1195.82,302.43 1195.82,309.87 1206.05,313.58 1216.28,309.87" fill="#fdfdfc" stroke="#fdfdfc"/>
<polygon points="1236.74,302.43 1226.51,298.72 1216.28,302.43 1216.28,309.87 1226.51,313.58 1236.74,309.87" fill="#fdfdfc" stroke="#fdfdfc"/>
<polygon points="868.46,280.13 858.23,276.42 848.00,280.13 848.00,287.57 858.23,291.28 868.46,287.57" fill="#efecca" stroke="#efecca"/>
<polygon points="888.92,280.13 878.69,276.42 868.46,280.13 868.46,287.57 878.69,291.28 888.92,287.57" fill="#efecca" stroke="#efecca"/>
<polygon points="909.38,280.13 899.15,276.42 888.92,280.13 888.92,287.57 899.15,291.28 909.38,287.57" fill="#f1f0d4" stroke="#f1f0d4"/>
<polygon points="929.84,280.13 919.61,276.42 909.38,280.13 909.38,287.57 919.61,291.28 929.84,287.57" fill="#f3f4de" stroke="#f3f4de"/>
<polygon points="950.30,280.13 940.07,276.42 929.84,280.13 929.84,287.57 940.07,291.28 950.30,287.57" fill="#f5f6e2" stroke="#f5f6e2"/>
<polygon points="970.76,280.13 960.53,276.42 950.30,280.13 950.30,287.57 960.53,291.28 970.76,287.57" fill="#f7f8e8" stroke="#f7f8e8"/>
<polygon points="991.22,280.13 980.99,276.42 970.76,280.13 970.76,287.57 980.99,291.28 991.22,287.57" fill="#f7f8e8" stroke="#f7f8e8"/>
<polygon points="1011.68,280.13 1001.45,276.42 991.22,280.13 991.22,287.57 1001.45,291.28 1011.68,287.57" fill="#f7f8e8" stroke="#f7f8e8"/>
<polygon points="1032.14,280.13 1021.91,276.42 1011.68,280.13 1011.68,287.57 1021.91,291.28 1032.14,287.57" fill="#fafaf0" stroke="#fafaf0"/>
<polygon points="1052.60,280.13 1042.37,276.42 1032.14,280.13 1032.14,287.57 1042.37,291.28 1052.60,287.57" fill="#fcfcf8" stroke="#fcfcf8"/>
<polygon points="1073.06,280.13 1062.83,276.42 1052.60,280.13 1052.60,287.57 1062.83,291.28 1073.06,287.57" fill="#fcfcf8" stroke="#fcfcf8"/>
<polygon points="1093.52,280.13 1083.29,276.42 1073.06,280.13 1073.06,287.57 1083.29,291.28 1093.52,287.57" fill="#fcfcf9" stroke="#fcfcf9"/>
<polygon points="1113.98,280.13 1103.75,276.42 1093.52,280.13 1093.52,287.57 1103.75,291.28 1113.98,287.57" fill="#fdfdfc" stroke="#fdfdfc"/>
<polygon points="1134.44,280.13 1124.21,276.42 1113.98,280.13 1113.98,287.57 1124.21,291.28 1134.44,287.57" fill="#fdfdfc" stroke="#fdfdfc"/>
<polygon points="1154.90,280.13 1144.67,276.42 1134.44,280.13 1134.44,287.57 1144.67,291.28 1154.90,287.57" fill="#fdfdfc" stroke="#fdfdfc"/>
<polygon points="1175.36,280.13 1165.13,276.42 1154.90,280.13 1154.90,287.57 1165.13,291.28 1175.36,287.57" fill="#fdfdfc" stroke="#fdfdfc"/>
<polygon points="1195.82,280.13 1185.59,276.42 1175.36,280.13 1175.36,287.57 1185.59,291.28 1195.82,287.57" fill="#fdfdfc" stroke="#fdfdfc"/>
<polygon points="1216.28,280.13 1206.05,276.42 1195.82,280.13 1195.82,287.57 1206.05,291.28 1216.28,287.57" fill="#fdfdfc" stroke="#fdfdfc"/>
<polygon points="1236.74,280.13 1226.51,276.42 1216.28,280.13 1216.28,287.57 1226.51,291.28 1236.74,287.57" fill="#fdfdfc" stroke="#fdfdfc"/>
<polygon points="868.46,257.83 858.23,254.12 848.00,257.83 848.00,265.27 858.23,268.98 868.46,265.27" fill="#f3f4de" stroke="#f3f4de"/>
<polygon points="888.92,257.83 878.69,254.12 868.46,257.83 868.46,265.27 878.69,268.98 888.92,265.27" fill="#f3f4de" stroke="#f3f4de"/>
<polygon points="909.38,257.83 899.15,254.12 888.92,257.83 888.92,265.27 899.15,268.98 909.38,265.27" fill="#f7f8e8" stroke="#f7f8e8"/>
<polygon points="929.84,257.83 919.61,254.12 909.38,257.83 909.38,265.27 919.61,268.98 929.84,265.27" fill="#f7f8e8" stroke="#f7f8e8"/>
<polygon points="950.30,257.83 940.07,254.12 929.84,257.83 929.84,265.27 940.07,268.98 950.30,265.27" fill="#f8f8ea" stroke="#f8f8ea"/>
<polygon points="970.76,257.83 960.53,254.12 950.30,257.83 950.30,265.27 960.53,268.98 970.76,265.27" fill="#f8f9eb" stroke="#f8f9eb"/>
<polygon points="991.22,257.83 980.99,254.12 970.76,257.83 970.76,265.27 980.99,268.98 991.22,265.27" fill="#fafaf0" stroke="#fafaf0"/>
<polygon points="1011.68,257.83 1001.45,254.12 991.22,257.83 991.22,265.27 1001.45,268.98 1011.68,265.27" fill="#fbfbf5" stroke="#fbfbf5"/>
<polygon points="1032.14,257.83 1021.91,254.12 1011.68,257.83 1011.68,265.27 1021.91,268.98 1032.14,265.27" fill="#fdfdfc" stroke="#fdfdfc"/>
<polygon points="1052.60,257.83 1042.37,254.12 1032.14,257.83 1032.14,265.27 1042.37,268.98 1052.60,265.27" fill="#fdfdfc" stroke="#fdfdfc"/>
<polygon points="1073.06,257.83 1062.83,254.12 1052.60,257.83 1052.60,265.27 1062.83,268.98 1073.06,265.27" fill="#fdfdfc" stroke="#fdfdfc"/>
<polygon points="1093.52,257.83 1083.29,254.12 1073.06,257.83 1073.06,265.27 1083.29,268.98 1093.52,265.27" fill="#fdfdfc" stroke="#fdfdfc"/>
<polygon points="1113.98,257.83 1103.75,254.12 1093.52,257.83 1093.52,265.27 1103.75,268.98 1113.98,265.27" fill="#fdfdfc" stroke="#fdfdfc"/>
<polygon points="1134.44,257.83 1124.21,254.12 1113.98,257.83 1113.98,265.27 1124.21,268.98 1134.44,265.27" fill="#fdfdfc" stroke="#fdfdfc"/>
<polygon points="1154.90,257.83 1144.67,254.12 1134.44,257.83 1134.44,265.27 1144.67,268.98 1154.90,265.27" fill="#fdfdfc" stroke="#fdfdfc"/>
<polygon points="1175.36,257.83 1165.13,254.12 1154.90,257.83 1154.90,265.27 1165.13,268.98 1175.36,265.27" fill="#fdfdfc" stroke="#fdfdfc"/>
<polygon points="1195.82,257.83 1185.59,254.12 1175.36,257.83 1175.36,265.27 1185.59,268.98 1195.82,265.27" fill="#fdfdfc" stroke="#fdfdfc"/>
<polygon points="1216.28,257.83 1206.05,254.12 1195.82,257.83 1195.82,265.27 1206.05,268.98 1216.28,265.27" fill="#fdfdfc" stroke="#fdfdfc"/>
<polygon points="1236.74,257.83 1226.51,254.12 1216.28,257.83 1216.28,265.27 1226.51,268.98 1236.74,265.27" fill="#fdfdfc" stroke="#fdfdfc"/>
<polygon points="868.46,235.53 858.23,231.82 848.00,235.53 848.00,242.97 858.23,246.68 868.46,242.97" fill="#fafaf0" stroke="#fafaf0"/>
<polygon points="888.92,235.53 878.69,231.82 868.46,235.53 868.46,242.97 878.69,246.68 888.92,242.97" fill="#fafaf0" stroke="#fafaf0"/>
<polygon points="909.38,235.53 899.15,231.82 888.92,235.53 888.92,242.97 899.15,246.68 909.38,242.97" fill="#fafaf0" stroke="#fafaf0"/>
<polygon points="929.84,235.53 919.61,231.82 909.38,235.53 909.38,242.97 919.61,246.68 929.84,242.97" fill="#fafaf0" stroke="#fafaf0"/>
<polygon points="950.30,235.53 940.07,231.82 929.84,235.53 929.84,242.97 940.07,246.68 950.30,242.97" fill="#fafbf3" stroke="#fafbf3"/>
<polygon points="970.76,235.53 960.53,231.82 950.30,235.53 950.30,242.97 960.53,246.68 970.76,242.97" fill="#fbfbf5" stroke="#fbfbf5"/>
<polygon points="991.22,235.53 980.99,231.82 970.76,235.53 970.76,242.97 980.99,246.68 991.22,242.97" fill="#fcfcf8" stroke="#fcfcf8"/>
<polygon points="1011.68,235.53 1001.45,231.82 991.22,235.53 991.22,242.97 1001.45,246.68 1011.68,242.97" fill="#fdfdfc" stroke="#fdfdfc"/>
<polygon points="1032.14,235.53 1021.91,231.82 1011.68,235.53 1011.68,242.97 1021.91,246.68 1032.14,242.97" fill="#fdfdfc" stroke="#fdfdfc"/>
<polygon points="1052.60,235.53 1042.37,231.82 1032.14,235.53 1032.14,242.97 1042.37,246.68 1052.60,242.97" fill="#fdfdfc" stroke="#fdfdfc"/>
<polygon points="1073.06,235.53 1062.83,231.82 1052.60,235.53 1052.60,242.97 1062.83,246.68 1073.06,242.97" fill="#fdfdfc" stroke="#fdfdfc"/>
<polygon points="1093.52,235.53 1083.29,231.82 1073.06,235.53 1073.06,242.97 1083.29,246.68 1093.52,242.97" fill="#fdfdfc" stroke="#fdfdfc"/>
<polygon points="1113.98,235.53 1103.75,231.82 1093.52,235.53 1093.52,242.97 1103.75,246.68 1113.98,242.97" fill="#fdfdfc" stroke="#fdfdfc"/>
<polygon points="1134.44,235.53 1124.21,231.82 1113.98,235.53 1113.98,242.97 1124.21,246.68 1134.44,242.97" fill="#fdfdfc" stroke="#fdfdfc"/>
<polygon points="1154.90,235.53 1144.67,231.82 1134.44,235.53 1134.44,242.97 1144.67,246.68 1154.90,242.97" fill="#fdfdfc" stroke="#fdfdfc"/>
<polygon points="1175.36,235.53 1165.13,231.82 1154.90,235.53 1154.90,242.97 1165.13,246.68 1175.36,242.97" fill="#fdfdfc" stroke="#fdfdfc"/>
<polygon points="1195.82,235.53 1185.59,231.82 1175.36,235.53 1175.36,242.97 1185.59,246.68 1195.82,242.97" fill="#fdfdfc" stroke="#fdfdfc"/>
<polygon points="1216.28,235.53 1206.05,231.82 1195.82,235.53 1195.82,242.97 1206.05,246.68 1216.28,242.97" fill="#fdfdfc" stroke="#fdfdfc"/>
<polygon points="1236.74,235.53 1226.51,231.82 1216.28,235.53 1216.28,242.97 1226.51,246.68 1236.74,242.97" fill="#fdfdfc" stroke="#fdfdfc"/>
</g>
<polygon points="138.50,208.00 138.50,50.50 139.90,50.50 140.80,59.50 141.50,79.00 142.70,92.50 143.80,100.00 145.30,112.00 147.50,124.00 150.50,133.00 155.00,142.00 160.30,148.90 163.40,152.20 170.60,157.00 177.70,161.70 189.70,167.70 201.60,172.50 213.50,176.00 225.50,179.60 237.40,182.70 249.30,185.10 261.30,186.80 273.20,189.20 280.00,189.70 289.90,191.60 313.10,194.40 346.20,198.00 362.80,200.50 395.90,203.80 429.00,206.00 440.60,206.80 478.70,207.50 511.80,208.00" fill="#64ae5a"/>
<polygon points="547.50,353.00 548.30,377.00 549.80,416.00 550.90,480.00 553.10,501.80 556.40,523.60 559.60,545.50 564.00,562.90 570.50,578.20 579.30,591.30 590.20,603.30 603.30,610.90 616.40,617.50 631.60,621.40 649.10,624.00 670.90,626.60 692.70,628.40 708.00,629.50 708.00,631.00 547.50,631.00" fill="#64ae5a"/>
<polygon points="849.50,208.00 849.50,133.70 850.80,133.70 851.00,124.30 853.60,124.30 854.40,126.70 856.00,134.50 862.30,134.50 868.50,129.80 876.40,125.10 885.80,122.00 896.80,119.90 907.70,120.00 917.20,120.40 926.60,123.20 939.10,126.70 947.00,129.80 954.80,132.20 964.20,136.00 975.20,140.80 986.20,145.50 995.60,150.20 1000.00,152.40 1015.90,159.80 1031.70,169.30 1047.60,177.80 1063.50,183.60 1079.30,188.40 1095.20,193.10 1111.00,197.40 1126.90,200.00 1142.80,201.50 1158.60,203.00 1174.50,203.90 1190.40,204.60 1206.20,205.00 1222.90,205.40 1223.50,208.00" fill="#ceb156"/>
<polygon points="1258.00,242.50 1267.20,242.50 1271.50,270.10 1277.20,293.00 1283.00,316.00 1288.70,333.20 1297.30,353.20 1308.80,373.30 1320.20,390.50 1328.80,404.80 1340.30,422.00 1348.70,430.00 1357.90,441.00 1368.90,455.80 1383.60,474.20 1398.40,492.60 1409.40,507.30 1416.80,522.10 1419.40,536.80 1418.60,547.90 1409.40,566.30 1394.70,577.30 1368.90,588.40 1346.80,595.70 1321.00,605.00 1298.90,612.30 1289.70,617.80 1286.00,623.40 1287.90,627.00 1297.10,628.90 1297.10,630.70 1258.00,630.70" fill="#ceb156"/>
<line x1="138.50" y1="31.40" x2="138.50" y2="208.80" stroke="#000" stroke-width="1.7"/>
<line x1="131.50" y1="208.00" x2="138.50" y2="208.00" stroke="#000" stroke-width="1.6"/>
<text transform="translate(124.40,215.10) scale(1.03,1)" font-size="20" text-anchor="end" font-weight="normal" letter-spacing="1.1" >0</text>
<line x1="131.50" y1="163.20" x2="138.50" y2="163.20" stroke="#000" stroke-width="1.6"/>
<text transform="translate(124.40,170.30) scale(1.03,1)" font-size="20" text-anchor="end" font-weight="normal" letter-spacing="1.1" >50000</text>
<line x1="131.50" y1="117.80" x2="138.50" y2="117.80" stroke="#000" stroke-width="1.6"/>
<text transform="translate(124.40,124.90) scale(1.03,1)" font-size="20" text-anchor="end" font-weight="normal" letter-spacing="1.1" >100000</text>
<line x1="131.50" y1="72.30" x2="138.50" y2="72.30" stroke="#000" stroke-width="1.6"/>
<text transform="translate(124.40,79.40) scale(1.03,1)" font-size="20" text-anchor="end" font-weight="normal" letter-spacing="1.1" >150000</text>
<line x1="137.70" y1="208.00" x2="513.50" y2="208.00" stroke="#000" stroke-width="1.7"/>
<line x1="138.50" y1="208.00" x2="138.50" y2="215.00" stroke="#000" stroke-width="1.6"/>
<line x1="213.50" y1="208.00" x2="213.50" y2="215.00" stroke="#000" stroke-width="1.6"/>
<line x1="288.50" y1="208.00" x2="288.50" y2="215.00" stroke="#000" stroke-width="1.6"/>
<line x1="363.50" y1="208.00" x2="363.50" y2="215.00" stroke="#000" stroke-width="1.6"/>
<line x1="438.50" y1="208.00" x2="438.50" y2="215.00" stroke="#000" stroke-width="1.6"/>
<line x1="513.50" y1="208.00" x2="513.50" y2="215.00" stroke="#000" stroke-width="1.6"/>
<line x1="138.50" y1="242.50" x2="138.50" y2="632.30" stroke="#000" stroke-width="1.7"/>
<line x1="131.50" y1="631.50" x2="138.50" y2="631.50" stroke="#000" stroke-width="1.6"/>
<text transform="translate(124.40,638.60) scale(1.03,1)" font-size="20" text-anchor="end" font-weight="normal" letter-spacing="1.1" >0</text>
<line x1="131.50" y1="553.70" x2="138.50" y2="553.70" stroke="#000" stroke-width="1.6"/>
<text transform="translate(124.40,560.80) scale(1.03,1)" font-size="20" text-anchor="end" font-weight="normal" letter-spacing="1.1" >20</text>
<line x1="131.50" y1="475.90" x2="138.50" y2="475.90" stroke="#000" stroke-width="1.6"/>
<text transform="translate(124.40,483.00) scale(1.03,1)" font-size="20" text-anchor="end" font-weight="normal" letter-spacing="1.1" >40</text>
<line x1="131.50" y1="398.10" x2="138.50" y2="398.10" stroke="#000" stroke-width="1.6"/>
<text transform="translate(124.40,405.20) scale(1.03,1)" font-size="20" text-anchor="end" font-weight="normal" letter-spacing="1.1" >60</text>
<line x1="131.50" y1="320.30" x2="138.50" y2="320.30" stroke="#000" stroke-width="1.6"/>
<text transform="translate(124.40,327.40) scale(1.03,1)" font-size="20" text-anchor="end" font-weight="normal" letter-spacing="1.1" >80</text>
<line x1="131.50" y1="242.50" x2="138.50" y2="242.50" stroke="#000" stroke-width="1.6"/>
<text transform="translate(124.40,249.60) scale(1.03,1)" font-size="20" text-anchor="end" font-weight="normal" letter-spacing="1.1" >100</text>
<line x1="137.70" y1="631.50" x2="513.50" y2="631.50" stroke="#000" stroke-width="1.7"/>
<line x1="138.50" y1="631.50" x2="138.50" y2="638.50" stroke="#000" stroke-width="1.6"/>
<text transform="translate(138.40,659.70) scale(1.03,1)" font-size="20" text-anchor="middle" font-weight="normal" letter-spacing="1.1" >0</text>
<line x1="213.50" y1="631.50" x2="213.50" y2="638.50" stroke="#000" stroke-width="1.6"/>
<text transform="translate(213.40,659.70) scale(1.03,1)" font-size="20" text-anchor="middle" font-weight="normal" letter-spacing="1.1" >20</text>
<line x1="288.50" y1="631.50" x2="288.50" y2="638.50" stroke="#000" stroke-width="1.6"/>
<text transform="translate(288.40,659.70) scale(1.03,1)" font-size="20" text-anchor="middle" font-weight="normal" letter-spacing="1.1" >40</text>
<line x1="363.50" y1="631.50" x2="363.50" y2="638.50" stroke="#000" stroke-width="1.6"/>
<text transform="translate(363.40,659.70) scale(1.03,1)" font-size="20" text-anchor="middle" font-weight="normal" letter-spacing="1.1" >60</text>
<line x1="438.50" y1="631.50" x2="438.50" y2="638.50" stroke="#000" stroke-width="1.6"/>
<text transform="translate(438.40,659.70) scale(1.03,1)" font-size="20" text-anchor="middle" font-weight="normal" letter-spacing="1.1" >80</text>
<line x1="513.50" y1="631.50" x2="513.50" y2="638.50" stroke="#000" stroke-width="1.6"/>
<text transform="translate(513.40,659.70) scale(1.03,1)" font-size="20" text-anchor="middle" font-weight="normal" letter-spacing="1.1" >100</text>
<line x1="547.30" y1="242.50" x2="547.30" y2="631.80" stroke="#000" stroke-width="1.7"/>
<line x1="540.30" y1="631.50" x2="547.30" y2="631.50" stroke="#000" stroke-width="1.6"/>
<line x1="540.30" y1="553.70" x2="547.30" y2="553.70" stroke="#000" stroke-width="1.6"/>
<line x1="540.30" y1="475.90" x2="547.30" y2="475.90" stroke="#000" stroke-width="1.6"/>
<line x1="540.30" y1="398.10" x2="547.30" y2="398.10" stroke="#000" stroke-width="1.6"/>
<line x1="540.30" y1="320.30" x2="547.30" y2="320.30" stroke="#000" stroke-width="1.6"/>
<line x1="540.30" y1="242.50" x2="547.30" y2="242.50" stroke="#000" stroke-width="1.6"/>
<line x1="546.50" y1="631.00" x2="717.80" y2="631.00" stroke="#000" stroke-width="1.7"/>
<line x1="547.30" y1="631.00" x2="547.30" y2="638.00" stroke="#000" stroke-width="1.6"/>
<text transform="translate(547.20,659.20) scale(1.03,1)" font-size="20" text-anchor="middle" font-weight="normal" letter-spacing="1.1" >0</text>
<line x1="640.10" y1="631.00" x2="640.10" y2="638.00" stroke="#000" stroke-width="1.6"/>
<text transform="translate(640.00,659.20) scale(1.03,1)" font-size="20" text-anchor="middle" font-weight="normal" letter-spacing="1.1" >100000</text>
<line x1="849.50" y1="32.00" x2="849.50" y2="209.10" stroke="#000" stroke-width="1.7"/>
<line x1="842.50" y1="208.30" x2="849.50" y2="208.30" stroke="#000" stroke-width="1.6"/>
<text transform="translate(835.30,215.40) scale(1.03,1)" font-size="20" text-anchor="end" font-weight="normal" letter-spacing="1.1" >0</text>
<line x1="842.50" y1="157.00" x2="849.50" y2="157.00" stroke="#000" stroke-width="1.6"/>
<text transform="translate(835.30,164.10) scale(1.03,1)" font-size="20" text-anchor="end" font-weight="normal" letter-spacing="1.1" >25000</text>
<line x1="842.50" y1="106.00" x2="849.50" y2="106.00" stroke="#000" stroke-width="1.6"/>
<text transform="translate(835.30,113.10) scale(1.03,1)" font-size="20" text-anchor="end" font-weight="normal" letter-spacing="1.1" >50000</text>
<line x1="842.50" y1="55.80" x2="849.50" y2="55.80" stroke="#000" stroke-width="1.6"/>
<text transform="translate(835.30,62.90) scale(1.03,1)" font-size="20" text-anchor="end" font-weight="normal" letter-spacing="1.1" >75000</text>
<line x1="848.70" y1="208.30" x2="1224.00" y2="208.30" stroke="#000" stroke-width="1.7"/>
<line x1="849.50" y1="208.30" x2="849.50" y2="215.30" stroke="#000" stroke-width="1.6"/>
<line x1="924.40" y1="208.30" x2="924.40" y2="215.30" stroke="#000" stroke-width="1.6"/>
<line x1="999.30" y1="208.30" x2="999.30" y2="215.30" stroke="#000" stroke-width="1.6"/>
<line x1="1074.20" y1="208.30" x2="1074.20" y2="215.30" stroke="#000" stroke-width="1.6"/>
<line x1="1149.10" y1="208.30" x2="1149.10" y2="215.30" stroke="#000" stroke-width="1.6"/>
<line x1="1224.00" y1="208.30" x2="1224.00" y2="215.30" stroke="#000" stroke-width="1.6"/>
<line x1="849.50" y1="242.50" x2="849.50" y2="632.10" stroke="#000" stroke-width="1.7"/>
<line x1="842.50" y1="631.50" x2="849.50" y2="631.50" stroke="#000" stroke-width="1.6"/>
<text transform="translate(835.30,638.60) scale(1.03,1)" font-size="20" text-anchor="end" font-weight="normal" letter-spacing="1.1" >0</text>
<line x1="842.50" y1="553.70" x2="849.50" y2="553.70" stroke="#000" stroke-width="1.6"/>
<text transform="translate(835.30,560.80) scale(1.03,1)" font-size="20" text-anchor="end" font-weight="normal" letter-spacing="1.1" >20</text>
<line x1="842.50" y1="475.90" x2="849.50" y2="475.90" stroke="#000" stroke-width="1.6"/>
<text transform="translate(835.30,483.00) scale(1.03,1)" font-size="20" text-anchor="end" font-weight="normal" letter-spacing="1.1" >40</text>
<line x1="842.50" y1="398.10" x2="849.50" y2="398.10" stroke="#000" stroke-width="1.6"/>
<text transform="translate(835.30,405.20) scale(1.03,1)" font-size="20" text-anchor="end" font-weight="normal" letter-spacing="1.1" >60</text>
<line x1="842.50" y1="320.30" x2="849.50" y2="320.30" stroke="#000" stroke-width="1.6"/>
<text transform="translate(835.30,327.40) scale(1.03,1)" font-size="20" text-anchor="end" font-weight="normal" letter-spacing="1.1" >80</text>
<line x1="842.50" y1="242.50" x2="849.50" y2="242.50" stroke="#000" stroke-width="1.6"/>
<text transform="translate(835.30,249.60) scale(1.03,1)" font-size="20" text-anchor="end" font-weight="normal" letter-spacing="1.1" >100</text>
<line x1="848.70" y1="631.30" x2="1224.00" y2="631.30" stroke="#000" stroke-width="1.7"/>
<line x1="849.50" y1="631.30" x2="849.50" y2="638.30" stroke="#000" stroke-width="1.6"/>
<text transform="translate(849.40,659.50) scale(1.03,1)" font-size="20" text-anchor="middle" font-weight="normal" letter-spacing="1.1" >0</text>
<line x1="924.40" y1="631.30" x2="924.40" y2="638.30" stroke="#000" stroke-width="1.6"/>
<text transform="translate(924.30,659.50) scale(1.03,1)" font-size="20" text-anchor="middle" font-weight="normal" letter-spacing="1.1" >20</text>
<line x1="999.30" y1="631.30" x2="999.30" y2="638.30" stroke="#000" stroke-width="1.6"/>
<text transform="translate(999.20,659.50) scale(1.03,1)" font-size="20" text-anchor="middle" font-weight="normal" letter-spacing="1.1" >40</text>
<line x1="1074.20" y1="631.30" x2="1074.20" y2="638.30" stroke="#000" stroke-width="1.6"/>
<text transform="translate(1074.10,659.50) scale(1.03,1)" font-size="20" text-anchor="middle" font-weight="normal" letter-spacing="1.1" >60</text>
<line x1="1149.10" y1="631.30" x2="1149.10" y2="638.30" stroke="#000" stroke-width="1.6"/>
<text transform="translate(1149.00,659.50) scale(1.03,1)" font-size="20" text-anchor="middle" font-weight="normal" letter-spacing="1.1" >80</text>
<line x1="1224.00" y1="631.30" x2="1224.00" y2="638.30" stroke="#000" stroke-width="1.6"/>
<text transform="translate(1223.90,659.50) scale(1.03,1)" font-size="20" text-anchor="middle" font-weight="normal" letter-spacing="1.1" >100</text>
<line x1="1258.00" y1="242.50" x2="1258.00" y2="631.50" stroke="#000" stroke-width="1.7"/>
<line x1="1251.00" y1="631.50" x2="1258.00" y2="631.50" stroke="#000" stroke-width="1.6"/>
<line x1="1251.00" y1="553.70" x2="1258.00" y2="553.70" stroke="#000" stroke-width="1.6"/>
<line x1="1251.00" y1="475.90" x2="1258.00" y2="475.90" stroke="#000" stroke-width="1.6"/>
<line x1="1251.00" y1="398.10" x2="1258.00" y2="398.10" stroke="#000" stroke-width="1.6"/>
<line x1="1251.00" y1="320.30" x2="1258.00" y2="320.30" stroke="#000" stroke-width="1.6"/>
<line x1="1251.00" y1="242.50" x2="1258.00" y2="242.50" stroke="#000" stroke-width="1.6"/>
<line x1="1257.20" y1="630.70" x2="1428.60" y2="630.70" stroke="#000" stroke-width="1.7"/>
<line x1="1258.00" y1="630.70" x2="1258.00" y2="637.70" stroke="#000" stroke-width="1.6"/>
<text transform="translate(1257.90,658.90) scale(1.03,1)" font-size="20" text-anchor="middle" font-weight="normal" letter-spacing="1.1" >0</text>
<line x1="1348.70" y1="630.70" x2="1348.70" y2="637.70" stroke="#000" stroke-width="1.6"/>
<text transform="translate(1348.60,658.90) scale(1.03,1)" font-size="20" text-anchor="middle" font-weight="normal" letter-spacing="1.1" >25000</text>
<text x="179.50" y="686.80" font-size="20.3" text-anchor="start" font-weight="normal" textLength="291.4" lengthAdjust="spacing">Distance to nearest pond (m)</text>
<text x="890.10" y="687.20" font-size="20.3" text-anchor="start" font-weight="normal" textLength="292.2" lengthAdjust="spacing">Distance to nearest pond (m)</text>
<text transform="translate(74.1,585.4) rotate(-90)" font-size="20.3" textLength="297.2" lengthAdjust="spacing">Distance to nearest forest (m)</text>
<text transform="translate(785,585.4) rotate(-90)" font-size="20.3" textLength="296.8" lengthAdjust="spacing">Distance to nearest forest (m)</text>
<text transform="translate(41,161.6) rotate(-90)" font-size="23" textLength="70.3" lengthAdjust="spacingAndGlyphs">Counts</text>
<text transform="translate(763,160.4) rotate(-90)" font-size="23" textLength="71.6" lengthAdjust="spacingAndGlyphs">Counts</text>
<text x="571" y="688.3" font-size="23" textLength="72.4" lengthAdjust="spacingAndGlyphs">Counts</text>
<text x="1293.4" y="687.8" font-size="23" textLength="71.8" lengthAdjust="spacingAndGlyphs">Counts</text>
<text x="251.6" y="255.4" font-size="27" font-weight="bold" textLength="262.4" lengthAdjust="spacingAndGlyphs">Natural Regeneration</text>
<text x="1066" y="254.9" font-size="27" font-weight="bold" textLength="126.2" lengthAdjust="spacingAndGlyphs">Bare earth</text>
<rect x="3.2" y="2.5" width="1443" height="726.7" fill="none" stroke="#000" stroke-width="1.8"/>
<line x1="738.00" y1="2.50" x2="738.00" y2="729.20" stroke="#000" stroke-width="2"/>
<path d="M3.2,40.5 H41.4 V2.5" fill="none" stroke="#000" stroke-width="1.8"/>
<path d="M738,40.5 H776.3 V2.5" fill="none" stroke="#000" stroke-width="1.8"/>
<text transform="translate(10.8,32.3) scale(0.82,1)" font-size="40">a</text>
<text x="744.5" y="36" font-size="35">b</text>
</svg>
</body></html>
